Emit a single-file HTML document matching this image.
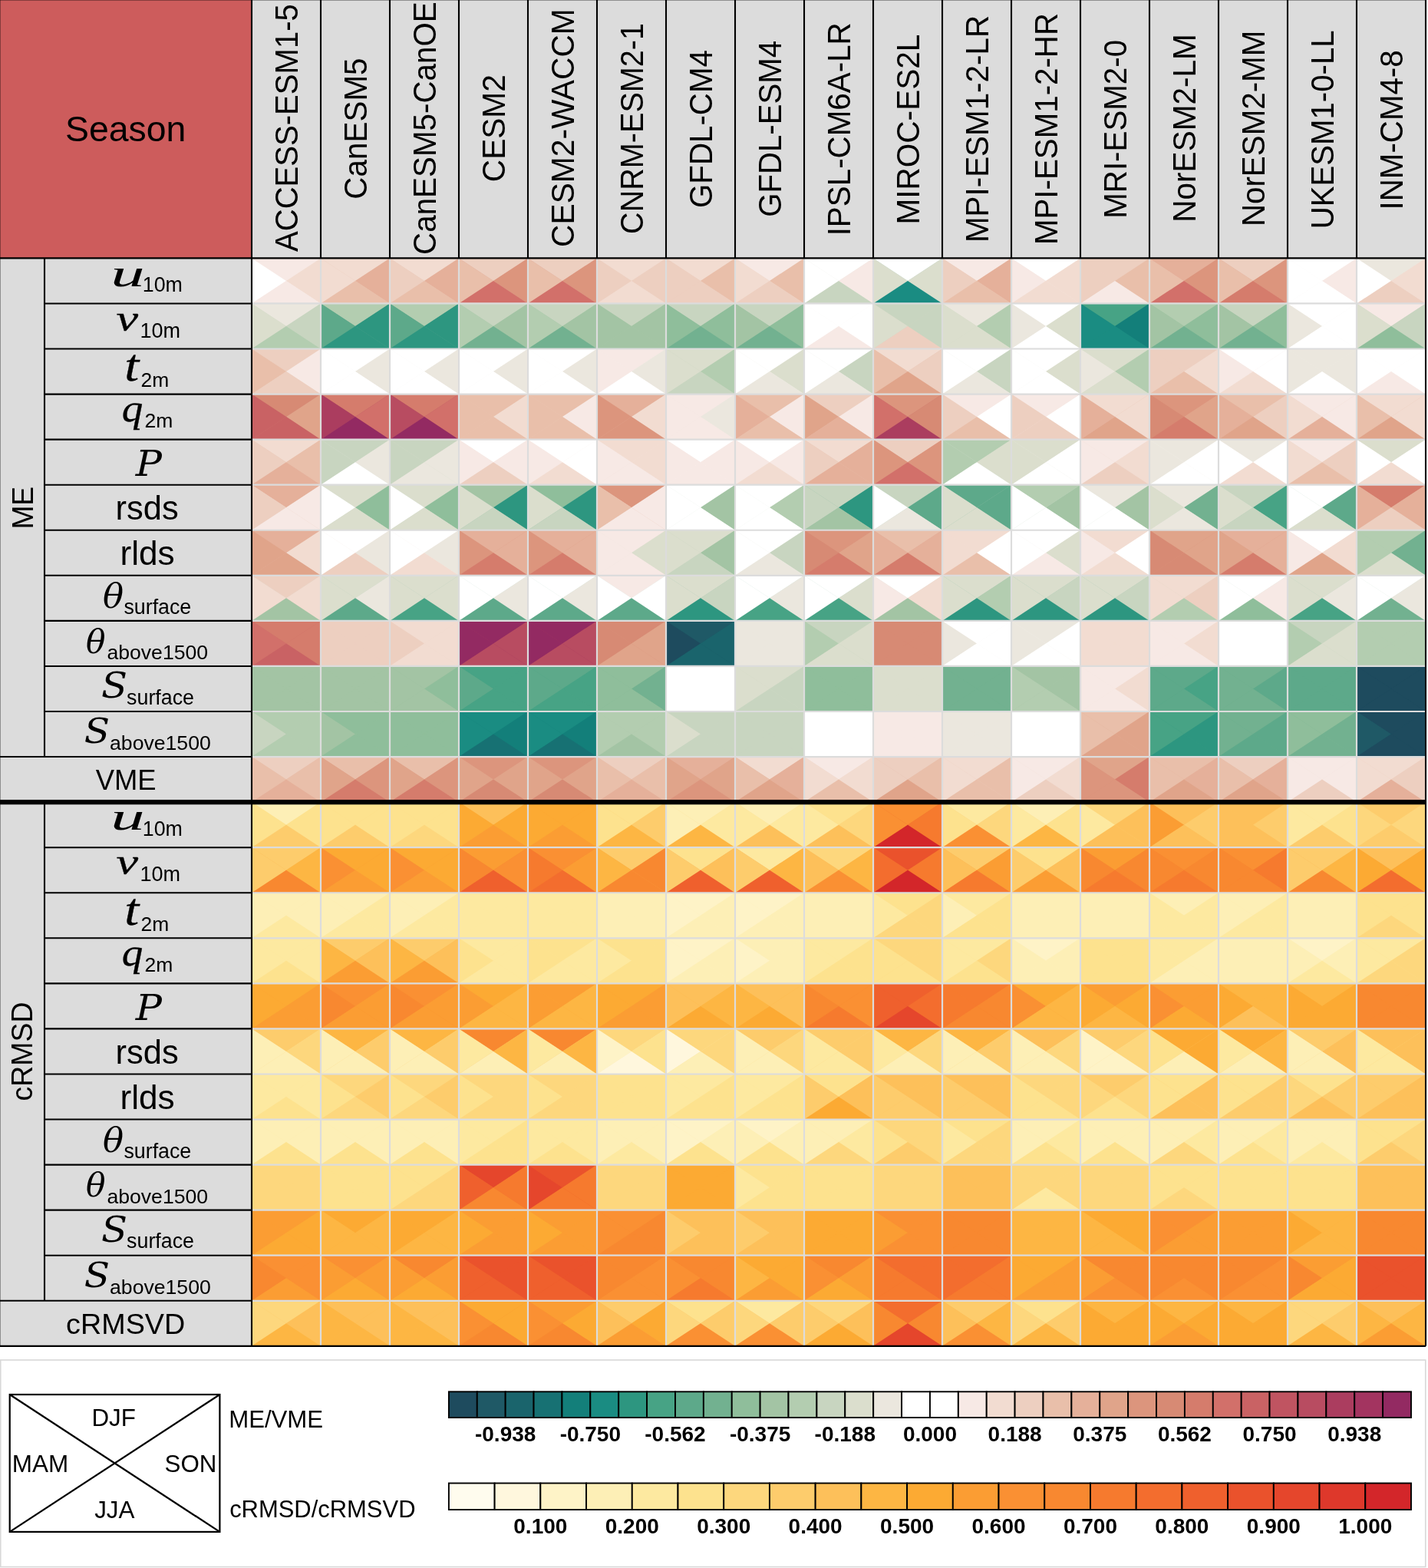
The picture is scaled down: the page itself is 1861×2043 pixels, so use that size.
<!DOCTYPE html><html><head><meta charset="utf-8"><title>Portrait diagram</title><style>html,body{margin:0;padding:0;background:#fff;overflow:hidden;}svg{display:block;}</style></head><body><svg width="1861" height="2043" viewBox="0 0 1861 2043"><rect x="0" y="0" width="1861" height="2043" fill="#fff"/><rect x="0" y="0" width="328" height="336.4" fill="#cd5c5c"/><rect x="328" y="0" width="1530" height="336.4" fill="#dcdcdc"/><rect x="0" y="336.4" width="328" height="1417.44" fill="#dcdcdc"/><g shape-rendering="auto"><rect x="328" y="336.4" width="90" height="59.06" fill="#f8ebe6"/><path fill="#f7e9e5" d="M328 336.4H418L373 365.93Z"/><path fill="#ffffff" d="M328 336.4V395.46L373 365.93Z"/><path fill="#f2dcd1" d="M418 336.4V395.46L373 365.93Z"/><path fill="#f7e9e5" d="M328 395.46H418L373 365.93Z"/><rect x="418" y="336.4" width="90" height="59.06" fill="#eccaba"/><path fill="#f2dcd1" d="M418 336.4H508L463 365.93Z"/><path fill="#f2dcd1" d="M418 336.4V395.46L463 365.93Z"/><path fill="#e5b09a" d="M508 336.4V395.46L463 365.93Z"/><path fill="#e9bfaa" d="M418 395.46H508L463 365.93Z"/><rect x="508" y="336.4" width="90" height="59.06" fill="#ebc6b5"/><path fill="#f2dcd1" d="M508 336.4H598L553 365.93Z"/><path fill="#edcfc0" d="M508 336.4V395.46L553 365.93Z"/><path fill="#e5b09a" d="M598 336.4V395.46L553 365.93Z"/><path fill="#e9bfaa" d="M508 395.46H598L553 365.93Z"/><rect x="598" y="336.4" width="90" height="59.06" fill="#e1a594"/><path fill="#edcfc0" d="M598 336.4H688L643 365.93Z"/><path fill="#e9bfaa" d="M598 336.4V395.46L643 365.93Z"/><path fill="#dc957d" d="M688 336.4V395.46L643 365.93Z"/><path fill="#d2706a" d="M598 395.46H688L643 365.93Z"/><rect x="688" y="336.4" width="90" height="59.06" fill="#e1a594"/><path fill="#edcfc0" d="M688 336.4H778L733 365.93Z"/><path fill="#e9bfaa" d="M688 336.4V395.46L733 365.93Z"/><path fill="#dc957d" d="M778 336.4V395.46L733 365.93Z"/><path fill="#d2706a" d="M688 395.46H778L733 365.93Z"/><rect x="778" y="336.4" width="90" height="59.06" fill="#f0d6c8"/><path fill="#f2dcd1" d="M778 336.4H868L823 365.93Z"/><path fill="#edcfc0" d="M778 336.4V395.46L823 365.93Z"/><path fill="#edcfc0" d="M868 336.4V395.46L823 365.93Z"/><path fill="#f2dcd1" d="M778 395.46H868L823 365.93Z"/><rect x="868" y="336.4" width="90" height="59.06" fill="#edcebf"/><path fill="#f2dcd1" d="M868 336.4H958L913 365.93Z"/><path fill="#edcfc0" d="M868 336.4V395.46L913 365.93Z"/><path fill="#e9bfaa" d="M958 336.4V395.46L913 365.93Z"/><path fill="#edcfc0" d="M868 395.46H958L913 365.93Z"/><rect x="958" y="336.4" width="90" height="59.06" fill="#f0d5c8"/><path fill="#f7e9e5" d="M958 336.4H1048L1003 365.93Z"/><path fill="#f2dcd1" d="M958 336.4V395.46L1003 365.93Z"/><path fill="#e9bfaa" d="M1048 336.4V395.46L1003 365.93Z"/><path fill="#edcfc0" d="M958 395.46H1048L1003 365.93Z"/><rect x="1048" y="336.4" width="90" height="59.06" fill="#efefe9"/><path fill="#ffffff" d="M1048 336.4H1138L1093 365.93Z"/><path fill="#ffffff" d="M1048 336.4V395.46L1093 365.93Z"/><path fill="#f7e9e5" d="M1138 336.4V395.46L1093 365.93Z"/><path fill="#c8d5c0" d="M1048 395.46H1138L1093 365.93Z"/><rect x="1138" y="336.4" width="90" height="59.06" fill="#b4d2c7"/><path fill="#ffffff" d="M1138 336.4H1228L1183 365.93Z"/><path fill="#dbdecd" d="M1138 336.4V395.46L1183 365.93Z"/><path fill="#dbdecd" d="M1228 336.4V395.46L1183 365.93Z"/><path fill="#1a8c82" d="M1138 395.46H1228L1183 365.93Z"/><rect x="1228" y="336.4" width="90" height="59.06" fill="#eccaba"/><path fill="#f7e9e5" d="M1228 336.4H1318L1273 365.93Z"/><path fill="#edcfc0" d="M1228 336.4V395.46L1273 365.93Z"/><path fill="#e5b09a" d="M1318 336.4V395.46L1273 365.93Z"/><path fill="#e9bfaa" d="M1228 395.46H1318L1273 365.93Z"/><rect x="1318" y="336.4" width="90" height="59.06" fill="#f6e8e2"/><path fill="#ffffff" d="M1318 336.4H1408L1363 365.93Z"/><path fill="#f7e9e5" d="M1318 336.4V395.46L1363 365.93Z"/><path fill="#f2dcd1" d="M1408 336.4V395.46L1363 365.93Z"/><path fill="#f2dcd1" d="M1318 395.46H1408L1363 365.93Z"/><rect x="1408" y="336.4" width="90" height="59.06" fill="#eed2c4"/><path fill="#edcfc0" d="M1408 336.4H1498L1453 365.93Z"/><path fill="#edcfc0" d="M1408 336.4V395.46L1453 365.93Z"/><path fill="#e9bfaa" d="M1498 336.4V395.46L1453 365.93Z"/><path fill="#f7e9e5" d="M1408 395.46H1498L1453 365.93Z"/><rect x="1498" y="336.4" width="90" height="59.06" fill="#df9d8b"/><path fill="#e5b09a" d="M1498 336.4H1588L1543 365.93Z"/><path fill="#e9bfaa" d="M1498 336.4V395.46L1543 365.93Z"/><path fill="#dc957d" d="M1588 336.4V395.46L1543 365.93Z"/><path fill="#d2706a" d="M1498 395.46H1588L1543 365.93Z"/><rect x="1588" y="336.4" width="90" height="59.06" fill="#e2a895"/><path fill="#edcfc0" d="M1588 336.4H1678L1633 365.93Z"/><path fill="#e9bfaa" d="M1588 336.4V395.46L1633 365.93Z"/><path fill="#dc957d" d="M1678 336.4V395.46L1633 365.93Z"/><path fill="#d57c6c" d="M1588 395.46H1678L1633 365.93Z"/><rect x="1678" y="336.4" width="90" height="59.06" fill="#fdfaf8"/><path fill="#ffffff" d="M1678 336.4H1768L1723 365.93Z"/><path fill="#ffffff" d="M1678 336.4V395.46L1723 365.93Z"/><path fill="#f7e9e5" d="M1768 336.4V395.46L1723 365.93Z"/><path fill="#ffffff" d="M1678 395.46H1768L1723 365.93Z"/><rect x="1768" y="336.4" width="90" height="59.06" fill="#f2e4dc"/><path fill="#ebe7de" d="M1768 336.4H1858L1813 365.93Z"/><path fill="#ffffff" d="M1768 336.4V395.46L1813 365.93Z"/><path fill="#f2dcd1" d="M1858 336.4V395.46L1813 365.93Z"/><path fill="#edcfc0" d="M1768 395.46H1858L1813 365.93Z"/><rect x="328" y="395.46" width="90" height="59.06" fill="#d0dac7"/><path fill="#ebe7de" d="M328 395.46H418L373 424.99Z"/><path fill="#dbdecd" d="M328 395.46V454.52L373 424.99Z"/><path fill="#c8d5c0" d="M418 395.46V454.52L373 424.99Z"/><path fill="#b3cdb0" d="M328 454.52H418L373 424.99Z"/><rect x="418" y="395.46" width="90" height="59.06" fill="#5aa88e"/><path fill="#b3cdb0" d="M418 395.46H508L463 424.99Z"/><path fill="#5da98a" d="M418 395.46V454.52L463 424.99Z"/><path fill="#2d9680" d="M508 395.46V454.52L463 424.99Z"/><path fill="#2d9680" d="M418 454.52H508L463 424.99Z"/><rect x="508" y="395.46" width="90" height="59.06" fill="#5aa88e"/><path fill="#b3cdb0" d="M508 395.46H598L553 424.99Z"/><path fill="#5da98a" d="M508 395.46V454.52L553 424.99Z"/><path fill="#2d9680" d="M598 395.46V454.52L553 424.99Z"/><path fill="#2d9680" d="M508 454.52H598L553 424.99Z"/><rect x="598" y="395.46" width="90" height="59.06" fill="#a4c6a9"/><path fill="#c8d5c0" d="M598 395.46H688L643 424.99Z"/><path fill="#b3cdb0" d="M598 395.46V454.52L643 424.99Z"/><path fill="#a3c4a4" d="M688 395.46V454.52L643 424.99Z"/><path fill="#72b190" d="M598 454.52H688L643 424.99Z"/><rect x="688" y="395.46" width="90" height="59.06" fill="#a4c6a9"/><path fill="#c8d5c0" d="M688 395.46H778L733 424.99Z"/><path fill="#b3cdb0" d="M688 395.46V454.52L733 424.99Z"/><path fill="#a3c4a4" d="M778 395.46V454.52L733 424.99Z"/><path fill="#72b190" d="M688 454.52H778L733 424.99Z"/><rect x="778" y="395.46" width="90" height="59.06" fill="#acc8ab"/><path fill="#c8d5c0" d="M778 395.46H868L823 424.99Z"/><path fill="#a3c4a4" d="M778 395.46V454.52L823 424.99Z"/><path fill="#a3c4a4" d="M868 395.46V454.52L823 424.99Z"/><path fill="#a3c4a4" d="M778 454.52H868L823 424.99Z"/><rect x="868" y="395.46" width="90" height="59.06" fill="#96c0a2"/><path fill="#c8d5c0" d="M868 395.46H958L913 424.99Z"/><path fill="#8fbe9b" d="M868 395.46V454.52L913 424.99Z"/><path fill="#8fbe9b" d="M958 395.46V454.52L913 424.99Z"/><path fill="#72b190" d="M868 454.52H958L913 424.99Z"/><rect x="958" y="395.46" width="90" height="59.06" fill="#9bc2a4"/><path fill="#c8d5c0" d="M958 395.46H1048L1003 424.99Z"/><path fill="#a3c4a4" d="M958 395.46V454.52L1003 424.99Z"/><path fill="#8fbe9b" d="M1048 395.46V454.52L1003 424.99Z"/><path fill="#72b190" d="M958 454.52H1048L1003 424.99Z"/><rect x="1048" y="395.46" width="90" height="59.06" fill="#fdfaf8"/><path fill="#ffffff" d="M1048 395.46H1138L1093 424.99Z"/><path fill="#ffffff" d="M1048 395.46V454.52L1093 424.99Z"/><path fill="#ffffff" d="M1138 395.46V454.52L1093 424.99Z"/><path fill="#f7e9e5" d="M1048 454.52H1138L1093 424.99Z"/><rect x="1138" y="395.46" width="90" height="59.06" fill="#d6d6c3"/><path fill="#c8d5c0" d="M1138 395.46H1228L1183 424.99Z"/><path fill="#dbdecd" d="M1138 395.46V454.52L1183 424.99Z"/><path fill="#c8d5c0" d="M1228 395.46V454.52L1183 424.99Z"/><path fill="#edcfc0" d="M1138 454.52H1228L1183 424.99Z"/><rect x="1228" y="395.46" width="90" height="59.06" fill="#d5dcca"/><path fill="#ebe7de" d="M1228 395.46H1318L1273 424.99Z"/><path fill="#dbdecd" d="M1228 395.46V454.52L1273 424.99Z"/><path fill="#b3cdb0" d="M1318 395.46V454.52L1273 424.99Z"/><path fill="#dbdecd" d="M1228 454.52H1318L1273 424.99Z"/><rect x="1318" y="395.46" width="90" height="59.06" fill="#f1f1ea"/><path fill="#ffffff" d="M1318 395.46H1408L1363 424.99Z"/><path fill="#ebe7de" d="M1318 395.46V454.52L1363 424.99Z"/><path fill="#dbdecd" d="M1408 395.46V454.52L1363 424.99Z"/><path fill="#ffffff" d="M1318 454.52H1408L1363 424.99Z"/><rect x="1408" y="395.46" width="90" height="59.06" fill="#248e81"/><path fill="#47a385" d="M1408 395.46H1498L1453 424.99Z"/><path fill="#1a8c82" d="M1408 395.46V454.52L1453 424.99Z"/><path fill="#137f7a" d="M1498 395.46V454.52L1453 424.99Z"/><path fill="#1a8c82" d="M1408 454.52H1498L1453 424.99Z"/><rect x="1498" y="395.46" width="90" height="59.06" fill="#96c0a0"/><path fill="#b3cdb0" d="M1498 395.46H1588L1543 424.99Z"/><path fill="#a3c4a4" d="M1498 395.46V454.52L1543 424.99Z"/><path fill="#8fbe9b" d="M1588 395.46V454.52L1543 424.99Z"/><path fill="#72b190" d="M1498 454.52H1588L1543 424.99Z"/><rect x="1588" y="395.46" width="90" height="59.06" fill="#9bc2a4"/><path fill="#c8d5c0" d="M1588 395.46H1678L1633 424.99Z"/><path fill="#a3c4a4" d="M1588 395.46V454.52L1633 424.99Z"/><path fill="#8fbe9b" d="M1678 395.46V454.52L1633 424.99Z"/><path fill="#72b190" d="M1588 454.52H1678L1633 424.99Z"/><rect x="1678" y="395.46" width="90" height="59.06" fill="#faf9f7"/><path fill="#ffffff" d="M1678 395.46H1768L1723 424.99Z"/><path fill="#ebe7de" d="M1678 395.46V454.52L1723 424.99Z"/><path fill="#ffffff" d="M1768 395.46V454.52L1723 424.99Z"/><path fill="#ffffff" d="M1678 454.52H1768L1723 424.99Z"/><rect x="1768" y="395.46" width="90" height="59.06" fill="#cad6c3"/><path fill="#f7e9e5" d="M1768 395.46H1858L1813 424.99Z"/><path fill="#dbdecd" d="M1768 395.46V454.52L1813 424.99Z"/><path fill="#c8d5c0" d="M1858 395.46V454.52L1813 424.99Z"/><path fill="#8fbe9b" d="M1768 454.52H1858L1813 424.99Z"/><rect x="328" y="454.52" width="90" height="59.06" fill="#eed2c4"/><path fill="#edcfc0" d="M328 454.52H418L373 484.05Z"/><path fill="#e9bfaa" d="M328 454.52V513.58L373 484.05Z"/><path fill="#f7e9e5" d="M418 454.52V513.58L373 484.05Z"/><path fill="#edcfc0" d="M328 513.58H418L373 484.05Z"/><rect x="418" y="454.52" width="90" height="59.06" fill="#faf9f7"/><path fill="#ffffff" d="M418 454.52H508L463 484.05Z"/><path fill="#ffffff" d="M418 454.52V513.58L463 484.05Z"/><path fill="#ebe7de" d="M508 454.52V513.58L463 484.05Z"/><path fill="#ffffff" d="M418 513.58H508L463 484.05Z"/><rect x="508" y="454.52" width="90" height="59.06" fill="#faf9f7"/><path fill="#ffffff" d="M508 454.52H598L553 484.05Z"/><path fill="#ffffff" d="M508 454.52V513.58L553 484.05Z"/><path fill="#ebe7de" d="M598 454.52V513.58L553 484.05Z"/><path fill="#ffffff" d="M508 513.58H598L553 484.05Z"/><rect x="598" y="454.52" width="90" height="59.06" fill="#faf9f7"/><path fill="#ffffff" d="M598 454.52H688L643 484.05Z"/><path fill="#ffffff" d="M598 454.52V513.58L643 484.05Z"/><path fill="#ebe7de" d="M688 454.52V513.58L643 484.05Z"/><path fill="#ffffff" d="M598 513.58H688L643 484.05Z"/><rect x="688" y="454.52" width="90" height="59.06" fill="#faf9f7"/><path fill="#ffffff" d="M688 454.52H778L733 484.05Z"/><path fill="#ffffff" d="M688 454.52V513.58L733 484.05Z"/><path fill="#ebe7de" d="M778 454.52V513.58L733 484.05Z"/><path fill="#ffffff" d="M688 513.58H778L733 484.05Z"/><rect x="778" y="454.52" width="90" height="59.06" fill="#f6eeea"/><path fill="#f7e9e5" d="M778 454.52H868L823 484.05Z"/><path fill="#f7e9e5" d="M778 454.52V513.58L823 484.05Z"/><path fill="#ebe7de" d="M868 454.52V513.58L823 484.05Z"/><path fill="#ffffff" d="M778 513.58H868L823 484.05Z"/><rect x="868" y="454.52" width="90" height="59.06" fill="#ccd8c2"/><path fill="#dbdecd" d="M868 454.52H958L913 484.05Z"/><path fill="#dbdecd" d="M868 454.52V513.58L913 484.05Z"/><path fill="#b3cdb0" d="M958 454.52V513.58L913 484.05Z"/><path fill="#c8d5c0" d="M868 513.58H958L913 484.05Z"/><rect x="958" y="454.52" width="90" height="59.06" fill="#f1f1ea"/><path fill="#ffffff" d="M958 454.52H1048L1003 484.05Z"/><path fill="#ffffff" d="M958 454.52V513.58L1003 484.05Z"/><path fill="#dbdecd" d="M1048 454.52V513.58L1003 484.05Z"/><path fill="#ebe7de" d="M958 513.58H1048L1003 484.05Z"/><rect x="1048" y="454.52" width="90" height="59.06" fill="#eceee7"/><path fill="#ffffff" d="M1048 454.52H1138L1093 484.05Z"/><path fill="#ffffff" d="M1048 454.52V513.58L1093 484.05Z"/><path fill="#c8d5c0" d="M1138 454.52V513.58L1093 484.05Z"/><path fill="#ebe7de" d="M1048 513.58H1138L1093 484.05Z"/><rect x="1138" y="454.52" width="90" height="59.06" fill="#eac4b1"/><path fill="#f2dcd1" d="M1138 454.52H1228L1183 484.05Z"/><path fill="#e9bfaa" d="M1138 454.52V513.58L1183 484.05Z"/><path fill="#edcfc0" d="M1228 454.52V513.58L1183 484.05Z"/><path fill="#e0a48a" d="M1138 513.58H1228L1183 484.05Z"/><rect x="1228" y="454.52" width="90" height="59.06" fill="#eceee7"/><path fill="#ffffff" d="M1228 454.52H1318L1273 484.05Z"/><path fill="#ffffff" d="M1228 454.52V513.58L1273 484.05Z"/><path fill="#c8d5c0" d="M1318 454.52V513.58L1273 484.05Z"/><path fill="#ebe7de" d="M1228 513.58H1318L1273 484.05Z"/><rect x="1318" y="454.52" width="90" height="59.06" fill="#f6f7f2"/><path fill="#ffffff" d="M1318 454.52H1408L1363 484.05Z"/><path fill="#ffffff" d="M1318 454.52V513.58L1363 484.05Z"/><path fill="#dbdecd" d="M1408 454.52V513.58L1363 484.05Z"/><path fill="#ffffff" d="M1318 513.58H1408L1363 484.05Z"/><rect x="1408" y="454.52" width="90" height="59.06" fill="#d5dcca"/><path fill="#dbdecd" d="M1408 454.52H1498L1453 484.05Z"/><path fill="#ebe7de" d="M1408 454.52V513.58L1453 484.05Z"/><path fill="#b3cdb0" d="M1498 454.52V513.58L1453 484.05Z"/><path fill="#dbdecd" d="M1408 513.58H1498L1453 484.05Z"/><rect x="1498" y="454.52" width="90" height="59.06" fill="#edcebf"/><path fill="#edcfc0" d="M1498 454.52H1588L1543 484.05Z"/><path fill="#edcfc0" d="M1498 454.52V513.58L1543 484.05Z"/><path fill="#f2dcd1" d="M1588 454.52V513.58L1543 484.05Z"/><path fill="#e9bfaa" d="M1498 513.58H1588L1543 484.05Z"/><rect x="1588" y="454.52" width="90" height="59.06" fill="#faf1ed"/><path fill="#ffffff" d="M1588 454.52H1678L1633 484.05Z"/><path fill="#f7e9e5" d="M1588 454.52V513.58L1633 484.05Z"/><path fill="#ffffff" d="M1678 454.52V513.58L1633 484.05Z"/><path fill="#f2dcd1" d="M1588 513.58H1678L1633 484.05Z"/><rect x="1678" y="454.52" width="90" height="59.06" fill="#f0ede6"/><path fill="#ebe7de" d="M1678 454.52H1768L1723 484.05Z"/><path fill="#ebe7de" d="M1678 454.52V513.58L1723 484.05Z"/><path fill="#ebe7de" d="M1768 454.52V513.58L1723 484.05Z"/><path fill="#ffffff" d="M1678 513.58H1768L1723 484.05Z"/><rect x="1768" y="454.52" width="90" height="59.06" fill="#fdfaf8"/><path fill="#ffffff" d="M1768 454.52H1858L1813 484.05Z"/><path fill="#ffffff" d="M1768 454.52V513.58L1813 484.05Z"/><path fill="#ffffff" d="M1858 454.52V513.58L1813 484.05Z"/><path fill="#f7e9e5" d="M1768 513.58H1858L1813 484.05Z"/><rect x="328" y="513.58" width="90" height="59.06" fill="#d27c72"/><path fill="#d78a74" d="M328 513.58H418L373 543.11Z"/><path fill="#c96264" d="M328 513.58V572.64L373 543.11Z"/><path fill="#e0a48a" d="M418 513.58V572.64L373 543.11Z"/><path fill="#c96264" d="M328 572.64H418L373 543.11Z"/><rect x="418" y="513.58" width="90" height="59.06" fill="#b95566"/><path fill="#d57c6c" d="M418 513.58H508L463 543.11Z"/><path fill="#ab3d5f" d="M418 513.58V572.64L463 543.11Z"/><path fill="#d2706a" d="M508 513.58V572.64L463 543.11Z"/><path fill="#932a62" d="M418 572.64H508L463 543.11Z"/><rect x="508" y="513.58" width="90" height="59.06" fill="#bc5866"/><path fill="#d57c6c" d="M508 513.58H598L553 543.11Z"/><path fill="#b84c61" d="M508 513.58V572.64L553 543.11Z"/><path fill="#d2706a" d="M598 513.58V572.64L553 543.11Z"/><path fill="#932a62" d="M508 572.64H598L553 543.11Z"/><rect x="598" y="513.58" width="90" height="59.06" fill="#ebc6b4"/><path fill="#e9bfaa" d="M598 513.58H688L643 543.11Z"/><path fill="#e9bfaa" d="M598 513.58V572.64L643 543.11Z"/><path fill="#f2dcd1" d="M688 513.58V572.64L643 543.11Z"/><path fill="#e9bfaa" d="M598 572.64H688L643 543.11Z"/><rect x="688" y="513.58" width="90" height="59.06" fill="#eccab9"/><path fill="#e9bfaa" d="M688 513.58H778L733 543.11Z"/><path fill="#e9bfaa" d="M688 513.58V572.64L733 543.11Z"/><path fill="#f7e9e5" d="M778 513.58V572.64L733 543.11Z"/><path fill="#e9bfaa" d="M688 572.64H778L733 543.11Z"/><rect x="778" y="513.58" width="90" height="59.06" fill="#e4ae99"/><path fill="#e5b09a" d="M778 513.58H868L823 543.11Z"/><path fill="#dc957d" d="M778 513.58V572.64L823 543.11Z"/><path fill="#f2dcd1" d="M868 513.58V572.64L823 543.11Z"/><path fill="#dc957d" d="M778 572.64H868L823 543.11Z"/><rect x="868" y="513.58" width="90" height="59.06" fill="#f4e8e3"/><path fill="#f7e9e5" d="M868 513.58H958L913 543.11Z"/><path fill="#f7e9e5" d="M868 513.58V572.64L913 543.11Z"/><path fill="#ebe7de" d="M958 513.58V572.64L913 543.11Z"/><path fill="#f7e9e5" d="M868 572.64H958L913 543.11Z"/><rect x="958" y="513.58" width="90" height="59.06" fill="#ecc6b5"/><path fill="#e9bfaa" d="M958 513.58H1048L1003 543.11Z"/><path fill="#e5b09a" d="M958 513.58V572.64L1003 543.11Z"/><path fill="#f7e9e5" d="M1048 513.58V572.64L1003 543.11Z"/><path fill="#e9bfaa" d="M958 572.64H1048L1003 543.11Z"/><rect x="1048" y="513.58" width="90" height="59.06" fill="#eac3b2"/><path fill="#edcfc0" d="M1048 513.58H1138L1093 543.11Z"/><path fill="#e0a48a" d="M1048 513.58V572.64L1093 543.11Z"/><path fill="#f7e9e5" d="M1138 513.58V572.64L1093 543.11Z"/><path fill="#e5b09a" d="M1048 572.64H1138L1093 543.11Z"/><rect x="1138" y="513.58" width="90" height="59.06" fill="#cc736e"/><path fill="#dc957d" d="M1138 513.58H1228L1183 543.11Z"/><path fill="#d2706a" d="M1138 513.58V572.64L1183 543.11Z"/><path fill="#d78a74" d="M1228 513.58V572.64L1183 543.11Z"/><path fill="#ab3d5f" d="M1138 572.64H1228L1183 543.11Z"/><rect x="1228" y="513.58" width="90" height="59.06" fill="#f3ded4"/><path fill="#f7e9e5" d="M1228 513.58H1318L1273 543.11Z"/><path fill="#edcfc0" d="M1228 513.58V572.64L1273 543.11Z"/><path fill="#ffffff" d="M1318 513.58V572.64L1273 543.11Z"/><path fill="#e9bfaa" d="M1228 572.64H1318L1273 543.11Z"/><rect x="1318" y="513.58" width="90" height="59.06" fill="#f4e2d9"/><path fill="#f7e9e5" d="M1318 513.58H1408L1363 543.11Z"/><path fill="#edcfc0" d="M1318 513.58V572.64L1363 543.11Z"/><path fill="#ffffff" d="M1408 513.58V572.64L1363 543.11Z"/><path fill="#edcfc0" d="M1318 572.64H1408L1363 543.11Z"/><rect x="1408" y="513.58" width="90" height="59.06" fill="#eac3b2"/><path fill="#f2dcd1" d="M1408 513.58H1498L1453 543.11Z"/><path fill="#e5b09a" d="M1408 513.58V572.64L1453 543.11Z"/><path fill="#f2dcd1" d="M1498 513.58V572.64L1453 543.11Z"/><path fill="#e0a48a" d="M1408 572.64H1498L1453 543.11Z"/><rect x="1498" y="513.58" width="90" height="59.06" fill="#da907a"/><path fill="#dc957d" d="M1498 513.58H1588L1543 543.11Z"/><path fill="#d78a74" d="M1498 513.58V572.64L1543 543.11Z"/><path fill="#e0a48a" d="M1588 513.58V572.64L1543 543.11Z"/><path fill="#d57c6c" d="M1498 572.64H1588L1543 543.11Z"/><rect x="1588" y="513.58" width="90" height="59.06" fill="#e7b8a4"/><path fill="#e9bfaa" d="M1588 513.58H1678L1633 543.11Z"/><path fill="#e5b09a" d="M1588 513.58V572.64L1633 543.11Z"/><path fill="#edcfc0" d="M1678 513.58V572.64L1633 543.11Z"/><path fill="#e0a48a" d="M1588 572.64H1678L1633 543.11Z"/><rect x="1678" y="513.58" width="90" height="59.06" fill="#f1d8cd"/><path fill="#f7e9e5" d="M1678 513.58H1768L1723 543.11Z"/><path fill="#f2dcd1" d="M1678 513.58V572.64L1723 543.11Z"/><path fill="#f7e9e5" d="M1768 513.58V572.64L1723 543.11Z"/><path fill="#e5b09a" d="M1678 572.64H1768L1723 543.11Z"/><rect x="1768" y="513.58" width="90" height="59.06" fill="#ebc7b6"/><path fill="#f2dcd1" d="M1768 513.58H1858L1813 543.11Z"/><path fill="#e9bfaa" d="M1768 513.58V572.64L1813 543.11Z"/><path fill="#f2dcd1" d="M1858 513.58V572.64L1813 543.11Z"/><path fill="#e0a48a" d="M1768 572.64H1858L1813 543.11Z"/><rect x="328" y="572.64" width="90" height="59.06" fill="#ebc6b5"/><path fill="#f2dcd1" d="M328 572.64H418L373 602.17Z"/><path fill="#edcfc0" d="M328 572.64V631.7L373 602.17Z"/><path fill="#e9bfaa" d="M418 572.64V631.7L373 602.17Z"/><path fill="#e5b09a" d="M328 631.7H418L373 602.17Z"/><rect x="418" y="572.64" width="90" height="59.06" fill="#dee4d7"/><path fill="#c8d5c0" d="M418 572.64H508L463 602.17Z"/><path fill="#c8d5c0" d="M418 572.64V631.7L463 602.17Z"/><path fill="#ebe7de" d="M508 572.64V631.7L463 602.17Z"/><path fill="#ffffff" d="M418 631.7H508L463 602.17Z"/><rect x="508" y="572.64" width="90" height="59.06" fill="#dadecf"/><path fill="#c8d5c0" d="M508 572.64H598L553 602.17Z"/><path fill="#c8d5c0" d="M508 572.64V631.7L553 602.17Z"/><path fill="#ebe7de" d="M598 572.64V631.7L553 602.17Z"/><path fill="#ebe7de" d="M508 631.7H598L553 602.17Z"/><rect x="598" y="572.64" width="90" height="59.06" fill="#f6e8e2"/><path fill="#ffffff" d="M598 572.64H688L643 602.17Z"/><path fill="#f7e9e5" d="M598 572.64V631.7L643 602.17Z"/><path fill="#f7e9e5" d="M688 572.64V631.7L643 602.17Z"/><path fill="#edcfc0" d="M598 631.7H688L643 602.17Z"/><rect x="688" y="572.64" width="90" height="59.06" fill="#faf1ed"/><path fill="#ffffff" d="M688 572.64H778L733 602.17Z"/><path fill="#f7e9e5" d="M688 572.64V631.7L733 602.17Z"/><path fill="#ffffff" d="M778 572.64V631.7L733 602.17Z"/><path fill="#f2dcd1" d="M688 631.7H778L733 602.17Z"/><rect x="778" y="572.64" width="90" height="59.06" fill="#f4e2db"/><path fill="#f2dcd1" d="M778 572.64H868L823 602.17Z"/><path fill="#f7e9e5" d="M778 572.64V631.7L823 602.17Z"/><path fill="#f2dcd1" d="M868 572.64V631.7L823 602.17Z"/><path fill="#f7e9e5" d="M778 631.7H868L823 602.17Z"/><rect x="868" y="572.64" width="90" height="59.06" fill="#f9eeec"/><path fill="#ffffff" d="M868 572.64H958L913 602.17Z"/><path fill="#f7e9e5" d="M868 572.64V631.7L913 602.17Z"/><path fill="#f7e9e5" d="M958 572.64V631.7L913 602.17Z"/><path fill="#f7e9e5" d="M868 631.7H958L913 602.17Z"/><rect x="958" y="572.64" width="90" height="59.06" fill="#f8ebe6"/><path fill="#ffffff" d="M958 572.64H1048L1003 602.17Z"/><path fill="#f7e9e5" d="M958 572.64V631.7L1003 602.17Z"/><path fill="#f7e9e5" d="M1048 572.64V631.7L1003 602.17Z"/><path fill="#f2dcd1" d="M958 631.7H1048L1003 602.17Z"/><rect x="1048" y="572.64" width="90" height="59.06" fill="#eac3b1"/><path fill="#f2dcd1" d="M1048 572.64H1138L1093 602.17Z"/><path fill="#edcfc0" d="M1048 572.64V631.7L1093 602.17Z"/><path fill="#e5b09a" d="M1138 572.64V631.7L1093 602.17Z"/><path fill="#e5b09a" d="M1048 631.7H1138L1093 602.17Z"/><rect x="1138" y="572.64" width="90" height="59.06" fill="#de9a89"/><path fill="#edcfc0" d="M1138 572.64H1228L1183 602.17Z"/><path fill="#dc957d" d="M1138 572.64V631.7L1183 602.17Z"/><path fill="#dc957d" d="M1228 572.64V631.7L1183 602.17Z"/><path fill="#d2706a" d="M1138 631.7H1228L1183 602.17Z"/><rect x="1228" y="572.64" width="90" height="59.06" fill="#d0decb"/><path fill="#b3cdb0" d="M1228 572.64H1318L1273 602.17Z"/><path fill="#b3cdb0" d="M1228 572.64V631.7L1273 602.17Z"/><path fill="#dbdecd" d="M1318 572.64V631.7L1273 602.17Z"/><path fill="#ffffff" d="M1228 631.7H1318L1273 602.17Z"/><rect x="1318" y="572.64" width="90" height="59.06" fill="#edeee6"/><path fill="#dbdecd" d="M1318 572.64H1408L1363 602.17Z"/><path fill="#dbdecd" d="M1318 572.64V631.7L1363 602.17Z"/><path fill="#ffffff" d="M1408 572.64V631.7L1363 602.17Z"/><path fill="#ffffff" d="M1318 631.7H1408L1363 602.17Z"/><rect x="1408" y="572.64" width="90" height="59.06" fill="#f3dfd7"/><path fill="#f7e9e5" d="M1408 572.64H1498L1453 602.17Z"/><path fill="#f7e9e5" d="M1408 572.64V631.7L1453 602.17Z"/><path fill="#f2dcd1" d="M1498 572.64V631.7L1453 602.17Z"/><path fill="#edcfc0" d="M1408 631.7H1498L1453 602.17Z"/><rect x="1498" y="572.64" width="90" height="59.06" fill="#f5f3ee"/><path fill="#ebe7de" d="M1498 572.64H1588L1543 602.17Z"/><path fill="#ebe7de" d="M1498 572.64V631.7L1543 602.17Z"/><path fill="#ffffff" d="M1588 572.64V631.7L1543 602.17Z"/><path fill="#ffffff" d="M1498 631.7H1588L1543 602.17Z"/><rect x="1588" y="572.64" width="90" height="59.06" fill="#f7f0eb"/><path fill="#ebe7de" d="M1588 572.64H1678L1633 602.17Z"/><path fill="#ffffff" d="M1588 572.64V631.7L1633 602.17Z"/><path fill="#ffffff" d="M1678 572.64V631.7L1633 602.17Z"/><path fill="#f2dcd1" d="M1588 631.7H1678L1633 602.17Z"/><rect x="1678" y="572.64" width="90" height="59.06" fill="#f0d5c8"/><path fill="#f7e9e5" d="M1678 572.64H1768L1723 602.17Z"/><path fill="#f2dcd1" d="M1678 572.64V631.7L1723 602.17Z"/><path fill="#edcfc0" d="M1768 572.64V631.7L1723 602.17Z"/><path fill="#e9bfaa" d="M1678 631.7H1768L1723 602.17Z"/><rect x="1768" y="572.64" width="90" height="59.06" fill="#f3eee7"/><path fill="#dbdecd" d="M1768 572.64H1858L1813 602.17Z"/><path fill="#ffffff" d="M1768 572.64V631.7L1813 602.17Z"/><path fill="#ffffff" d="M1858 572.64V631.7L1813 602.17Z"/><path fill="#f2dcd1" d="M1768 631.7H1858L1813 602.17Z"/><rect x="328" y="631.7" width="90" height="59.06" fill="#f0d4c9"/><path fill="#e5b09a" d="M328 631.7H418L373 661.23Z"/><path fill="#edcfc0" d="M328 631.7V690.76L373 661.23Z"/><path fill="#f7e9e5" d="M418 631.7V690.76L373 661.23Z"/><path fill="#f7e9e5" d="M328 690.76H418L373 661.23Z"/><rect x="418" y="631.7" width="90" height="59.06" fill="#d1decd"/><path fill="#dbdecd" d="M418 631.7H508L463 661.23Z"/><path fill="#ffffff" d="M418 631.7V690.76L463 661.23Z"/><path fill="#8fbe9b" d="M508 631.7V690.76L463 661.23Z"/><path fill="#dbdecd" d="M418 690.76H508L463 661.23Z"/><rect x="508" y="631.7" width="90" height="59.06" fill="#d1decd"/><path fill="#dbdecd" d="M508 631.7H598L553 661.23Z"/><path fill="#ffffff" d="M508 631.7V690.76L553 661.23Z"/><path fill="#8fbe9b" d="M598 631.7V690.76L553 661.23Z"/><path fill="#dbdecd" d="M508 690.76H598L553 661.23Z"/><rect x="598" y="631.7" width="90" height="59.06" fill="#9dc3ac"/><path fill="#a3c4a4" d="M598 631.7H688L643 661.23Z"/><path fill="#dbdecd" d="M598 631.7V690.76L643 661.23Z"/><path fill="#2d9680" d="M688 631.7V690.76L643 661.23Z"/><path fill="#c8d5c0" d="M598 690.76H688L643 661.23Z"/><rect x="688" y="631.7" width="90" height="59.06" fill="#98c2aa"/><path fill="#8fbe9b" d="M688 631.7H778L733 661.23Z"/><path fill="#dbdecd" d="M688 631.7V690.76L733 661.23Z"/><path fill="#2d9680" d="M778 631.7V690.76L733 661.23Z"/><path fill="#c8d5c0" d="M688 690.76H778L733 661.23Z"/><rect x="778" y="631.7" width="90" height="59.06" fill="#edcabc"/><path fill="#dc957d" d="M778 631.7H868L823 661.23Z"/><path fill="#e9bfaa" d="M778 631.7V690.76L823 661.23Z"/><path fill="#f7e9e5" d="M868 631.7V690.76L823 661.23Z"/><path fill="#f7e9e5" d="M778 690.76H868L823 661.23Z"/><rect x="868" y="631.7" width="90" height="59.06" fill="#e8f0e8"/><path fill="#ffffff" d="M868 631.7H958L913 661.23Z"/><path fill="#ffffff" d="M868 631.7V690.76L913 661.23Z"/><path fill="#a3c4a4" d="M958 631.7V690.76L913 661.23Z"/><path fill="#ffffff" d="M868 690.76H958L913 661.23Z"/><rect x="958" y="631.7" width="90" height="59.06" fill="#ecf2eb"/><path fill="#ffffff" d="M958 631.7H1048L1003 661.23Z"/><path fill="#ffffff" d="M958 631.7V690.76L1003 661.23Z"/><path fill="#b3cdb0" d="M1048 631.7V690.76L1003 661.23Z"/><path fill="#ffffff" d="M958 690.76H1048L1003 661.23Z"/><rect x="1048" y="631.7" width="90" height="59.06" fill="#98c1a9"/><path fill="#c8d5c0" d="M1048 631.7H1138L1093 661.23Z"/><path fill="#c8d5c0" d="M1048 631.7V690.76L1093 661.23Z"/><path fill="#2d9680" d="M1138 631.7V690.76L1093 661.23Z"/><path fill="#a3c4a4" d="M1048 690.76H1138L1093 661.23Z"/><rect x="1138" y="631.7" width="90" height="59.06" fill="#c4d9ca"/><path fill="#c8d5c0" d="M1138 631.7H1228L1183 661.23Z"/><path fill="#ffffff" d="M1138 631.7V690.76L1183 661.23Z"/><path fill="#5da98a" d="M1228 631.7V690.76L1183 661.23Z"/><path fill="#ebe7de" d="M1138 690.76H1228L1183 661.23Z"/><rect x="1228" y="631.7" width="90" height="59.06" fill="#9cc4ac"/><path fill="#5da98a" d="M1228 631.7H1318L1273 661.23Z"/><path fill="#dbdecd" d="M1228 631.7V690.76L1273 661.23Z"/><path fill="#5da98a" d="M1318 631.7V690.76L1273 661.23Z"/><path fill="#dbdecd" d="M1228 690.76H1318L1273 661.23Z"/><rect x="1318" y="631.7" width="90" height="59.06" fill="#d5e4d4"/><path fill="#b3cdb0" d="M1318 631.7H1408L1363 661.23Z"/><path fill="#ffffff" d="M1318 631.7V690.76L1363 661.23Z"/><path fill="#a3c4a4" d="M1408 631.7V690.76L1363 661.23Z"/><path fill="#ffffff" d="M1318 690.76H1408L1363 661.23Z"/><rect x="1408" y="631.7" width="90" height="59.06" fill="#e3eae0"/><path fill="#ebe7de" d="M1408 631.7H1498L1453 661.23Z"/><path fill="#ffffff" d="M1408 631.7V690.76L1453 661.23Z"/><path fill="#a3c4a4" d="M1498 631.7V690.76L1453 661.23Z"/><path fill="#ffffff" d="M1408 690.76H1498L1453 661.23Z"/><rect x="1498" y="631.7" width="90" height="59.06" fill="#c9d7c6"/><path fill="#ebe7de" d="M1498 631.7H1588L1543 661.23Z"/><path fill="#dbdecd" d="M1498 631.7V690.76L1543 661.23Z"/><path fill="#72b190" d="M1588 631.7V690.76L1543 661.23Z"/><path fill="#ebe7de" d="M1498 690.76H1588L1543 661.23Z"/><rect x="1588" y="631.7" width="90" height="59.06" fill="#accbb4"/><path fill="#c8d5c0" d="M1588 631.7H1678L1633 661.23Z"/><path fill="#dbdecd" d="M1588 631.7V690.76L1633 661.23Z"/><path fill="#47a385" d="M1678 631.7V690.76L1633 661.23Z"/><path fill="#c8d5c0" d="M1588 690.76H1678L1633 661.23Z"/><rect x="1678" y="631.7" width="90" height="59.06" fill="#cee1d5"/><path fill="#ffffff" d="M1678 631.7H1768L1723 661.23Z"/><path fill="#ffffff" d="M1678 631.7V690.76L1723 661.23Z"/><path fill="#5da98a" d="M1768 631.7V690.76L1723 661.23Z"/><path fill="#dbdecd" d="M1678 690.76H1768L1723 661.23Z"/><rect x="1768" y="631.7" width="90" height="59.06" fill="#e3ab98"/><path fill="#d57c6c" d="M1768 631.7H1858L1813 661.23Z"/><path fill="#e5b09a" d="M1768 631.7V690.76L1813 661.23Z"/><path fill="#e5b09a" d="M1858 631.7V690.76L1813 661.23Z"/><path fill="#edcfc0" d="M1768 690.76H1858L1813 661.23Z"/><rect x="328" y="690.76" width="90" height="59.06" fill="#e6b5a0"/><path fill="#e5b09a" d="M328 690.76H418L373 720.29Z"/><path fill="#e0a48a" d="M328 690.76V749.82L373 720.29Z"/><path fill="#f2dcd1" d="M418 690.76V749.82L373 720.29Z"/><path fill="#e0a48a" d="M328 749.82H418L373 720.29Z"/><rect x="418" y="690.76" width="90" height="59.06" fill="#f6ede7"/><path fill="#ffffff" d="M418 690.76H508L463 720.29Z"/><path fill="#ffffff" d="M418 690.76V749.82L463 720.29Z"/><path fill="#ebe7de" d="M508 690.76V749.82L463 720.29Z"/><path fill="#edcfc0" d="M418 749.82H508L463 720.29Z"/><rect x="508" y="690.76" width="90" height="59.06" fill="#f7f0eb"/><path fill="#ffffff" d="M508 690.76H598L553 720.29Z"/><path fill="#ffffff" d="M508 690.76V749.82L553 720.29Z"/><path fill="#ebe7de" d="M598 690.76V749.82L553 720.29Z"/><path fill="#f2dcd1" d="M508 749.82H598L553 720.29Z"/><rect x="598" y="690.76" width="90" height="59.06" fill="#df9c87"/><path fill="#e5b09a" d="M598 690.76H688L643 720.29Z"/><path fill="#dc957d" d="M598 690.76V749.82L643 720.29Z"/><path fill="#e5b09a" d="M688 690.76V749.82L643 720.29Z"/><path fill="#d57c6c" d="M598 749.82H688L643 720.29Z"/><rect x="688" y="690.76" width="90" height="59.06" fill="#df9c87"/><path fill="#e5b09a" d="M688 690.76H778L733 720.29Z"/><path fill="#dc957d" d="M688 690.76V749.82L733 720.29Z"/><path fill="#e5b09a" d="M778 690.76V749.82L733 720.29Z"/><path fill="#d57c6c" d="M688 749.82H778L733 720.29Z"/><rect x="778" y="690.76" width="90" height="59.06" fill="#f0e6df"/><path fill="#f7e9e5" d="M778 690.76H868L823 720.29Z"/><path fill="#f7e9e5" d="M778 690.76V749.82L823 720.29Z"/><path fill="#dbdecd" d="M868 690.76V749.82L823 720.29Z"/><path fill="#f7e9e5" d="M778 749.82H868L823 720.29Z"/><rect x="868" y="690.76" width="90" height="59.06" fill="#c8d5c0"/><path fill="#dbdecd" d="M868 690.76H958L913 720.29Z"/><path fill="#dbdecd" d="M868 690.76V749.82L913 720.29Z"/><path fill="#a3c4a4" d="M958 690.76V749.82L913 720.29Z"/><path fill="#c8d5c0" d="M868 749.82H958L913 720.29Z"/><rect x="958" y="690.76" width="90" height="59.06" fill="#eceee7"/><path fill="#ffffff" d="M958 690.76H1048L1003 720.29Z"/><path fill="#ffffff" d="M958 690.76V749.82L1003 720.29Z"/><path fill="#c8d5c0" d="M1048 690.76V749.82L1003 720.29Z"/><path fill="#ebe7de" d="M958 749.82H1048L1003 720.29Z"/><rect x="1048" y="690.76" width="90" height="59.06" fill="#da907a"/><path fill="#dc957d" d="M1048 690.76H1138L1093 720.29Z"/><path fill="#d78a74" d="M1048 690.76V749.82L1093 720.29Z"/><path fill="#e0a48a" d="M1138 690.76V749.82L1093 720.29Z"/><path fill="#d57c6c" d="M1048 749.82H1138L1093 720.29Z"/><rect x="1138" y="690.76" width="90" height="59.06" fill="#e2a792"/><path fill="#e9bfaa" d="M1138 690.76H1228L1183 720.29Z"/><path fill="#e5b09a" d="M1138 690.76V749.82L1183 720.29Z"/><path fill="#e5b09a" d="M1228 690.76V749.82L1183 720.29Z"/><path fill="#d57c6c" d="M1138 749.82H1228L1183 720.29Z"/><rect x="1228" y="690.76" width="90" height="59.06" fill="#f3ded3"/><path fill="#f2dcd1" d="M1228 690.76H1318L1273 720.29Z"/><path fill="#f2dcd1" d="M1228 690.76V749.82L1273 720.29Z"/><path fill="#ffffff" d="M1318 690.76V749.82L1273 720.29Z"/><path fill="#e9bfaa" d="M1228 749.82H1318L1273 720.29Z"/><rect x="1318" y="690.76" width="90" height="59.06" fill="#f4f1ec"/><path fill="#ffffff" d="M1318 690.76H1408L1363 720.29Z"/><path fill="#ffffff" d="M1318 690.76V749.82L1363 720.29Z"/><path fill="#dbdecd" d="M1408 690.76V749.82L1363 720.29Z"/><path fill="#f7e9e5" d="M1318 749.82H1408L1363 720.29Z"/><rect x="1408" y="690.76" width="90" height="59.06" fill="#f6e8e2"/><path fill="#f2dcd1" d="M1408 690.76H1498L1453 720.29Z"/><path fill="#f7e9e5" d="M1408 690.76V749.82L1453 720.29Z"/><path fill="#ffffff" d="M1498 690.76V749.82L1453 720.29Z"/><path fill="#f2dcd1" d="M1408 749.82H1498L1453 720.29Z"/><rect x="1498" y="690.76" width="90" height="59.06" fill="#dc977f"/><path fill="#e0a48a" d="M1498 690.76H1588L1543 720.29Z"/><path fill="#d78a74" d="M1498 690.76V749.82L1543 720.29Z"/><path fill="#e0a48a" d="M1588 690.76V749.82L1543 720.29Z"/><path fill="#d78a74" d="M1498 749.82H1588L1543 720.29Z"/><rect x="1588" y="690.76" width="90" height="59.06" fill="#e0a08a"/><path fill="#e5b09a" d="M1588 690.76H1678L1633 720.29Z"/><path fill="#e0a48a" d="M1588 690.76V749.82L1633 720.29Z"/><path fill="#e5b09a" d="M1678 690.76V749.82L1633 720.29Z"/><path fill="#d57c6c" d="M1588 749.82H1678L1633 720.29Z"/><rect x="1678" y="690.76" width="90" height="59.06" fill="#f2dad0"/><path fill="#ffffff" d="M1678 690.76H1768L1723 720.29Z"/><path fill="#f7e9e5" d="M1678 690.76V749.82L1723 720.29Z"/><path fill="#f2dcd1" d="M1768 690.76V749.82L1723 720.29Z"/><path fill="#e0a48a" d="M1678 749.82H1768L1723 720.29Z"/><rect x="1768" y="690.76" width="90" height="59.06" fill="#adcaaf"/><path fill="#b3cdb0" d="M1768 690.76H1858L1813 720.29Z"/><path fill="#b3cdb0" d="M1768 690.76V749.82L1813 720.29Z"/><path fill="#72b190" d="M1858 690.76V749.82L1813 720.29Z"/><path fill="#dbdecd" d="M1768 749.82H1858L1813 720.29Z"/><rect x="328" y="749.82" width="90" height="59.06" fill="#ddd3c2"/><path fill="#edcfc0" d="M328 749.82H418L373 779.35Z"/><path fill="#f2dcd1" d="M328 749.82V808.88L373 779.35Z"/><path fill="#f2dcd1" d="M418 749.82V808.88L373 779.35Z"/><path fill="#a3c4a4" d="M328 808.88H418L373 779.35Z"/><rect x="418" y="749.82" width="90" height="59.06" fill="#c0d3c0"/><path fill="#dbdecd" d="M418 749.82H508L463 779.35Z"/><path fill="#dbdecd" d="M418 749.82V808.88L463 779.35Z"/><path fill="#ebe7de" d="M508 749.82V808.88L463 779.35Z"/><path fill="#5da98a" d="M418 808.88H508L463 779.35Z"/><rect x="508" y="749.82" width="90" height="59.06" fill="#b6cfbb"/><path fill="#dbdecd" d="M508 749.82H598L553 779.35Z"/><path fill="#dbdecd" d="M508 749.82V808.88L553 779.35Z"/><path fill="#dbdecd" d="M598 749.82V808.88L553 779.35Z"/><path fill="#47a385" d="M508 808.88H598L553 779.35Z"/><rect x="598" y="749.82" width="90" height="59.06" fill="#d2e4da"/><path fill="#ffffff" d="M598 749.82H688L643 779.35Z"/><path fill="#ffffff" d="M598 749.82V808.88L643 779.35Z"/><path fill="#ebe7de" d="M688 749.82V808.88L643 779.35Z"/><path fill="#5da98a" d="M598 808.88H688L643 779.35Z"/><rect x="688" y="749.82" width="90" height="59.06" fill="#d2e4da"/><path fill="#ffffff" d="M688 749.82H778L733 779.35Z"/><path fill="#ffffff" d="M688 749.82V808.88L733 779.35Z"/><path fill="#ebe7de" d="M778 749.82V808.88L733 779.35Z"/><path fill="#5da98a" d="M688 808.88H778L733 779.35Z"/><rect x="778" y="749.82" width="90" height="59.06" fill="#d4e4db"/><path fill="#f7e9e5" d="M778 749.82H868L823 779.35Z"/><path fill="#ffffff" d="M778 749.82V808.88L823 779.35Z"/><path fill="#ffffff" d="M868 749.82V808.88L823 779.35Z"/><path fill="#5da98a" d="M778 808.88H868L823 779.35Z"/><rect x="868" y="749.82" width="90" height="59.06" fill="#abcab6"/><path fill="#dbdecd" d="M868 749.82H958L913 779.35Z"/><path fill="#dbdecd" d="M868 749.82V808.88L913 779.35Z"/><path fill="#c8d5c0" d="M958 749.82V808.88L913 779.35Z"/><path fill="#2d9680" d="M868 808.88H958L913 779.35Z"/><rect x="958" y="749.82" width="90" height="59.06" fill="#cce2d8"/><path fill="#ffffff" d="M958 749.82H1048L1003 779.35Z"/><path fill="#ffffff" d="M958 749.82V808.88L1003 779.35Z"/><path fill="#ebe7de" d="M1048 749.82V808.88L1003 779.35Z"/><path fill="#47a385" d="M958 808.88H1048L1003 779.35Z"/><rect x="1048" y="749.82" width="90" height="59.06" fill="#c8e0d4"/><path fill="#ffffff" d="M1048 749.82H1138L1093 779.35Z"/><path fill="#ffffff" d="M1048 749.82V808.88L1093 779.35Z"/><path fill="#dbdecd" d="M1138 749.82V808.88L1093 779.35Z"/><path fill="#47a385" d="M1048 808.88H1138L1093 779.35Z"/><rect x="1138" y="749.82" width="90" height="59.06" fill="#e3e2d6"/><path fill="#ffffff" d="M1138 749.82H1228L1183 779.35Z"/><path fill="#f7e9e5" d="M1138 749.82V808.88L1183 779.35Z"/><path fill="#f2dcd1" d="M1228 749.82V808.88L1183 779.35Z"/><path fill="#a3c4a4" d="M1138 808.88H1228L1183 779.35Z"/><rect x="1228" y="749.82" width="90" height="59.06" fill="#a6c8b2"/><path fill="#dbdecd" d="M1228 749.82H1318L1273 779.35Z"/><path fill="#dbdecd" d="M1228 749.82V808.88L1273 779.35Z"/><path fill="#b3cdb0" d="M1318 749.82V808.88L1273 779.35Z"/><path fill="#2d9680" d="M1228 808.88H1318L1273 779.35Z"/><rect x="1318" y="749.82" width="90" height="59.06" fill="#abcab6"/><path fill="#dbdecd" d="M1318 749.82H1408L1363 779.35Z"/><path fill="#dbdecd" d="M1318 749.82V808.88L1363 779.35Z"/><path fill="#c8d5c0" d="M1408 749.82V808.88L1363 779.35Z"/><path fill="#2d9680" d="M1318 808.88H1408L1363 779.35Z"/><rect x="1408" y="749.82" width="90" height="59.06" fill="#abcab6"/><path fill="#dbdecd" d="M1408 749.82H1498L1453 779.35Z"/><path fill="#dbdecd" d="M1408 749.82V808.88L1453 779.35Z"/><path fill="#c8d5c0" d="M1498 749.82V808.88L1453 779.35Z"/><path fill="#2d9680" d="M1408 808.88H1498L1453 779.35Z"/><rect x="1498" y="749.82" width="90" height="59.06" fill="#e1d5c4"/><path fill="#f2dcd1" d="M1498 749.82H1588L1543 779.35Z"/><path fill="#f2dcd1" d="M1498 749.82V808.88L1543 779.35Z"/><path fill="#edcfc0" d="M1588 749.82V808.88L1543 779.35Z"/><path fill="#b3cdb0" d="M1498 808.88H1588L1543 779.35Z"/><rect x="1588" y="749.82" width="90" height="59.06" fill="#e1e9e0"/><path fill="#ffffff" d="M1588 749.82H1678L1633 779.35Z"/><path fill="#ffffff" d="M1588 749.82V808.88L1633 779.35Z"/><path fill="#f7e9e5" d="M1678 749.82V808.88L1633 779.35Z"/><path fill="#8fbe9b" d="M1588 808.88H1678L1633 779.35Z"/><rect x="1678" y="749.82" width="90" height="59.06" fill="#bad2bf"/><path fill="#dbdecd" d="M1678 749.82H1768L1723 779.35Z"/><path fill="#dbdecd" d="M1678 749.82V808.88L1723 779.35Z"/><path fill="#ebe7de" d="M1768 749.82V808.88L1723 779.35Z"/><path fill="#47a385" d="M1678 808.88H1768L1723 779.35Z"/><rect x="1768" y="749.82" width="90" height="59.06" fill="#d7e6db"/><path fill="#ffffff" d="M1768 749.82H1858L1813 779.35Z"/><path fill="#ffffff" d="M1768 749.82V808.88L1813 779.35Z"/><path fill="#ebe7de" d="M1858 749.82V808.88L1813 779.35Z"/><path fill="#72b190" d="M1768 808.88H1858L1813 779.35Z"/><rect x="328" y="808.88" width="90" height="59.06" fill="#d1726a"/><path fill="#d57c6c" d="M328 808.88H418L373 838.41Z"/><path fill="#d2706a" d="M328 808.88V867.94L373 838.41Z"/><path fill="#d57c6c" d="M418 808.88V867.94L373 838.41Z"/><path fill="#c96264" d="M328 867.94H418L373 838.41Z"/><rect x="418" y="808.88" width="90" height="59.06" fill="#edcfc0"/><path fill="#edcfc0" d="M418 808.88H508L463 838.41Z"/><path fill="#edcfc0" d="M418 808.88V867.94L463 838.41Z"/><path fill="#edcfc0" d="M508 808.88V867.94L463 838.41Z"/><path fill="#edcfc0" d="M418 867.94H508L463 838.41Z"/><rect x="508" y="808.88" width="90" height="59.06" fill="#f1d9cd"/><path fill="#f2dcd1" d="M508 808.88H598L553 838.41Z"/><path fill="#edcfc0" d="M508 808.88V867.94L553 838.41Z"/><path fill="#f2dcd1" d="M598 808.88V867.94L553 838.41Z"/><path fill="#f2dcd1" d="M508 867.94H598L553 838.41Z"/><rect x="598" y="808.88" width="90" height="59.06" fill="#a63b62"/><path fill="#932a62" d="M598 808.88H688L643 838.41Z"/><path fill="#932a62" d="M598 808.88V867.94L643 838.41Z"/><path fill="#b84c61" d="M688 808.88V867.94L643 838.41Z"/><path fill="#b84c61" d="M598 867.94H688L643 838.41Z"/><rect x="688" y="808.88" width="90" height="59.06" fill="#a63b62"/><path fill="#932a62" d="M688 808.88H778L733 838.41Z"/><path fill="#932a62" d="M688 808.88V867.94L733 838.41Z"/><path fill="#b84c61" d="M778 808.88V867.94L733 838.41Z"/><path fill="#b84c61" d="M688 867.94H778L733 838.41Z"/><rect x="778" y="808.88" width="90" height="59.06" fill="#dc977f"/><path fill="#d78a74" d="M778 808.88H868L823 838.41Z"/><path fill="#d78a74" d="M778 808.88V867.94L823 838.41Z"/><path fill="#e0a48a" d="M868 808.88V867.94L823 838.41Z"/><path fill="#e0a48a" d="M778 867.94H868L823 838.41Z"/><rect x="868" y="808.88" width="90" height="59.06" fill="#1c5b67"/><path fill="#1f5966" d="M868 808.88H958L913 838.41Z"/><path fill="#1e4b5e" d="M868 808.88V867.94L913 838.41Z"/><path fill="#1a646c" d="M958 808.88V867.94L913 838.41Z"/><path fill="#1a646c" d="M868 867.94H958L913 838.41Z"/><rect x="958" y="808.88" width="90" height="59.06" fill="#ebe7de"/><path fill="#ebe7de" d="M958 808.88H1048L1003 838.41Z"/><path fill="#ebe7de" d="M958 808.88V867.94L1003 838.41Z"/><path fill="#ebe7de" d="M1048 808.88V867.94L1003 838.41Z"/><path fill="#ebe7de" d="M958 867.94H1048L1003 838.41Z"/><rect x="1048" y="808.88" width="90" height="59.06" fill="#ccd8c2"/><path fill="#c8d5c0" d="M1048 808.88H1138L1093 838.41Z"/><path fill="#b3cdb0" d="M1048 808.88V867.94L1093 838.41Z"/><path fill="#dbdecd" d="M1138 808.88V867.94L1093 838.41Z"/><path fill="#dbdecd" d="M1048 867.94H1138L1093 838.41Z"/><rect x="1138" y="808.88" width="90" height="59.06" fill="#d78a74"/><path fill="#d78a74" d="M1138 808.88H1228L1183 838.41Z"/><path fill="#d78a74" d="M1138 808.88V867.94L1183 838.41Z"/><path fill="#d78a74" d="M1228 808.88V867.94L1183 838.41Z"/><path fill="#d78a74" d="M1138 867.94H1228L1183 838.41Z"/><rect x="1228" y="808.88" width="90" height="59.06" fill="#faf9f7"/><path fill="#ffffff" d="M1228 808.88H1318L1273 838.41Z"/><path fill="#ebe7de" d="M1228 808.88V867.94L1273 838.41Z"/><path fill="#ffffff" d="M1318 808.88V867.94L1273 838.41Z"/><path fill="#ffffff" d="M1228 867.94H1318L1273 838.41Z"/><rect x="1318" y="808.88" width="90" height="59.06" fill="#f5f3ee"/><path fill="#ebe7de" d="M1318 808.88H1408L1363 838.41Z"/><path fill="#ebe7de" d="M1318 808.88V867.94L1363 838.41Z"/><path fill="#ffffff" d="M1408 808.88V867.94L1363 838.41Z"/><path fill="#ffffff" d="M1318 867.94H1408L1363 838.41Z"/><rect x="1408" y="808.88" width="90" height="59.06" fill="#f2dcd1"/><path fill="#f2dcd1" d="M1408 808.88H1498L1453 838.41Z"/><path fill="#f2dcd1" d="M1408 808.88V867.94L1453 838.41Z"/><path fill="#f2dcd1" d="M1498 808.88V867.94L1453 838.41Z"/><path fill="#f2dcd1" d="M1408 867.94H1498L1453 838.41Z"/><rect x="1498" y="808.88" width="90" height="59.06" fill="#f6e6e0"/><path fill="#f7e9e5" d="M1498 808.88H1588L1543 838.41Z"/><path fill="#f7e9e5" d="M1498 808.88V867.94L1543 838.41Z"/><path fill="#f2dcd1" d="M1588 808.88V867.94L1543 838.41Z"/><path fill="#f7e9e5" d="M1498 867.94H1588L1543 838.41Z"/><rect x="1588" y="808.88" width="90" height="59.06" fill="#ffffff"/><path fill="#ffffff" d="M1588 808.88H1678L1633 838.41Z"/><path fill="#ffffff" d="M1588 808.88V867.94L1633 838.41Z"/><path fill="#ffffff" d="M1678 808.88V867.94L1633 838.41Z"/><path fill="#ffffff" d="M1588 867.94H1678L1633 838.41Z"/><rect x="1678" y="808.88" width="90" height="59.06" fill="#ccd8c2"/><path fill="#c8d5c0" d="M1678 808.88H1768L1723 838.41Z"/><path fill="#b3cdb0" d="M1678 808.88V867.94L1723 838.41Z"/><path fill="#dbdecd" d="M1768 808.88V867.94L1723 838.41Z"/><path fill="#dbdecd" d="M1678 867.94H1768L1723 838.41Z"/><rect x="1768" y="808.88" width="90" height="59.06" fill="#b3cdb0"/><path fill="#b3cdb0" d="M1768 808.88H1858L1813 838.41Z"/><path fill="#b3cdb0" d="M1768 808.88V867.94L1813 838.41Z"/><path fill="#b3cdb0" d="M1858 808.88V867.94L1813 838.41Z"/><path fill="#b3cdb0" d="M1768 867.94H1858L1813 838.41Z"/><rect x="328" y="867.94" width="90" height="59.06" fill="#a3c4a4"/><path fill="#a3c4a4" d="M328 867.94H418L373 897.47Z"/><path fill="#a3c4a4" d="M328 867.94V927L373 897.47Z"/><path fill="#a3c4a4" d="M418 867.94V927L373 897.47Z"/><path fill="#a3c4a4" d="M328 927H418L373 897.47Z"/><rect x="418" y="867.94" width="90" height="59.06" fill="#a3c4a4"/><path fill="#a3c4a4" d="M418 867.94H508L463 897.47Z"/><path fill="#a3c4a4" d="M418 867.94V927L463 897.47Z"/><path fill="#a3c4a4" d="M508 867.94V927L463 897.47Z"/><path fill="#a3c4a4" d="M418 927H508L463 897.47Z"/><rect x="508" y="867.94" width="90" height="59.06" fill="#9ec2a2"/><path fill="#a3c4a4" d="M508 867.94H598L553 897.47Z"/><path fill="#a3c4a4" d="M508 867.94V927L553 897.47Z"/><path fill="#8fbe9b" d="M598 867.94V927L553 897.47Z"/><path fill="#a3c4a4" d="M508 927H598L553 897.47Z"/><rect x="598" y="867.94" width="90" height="59.06" fill="#4ca486"/><path fill="#47a385" d="M598 867.94H688L643 897.47Z"/><path fill="#5da98a" d="M598 867.94V927L643 897.47Z"/><path fill="#47a385" d="M688 867.94V927L643 897.47Z"/><path fill="#47a385" d="M598 927H688L643 897.47Z"/><rect x="688" y="867.94" width="90" height="59.06" fill="#52a688"/><path fill="#5da98a" d="M688 867.94H778L733 897.47Z"/><path fill="#5da98a" d="M688 867.94V927L733 897.47Z"/><path fill="#47a385" d="M778 867.94V927L733 897.47Z"/><path fill="#47a385" d="M688 927H778L733 897.47Z"/><rect x="778" y="867.94" width="90" height="59.06" fill="#88bb98"/><path fill="#8fbe9b" d="M778 867.94H868L823 897.47Z"/><path fill="#8fbe9b" d="M778 867.94V927L823 897.47Z"/><path fill="#72b190" d="M868 867.94V927L823 897.47Z"/><path fill="#8fbe9b" d="M778 927H868L823 897.47Z"/><rect x="868" y="867.94" width="90" height="59.06" fill="#ffffff"/><path fill="#ffffff" d="M868 867.94H958L913 897.47Z"/><path fill="#ffffff" d="M868 867.94V927L913 897.47Z"/><path fill="#ffffff" d="M958 867.94V927L913 897.47Z"/><path fill="#ffffff" d="M868 927H958L913 897.47Z"/><rect x="958" y="867.94" width="90" height="59.06" fill="#d2dac6"/><path fill="#dbdecd" d="M958 867.94H1048L1003 897.47Z"/><path fill="#dbdecd" d="M958 867.94V927L1003 897.47Z"/><path fill="#c8d5c0" d="M1048 867.94V927L1003 897.47Z"/><path fill="#c8d5c0" d="M958 927H1048L1003 897.47Z"/><rect x="1048" y="867.94" width="90" height="59.06" fill="#8fbe9b"/><path fill="#8fbe9b" d="M1048 867.94H1138L1093 897.47Z"/><path fill="#8fbe9b" d="M1048 867.94V927L1093 897.47Z"/><path fill="#8fbe9b" d="M1138 867.94V927L1093 897.47Z"/><path fill="#8fbe9b" d="M1048 927H1138L1093 897.47Z"/><rect x="1138" y="867.94" width="90" height="59.06" fill="#dbdecd"/><path fill="#dbdecd" d="M1138 867.94H1228L1183 897.47Z"/><path fill="#dbdecd" d="M1138 867.94V927L1183 897.47Z"/><path fill="#dbdecd" d="M1228 867.94V927L1183 897.47Z"/><path fill="#dbdecd" d="M1138 927H1228L1183 897.47Z"/><rect x="1228" y="867.94" width="90" height="59.06" fill="#72b190"/><path fill="#72b190" d="M1228 867.94H1318L1273 897.47Z"/><path fill="#72b190" d="M1228 867.94V927L1273 897.47Z"/><path fill="#72b190" d="M1318 867.94V927L1273 897.47Z"/><path fill="#72b190" d="M1228 927H1318L1273 897.47Z"/><rect x="1318" y="867.94" width="90" height="59.06" fill="#abc8aa"/><path fill="#a3c4a4" d="M1318 867.94H1408L1363 897.47Z"/><path fill="#b3cdb0" d="M1318 867.94V927L1363 897.47Z"/><path fill="#a3c4a4" d="M1408 867.94V927L1363 897.47Z"/><path fill="#b3cdb0" d="M1318 927H1408L1363 897.47Z"/><rect x="1408" y="867.94" width="90" height="59.06" fill="#f6e6e0"/><path fill="#f7e9e5" d="M1408 867.94H1498L1453 897.47Z"/><path fill="#f7e9e5" d="M1408 867.94V927L1453 897.47Z"/><path fill="#f2dcd1" d="M1498 867.94V927L1453 897.47Z"/><path fill="#f7e9e5" d="M1408 927H1498L1453 897.47Z"/><rect x="1498" y="867.94" width="90" height="59.06" fill="#58a889"/><path fill="#5da98a" d="M1498 867.94H1588L1543 897.47Z"/><path fill="#5da98a" d="M1498 867.94V927L1543 897.47Z"/><path fill="#47a385" d="M1588 867.94V927L1543 897.47Z"/><path fill="#5da98a" d="M1498 927H1588L1543 897.47Z"/><rect x="1588" y="867.94" width="90" height="59.06" fill="#6daf8e"/><path fill="#72b190" d="M1588 867.94H1678L1633 897.47Z"/><path fill="#72b190" d="M1588 867.94V927L1633 897.47Z"/><path fill="#5da98a" d="M1678 867.94V927L1633 897.47Z"/><path fill="#72b190" d="M1588 927H1678L1633 897.47Z"/><rect x="1678" y="867.94" width="90" height="59.06" fill="#5da98a"/><path fill="#5da98a" d="M1678 867.94H1768L1723 897.47Z"/><path fill="#5da98a" d="M1678 867.94V927L1723 897.47Z"/><path fill="#5da98a" d="M1768 867.94V927L1723 897.47Z"/><path fill="#5da98a" d="M1678 927H1768L1723 897.47Z"/><rect x="1768" y="867.94" width="90" height="59.06" fill="#1e4b5e"/><path fill="#1e4b5e" d="M1768 867.94H1858L1813 897.47Z"/><path fill="#1e4b5e" d="M1768 867.94V927L1813 897.47Z"/><path fill="#1e4b5e" d="M1858 867.94V927L1813 897.47Z"/><path fill="#1e4b5e" d="M1768 927H1858L1813 897.47Z"/><rect x="328" y="927" width="90" height="59.06" fill="#b8cfb4"/><path fill="#b3cdb0" d="M328 927H418L373 956.53Z"/><path fill="#c8d5c0" d="M328 927V986.06L373 956.53Z"/><path fill="#b3cdb0" d="M418 927V986.06L373 956.53Z"/><path fill="#b3cdb0" d="M328 986.06H418L373 956.53Z"/><rect x="418" y="927" width="90" height="59.06" fill="#94c09d"/><path fill="#8fbe9b" d="M418 927H508L463 956.53Z"/><path fill="#a3c4a4" d="M418 927V986.06L463 956.53Z"/><path fill="#8fbe9b" d="M508 927V986.06L463 956.53Z"/><path fill="#8fbe9b" d="M418 986.06H508L463 956.53Z"/><rect x="508" y="927" width="90" height="59.06" fill="#8fbe9b"/><path fill="#8fbe9b" d="M508 927H598L553 956.53Z"/><path fill="#8fbe9b" d="M508 927V986.06L553 956.53Z"/><path fill="#8fbe9b" d="M598 927V986.06L553 956.53Z"/><path fill="#8fbe9b" d="M508 986.06H598L553 956.53Z"/><rect x="598" y="927" width="90" height="59.06" fill="#18827c"/><path fill="#1a8c82" d="M598 927H688L643 956.53Z"/><path fill="#1a8c82" d="M598 927V986.06L643 956.53Z"/><path fill="#137f7a" d="M688 927V986.06L643 956.53Z"/><path fill="#177173" d="M598 986.06H688L643 956.53Z"/><rect x="688" y="927" width="90" height="59.06" fill="#18827c"/><path fill="#1a8c82" d="M688 927H778L733 956.53Z"/><path fill="#1a8c82" d="M688 927V986.06L733 956.53Z"/><path fill="#137f7a" d="M778 927V986.06L733 956.53Z"/><path fill="#177173" d="M688 986.06H778L733 956.53Z"/><rect x="778" y="927" width="90" height="59.06" fill="#afcbad"/><path fill="#b3cdb0" d="M778 927H868L823 956.53Z"/><path fill="#b3cdb0" d="M778 927V986.06L823 956.53Z"/><path fill="#b3cdb0" d="M868 927V986.06L823 956.53Z"/><path fill="#a3c4a4" d="M778 986.06H868L823 956.53Z"/><rect x="868" y="927" width="90" height="59.06" fill="#cdd7c3"/><path fill="#c8d5c0" d="M868 927H958L913 956.53Z"/><path fill="#dbdecd" d="M868 927V986.06L913 956.53Z"/><path fill="#c8d5c0" d="M958 927V986.06L913 956.53Z"/><path fill="#c8d5c0" d="M868 986.06H958L913 956.53Z"/><rect x="958" y="927" width="90" height="59.06" fill="#c8d5c0"/><path fill="#c8d5c0" d="M958 927H1048L1003 956.53Z"/><path fill="#c8d5c0" d="M958 927V986.06L1003 956.53Z"/><path fill="#c8d5c0" d="M1048 927V986.06L1003 956.53Z"/><path fill="#c8d5c0" d="M958 986.06H1048L1003 956.53Z"/><rect x="1048" y="927" width="90" height="59.06" fill="#ffffff"/><path fill="#ffffff" d="M1048 927H1138L1093 956.53Z"/><path fill="#ffffff" d="M1048 927V986.06L1093 956.53Z"/><path fill="#ffffff" d="M1138 927V986.06L1093 956.53Z"/><path fill="#ffffff" d="M1048 986.06H1138L1093 956.53Z"/><rect x="1138" y="927" width="90" height="59.06" fill="#f7e9e5"/><path fill="#f7e9e5" d="M1138 927H1228L1183 956.53Z"/><path fill="#f7e9e5" d="M1138 927V986.06L1183 956.53Z"/><path fill="#f7e9e5" d="M1228 927V986.06L1183 956.53Z"/><path fill="#f7e9e5" d="M1138 986.06H1228L1183 956.53Z"/><rect x="1228" y="927" width="90" height="59.06" fill="#ebe7de"/><path fill="#ebe7de" d="M1228 927H1318L1273 956.53Z"/><path fill="#ebe7de" d="M1228 927V986.06L1273 956.53Z"/><path fill="#ebe7de" d="M1318 927V986.06L1273 956.53Z"/><path fill="#ebe7de" d="M1228 986.06H1318L1273 956.53Z"/><rect x="1318" y="927" width="90" height="59.06" fill="#ffffff"/><path fill="#ffffff" d="M1318 927H1408L1363 956.53Z"/><path fill="#ffffff" d="M1318 927V986.06L1363 956.53Z"/><path fill="#ffffff" d="M1408 927V986.06L1363 956.53Z"/><path fill="#ffffff" d="M1318 986.06H1408L1363 956.53Z"/><rect x="1408" y="927" width="90" height="59.06" fill="#e4b29a"/><path fill="#e9bfaa" d="M1408 927H1498L1453 956.53Z"/><path fill="#e9bfaa" d="M1408 927V986.06L1453 956.53Z"/><path fill="#e0a48a" d="M1498 927V986.06L1453 956.53Z"/><path fill="#e0a48a" d="M1408 986.06H1498L1453 956.53Z"/><rect x="1498" y="927" width="90" height="59.06" fill="#3a9c82"/><path fill="#47a385" d="M1498 927H1588L1543 956.53Z"/><path fill="#47a385" d="M1498 927V986.06L1543 956.53Z"/><path fill="#2d9680" d="M1588 927V986.06L1543 956.53Z"/><path fill="#2d9680" d="M1498 986.06H1588L1543 956.53Z"/><rect x="1588" y="927" width="90" height="59.06" fill="#68ad8d"/><path fill="#72b190" d="M1588 927H1678L1633 956.53Z"/><path fill="#72b190" d="M1588 927V986.06L1633 956.53Z"/><path fill="#5da98a" d="M1678 927V986.06L1633 956.53Z"/><path fill="#5da98a" d="M1588 986.06H1678L1633 956.53Z"/><rect x="1678" y="927" width="90" height="59.06" fill="#80b896"/><path fill="#8fbe9b" d="M1678 927H1768L1723 956.53Z"/><path fill="#8fbe9b" d="M1678 927V986.06L1723 956.53Z"/><path fill="#72b190" d="M1768 927V986.06L1723 956.53Z"/><path fill="#72b190" d="M1678 986.06H1768L1723 956.53Z"/><rect x="1768" y="927" width="90" height="59.06" fill="#1e4e60"/><path fill="#1e4b5e" d="M1768 927H1858L1813 956.53Z"/><path fill="#1f5966" d="M1768 927V986.06L1813 956.53Z"/><path fill="#1e4b5e" d="M1858 927V986.06L1813 956.53Z"/><path fill="#1e4b5e" d="M1768 986.06H1858L1813 956.53Z"/><rect x="328" y="986.06" width="90" height="59.06" fill="#e9bfac"/><path fill="#edcfc0" d="M328 986.06H418L373 1015.59Z"/><path fill="#e9bfaa" d="M328 986.06V1045.12L373 1015.59Z"/><path fill="#e9bfaa" d="M418 986.06V1045.12L373 1015.59Z"/><path fill="#e5b09a" d="M328 1045.12H418L373 1015.59Z"/><rect x="418" y="986.06" width="90" height="59.06" fill="#de9d87"/><path fill="#e9bfaa" d="M418 986.06H508L463 1015.59Z"/><path fill="#e0a48a" d="M418 986.06V1045.12L463 1015.59Z"/><path fill="#dc957d" d="M508 986.06V1045.12L463 1015.59Z"/><path fill="#d57c6c" d="M418 1045.12H508L463 1015.59Z"/><rect x="508" y="986.06" width="90" height="59.06" fill="#de9d87"/><path fill="#e9bfaa" d="M508 986.06H598L553 1015.59Z"/><path fill="#e0a48a" d="M508 986.06V1045.12L553 1015.59Z"/><path fill="#dc957d" d="M598 986.06V1045.12L553 1015.59Z"/><path fill="#d57c6c" d="M508 1045.12H598L553 1015.59Z"/><rect x="598" y="986.06" width="90" height="59.06" fill="#dd9a81"/><path fill="#dc957d" d="M598 986.06H688L643 1015.59Z"/><path fill="#e0a48a" d="M598 986.06V1045.12L643 1015.59Z"/><path fill="#e0a48a" d="M688 986.06V1045.12L643 1015.59Z"/><path fill="#d78a74" d="M598 1045.12H688L643 1015.59Z"/><rect x="688" y="986.06" width="90" height="59.06" fill="#dd9a81"/><path fill="#dc957d" d="M688 986.06H778L733 1015.59Z"/><path fill="#e0a48a" d="M688 986.06V1045.12L733 1015.59Z"/><path fill="#e0a48a" d="M778 986.06V1045.12L733 1015.59Z"/><path fill="#d78a74" d="M688 1045.12H778L733 1015.59Z"/><rect x="778" y="986.06" width="90" height="59.06" fill="#e9bfac"/><path fill="#edcfc0" d="M778 986.06H868L823 1015.59Z"/><path fill="#e9bfaa" d="M778 986.06V1045.12L823 1015.59Z"/><path fill="#e9bfaa" d="M868 986.06V1045.12L823 1015.59Z"/><path fill="#e5b09a" d="M778 1045.12H868L823 1015.59Z"/><rect x="868" y="986.06" width="90" height="59.06" fill="#e0a38b"/><path fill="#e5b09a" d="M868 986.06H958L913 1015.59Z"/><path fill="#e0a48a" d="M868 986.06V1045.12L913 1015.59Z"/><path fill="#e0a48a" d="M958 986.06V1045.12L913 1015.59Z"/><path fill="#dc957d" d="M868 1045.12H958L913 1015.59Z"/><rect x="958" y="986.06" width="90" height="59.06" fill="#e8bca8"/><path fill="#f2dcd1" d="M958 986.06H1048L1003 1015.59Z"/><path fill="#e9bfaa" d="M958 986.06V1045.12L1003 1015.59Z"/><path fill="#e5b09a" d="M1048 986.06V1045.12L1003 1015.59Z"/><path fill="#e0a48a" d="M958 1045.12H1048L1003 1015.59Z"/><rect x="1048" y="986.06" width="90" height="59.06" fill="#f1d8cc"/><path fill="#f7e9e5" d="M1048 986.06H1138L1093 1015.59Z"/><path fill="#f2dcd1" d="M1048 986.06V1045.12L1093 1015.59Z"/><path fill="#f2dcd1" d="M1138 986.06V1045.12L1093 1015.59Z"/><path fill="#e9bfaa" d="M1048 1045.12H1138L1093 1015.59Z"/><rect x="1138" y="986.06" width="90" height="59.06" fill="#e9c0ad"/><path fill="#edcfc0" d="M1138 986.06H1228L1183 1015.59Z"/><path fill="#edcfc0" d="M1138 986.06V1045.12L1183 1015.59Z"/><path fill="#e9bfaa" d="M1228 986.06V1045.12L1183 1015.59Z"/><path fill="#e0a48a" d="M1138 1045.12H1228L1183 1015.59Z"/><rect x="1228" y="986.06" width="90" height="59.06" fill="#eecebe"/><path fill="#f2dcd1" d="M1228 986.06H1318L1273 1015.59Z"/><path fill="#f2dcd1" d="M1228 986.06V1045.12L1273 1015.59Z"/><path fill="#e9bfaa" d="M1318 986.06V1045.12L1273 1015.59Z"/><path fill="#e9bfaa" d="M1228 1045.12H1318L1273 1015.59Z"/><rect x="1318" y="986.06" width="90" height="59.06" fill="#f3dfd7"/><path fill="#f7e9e5" d="M1318 986.06H1408L1363 1015.59Z"/><path fill="#f7e9e5" d="M1318 986.06V1045.12L1363 1015.59Z"/><path fill="#f2dcd1" d="M1408 986.06V1045.12L1363 1015.59Z"/><path fill="#edcfc0" d="M1318 1045.12H1408L1363 1015.59Z"/><rect x="1408" y="986.06" width="90" height="59.06" fill="#db927c"/><path fill="#e0a48a" d="M1408 986.06H1498L1453 1015.59Z"/><path fill="#dc957d" d="M1408 986.06V1045.12L1453 1015.59Z"/><path fill="#d57c6c" d="M1498 986.06V1045.12L1453 1015.59Z"/><path fill="#dc957d" d="M1408 1045.12H1498L1453 1015.59Z"/><rect x="1498" y="986.06" width="90" height="59.06" fill="#e6b49e"/><path fill="#e9bfaa" d="M1498 986.06H1588L1543 1015.59Z"/><path fill="#e9bfaa" d="M1498 986.06V1045.12L1543 1015.59Z"/><path fill="#e5b09a" d="M1588 986.06V1045.12L1543 1015.59Z"/><path fill="#e0a48a" d="M1498 1045.12H1588L1543 1015.59Z"/><rect x="1588" y="986.06" width="90" height="59.06" fill="#e7b8a4"/><path fill="#edcfc0" d="M1588 986.06H1678L1633 1015.59Z"/><path fill="#e9bfaa" d="M1588 986.06V1045.12L1633 1015.59Z"/><path fill="#e5b09a" d="M1678 986.06V1045.12L1633 1015.59Z"/><path fill="#e0a48a" d="M1588 1045.12H1678L1633 1015.59Z"/><rect x="1678" y="986.06" width="90" height="59.06" fill="#f4e2dc"/><path fill="#f7e9e5" d="M1678 986.06H1768L1723 1015.59Z"/><path fill="#f7e9e5" d="M1678 986.06V1045.12L1723 1015.59Z"/><path fill="#f7e9e5" d="M1768 986.06V1045.12L1723 1015.59Z"/><path fill="#edcfc0" d="M1678 1045.12H1768L1723 1015.59Z"/><rect x="1768" y="986.06" width="90" height="59.06" fill="#eecebf"/><path fill="#f2dcd1" d="M1768 986.06H1858L1813 1015.59Z"/><path fill="#f2dcd1" d="M1768 986.06V1045.12L1813 1015.59Z"/><path fill="#edcfc0" d="M1858 986.06V1045.12L1813 1015.59Z"/><path fill="#e5b09a" d="M1768 1045.12H1858L1813 1015.59Z"/><rect x="328" y="1045.12" width="90" height="59.06" fill="#fde090"/><path fill="#fdefb6" d="M328 1045.12H418L373 1074.65Z"/><path fill="#fde28e" d="M328 1045.12V1104.18L373 1074.65Z"/><path fill="#fde28e" d="M418 1045.12V1104.18L373 1074.65Z"/><path fill="#fdcc6c" d="M328 1104.18H418L373 1074.65Z"/><rect x="418" y="1045.12" width="90" height="59.06" fill="#fddc86"/><path fill="#fde28e" d="M418 1045.12H508L463 1074.65Z"/><path fill="#fde28e" d="M418 1045.12V1104.18L463 1074.65Z"/><path fill="#fde28e" d="M508 1045.12V1104.18L463 1074.65Z"/><path fill="#fdcc6c" d="M418 1104.18H508L463 1074.65Z"/><rect x="508" y="1045.12" width="90" height="59.06" fill="#fddf8a"/><path fill="#fde28e" d="M508 1045.12H598L553 1074.65Z"/><path fill="#fde28e" d="M508 1045.12V1104.18L553 1074.65Z"/><path fill="#fde28e" d="M598 1045.12V1104.18L553 1074.65Z"/><path fill="#fdd77d" d="M508 1104.18H598L553 1074.65Z"/><rect x="598" y="1045.12" width="90" height="59.06" fill="#fcac3d"/><path fill="#fdc05a" d="M598 1045.12H688L643 1074.65Z"/><path fill="#fcaa33" d="M598 1045.12V1104.18L643 1074.65Z"/><path fill="#fcaa33" d="M688 1045.12V1104.18L643 1074.65Z"/><path fill="#fb9d33" d="M598 1104.18H688L643 1074.65Z"/><rect x="688" y="1045.12" width="90" height="59.06" fill="#fca733"/><path fill="#fcaa33" d="M688 1045.12H778L733 1074.65Z"/><path fill="#fcaa33" d="M688 1045.12V1104.18L733 1074.65Z"/><path fill="#fcaa33" d="M778 1045.12V1104.18L733 1074.65Z"/><path fill="#fb9d33" d="M688 1104.18H778L733 1074.65Z"/><rect x="778" y="1045.12" width="90" height="59.06" fill="#fdd273"/><path fill="#fde28e" d="M778 1045.12H868L823 1074.65Z"/><path fill="#fde28e" d="M778 1045.12V1104.18L823 1074.65Z"/><path fill="#fdcc6c" d="M868 1045.12V1104.18L823 1074.65Z"/><path fill="#fdb643" d="M778 1104.18H868L823 1074.65Z"/><rect x="868" y="1045.12" width="90" height="59.06" fill="#fddf94"/><path fill="#fdefb6" d="M868 1045.12H958L913 1074.65Z"/><path fill="#fdefb6" d="M868 1045.12V1104.18L913 1074.65Z"/><path fill="#fde9a0" d="M958 1045.12V1104.18L913 1074.65Z"/><path fill="#fdb643" d="M868 1104.18H958L913 1074.65Z"/><rect x="958" y="1045.12" width="90" height="59.06" fill="#fde094"/><path fill="#fdefb6" d="M958 1045.12H1048L1003 1074.65Z"/><path fill="#fde9a0" d="M958 1045.12V1104.18L1003 1074.65Z"/><path fill="#fde9a0" d="M1048 1045.12V1104.18L1003 1074.65Z"/><path fill="#fdc05a" d="M958 1104.18H1048L1003 1074.65Z"/><rect x="1048" y="1045.12" width="90" height="59.06" fill="#fdd881"/><path fill="#fde28e" d="M1048 1045.12H1138L1093 1074.65Z"/><path fill="#fde9a0" d="M1048 1045.12V1104.18L1093 1074.65Z"/><path fill="#fdd77d" d="M1138 1045.12V1104.18L1093 1074.65Z"/><path fill="#fdc05a" d="M1048 1104.18H1138L1093 1074.65Z"/><rect x="1138" y="1045.12" width="90" height="59.06" fill="#ef7030"/><path fill="#fa9033" d="M1138 1045.12H1228L1183 1074.65Z"/><path fill="#fa9033" d="M1138 1045.12V1104.18L1183 1074.65Z"/><path fill="#f67a2e" d="M1228 1045.12V1104.18L1183 1074.65Z"/><path fill="#d3262a" d="M1138 1104.18H1228L1183 1074.65Z"/><rect x="1228" y="1045.12" width="90" height="59.06" fill="#fccc78"/><path fill="#fde9a0" d="M1228 1045.12H1318L1273 1074.65Z"/><path fill="#fde28e" d="M1228 1045.12V1104.18L1273 1074.65Z"/><path fill="#fdd77d" d="M1318 1045.12V1104.18L1273 1074.65Z"/><path fill="#fa9033" d="M1228 1104.18H1318L1273 1074.65Z"/><rect x="1318" y="1045.12" width="90" height="59.06" fill="#fddc8a"/><path fill="#fdefb6" d="M1318 1045.12H1408L1363 1074.65Z"/><path fill="#fde9a0" d="M1318 1045.12V1104.18L1363 1074.65Z"/><path fill="#fde28e" d="M1408 1045.12V1104.18L1363 1074.65Z"/><path fill="#fdb643" d="M1318 1104.18H1408L1363 1074.65Z"/><rect x="1408" y="1045.12" width="90" height="59.06" fill="#fdd074"/><path fill="#fdd77d" d="M1408 1045.12H1498L1453 1074.65Z"/><path fill="#fde9a0" d="M1408 1045.12V1104.18L1453 1074.65Z"/><path fill="#fdc05a" d="M1498 1045.12V1104.18L1453 1074.65Z"/><path fill="#fdc05a" d="M1408 1104.18H1498L1453 1074.65Z"/><rect x="1498" y="1045.12" width="90" height="59.06" fill="#fcba55"/><path fill="#fdc05a" d="M1498 1045.12H1588L1543 1074.65Z"/><path fill="#fb9d33" d="M1498 1045.12V1104.18L1543 1074.65Z"/><path fill="#fdcc6c" d="M1588 1045.12V1104.18L1543 1074.65Z"/><path fill="#fdc05a" d="M1498 1104.18H1588L1543 1074.65Z"/><rect x="1588" y="1045.12" width="90" height="59.06" fill="#fdc35e"/><path fill="#fdc05a" d="M1588 1045.12H1678L1633 1074.65Z"/><path fill="#fdc05a" d="M1588 1045.12V1104.18L1633 1074.65Z"/><path fill="#fdcc6c" d="M1678 1045.12V1104.18L1633 1074.65Z"/><path fill="#fdc05a" d="M1588 1104.18H1678L1633 1074.65Z"/><rect x="1678" y="1045.12" width="90" height="59.06" fill="#fde08e"/><path fill="#fde9a0" d="M1678 1045.12H1768L1723 1074.65Z"/><path fill="#fde9a0" d="M1678 1045.12V1104.18L1723 1074.65Z"/><path fill="#fde28e" d="M1768 1045.12V1104.18L1723 1074.65Z"/><path fill="#fdcc6c" d="M1678 1104.18H1768L1723 1074.65Z"/><rect x="1768" y="1045.12" width="90" height="59.06" fill="#fdd274"/><path fill="#fdcc6c" d="M1768 1045.12H1858L1813 1074.65Z"/><path fill="#fdd77d" d="M1768 1045.12V1104.18L1813 1074.65Z"/><path fill="#fdd77d" d="M1858 1045.12V1104.18L1813 1074.65Z"/><path fill="#fdcc6c" d="M1768 1104.18H1858L1813 1074.65Z"/><rect x="328" y="1104.18" width="90" height="59.06" fill="#fcb653"/><path fill="#fdcc6c" d="M328 1104.18H418L373 1133.71Z"/><path fill="#fdcc6c" d="M328 1104.18V1163.24L373 1133.71Z"/><path fill="#fdb643" d="M418 1104.18V1163.24L373 1133.71Z"/><path fill="#f88830" d="M328 1163.24H418L373 1133.71Z"/><rect x="418" y="1104.18" width="90" height="59.06" fill="#fba033"/><path fill="#fcaa33" d="M418 1104.18H508L463 1133.71Z"/><path fill="#fa9033" d="M418 1104.18V1163.24L463 1133.71Z"/><path fill="#fcaa33" d="M508 1104.18V1163.24L463 1133.71Z"/><path fill="#fb9d33" d="M418 1163.24H508L463 1133.71Z"/><rect x="508" y="1104.18" width="90" height="59.06" fill="#fba033"/><path fill="#fcaa33" d="M508 1104.18H598L553 1133.71Z"/><path fill="#fa9033" d="M508 1104.18V1163.24L553 1133.71Z"/><path fill="#fcaa33" d="M598 1104.18V1163.24L553 1133.71Z"/><path fill="#fb9d33" d="M508 1163.24H598L553 1133.71Z"/><rect x="598" y="1104.18" width="90" height="59.06" fill="#f78531"/><path fill="#fb9d33" d="M598 1104.18H688L643 1133.71Z"/><path fill="#f88830" d="M598 1104.18V1163.24L643 1133.71Z"/><path fill="#fa9033" d="M688 1104.18V1163.24L643 1133.71Z"/><path fill="#ef602d" d="M598 1163.24H688L643 1133.71Z"/><rect x="688" y="1104.18" width="90" height="59.06" fill="#f88530"/><path fill="#fa9033" d="M688 1104.18H778L733 1133.71Z"/><path fill="#f67a2e" d="M688 1104.18V1163.24L733 1133.71Z"/><path fill="#fb9d33" d="M778 1104.18V1163.24L733 1133.71Z"/><path fill="#f36d2e" d="M688 1163.24H778L733 1133.71Z"/><rect x="778" y="1104.18" width="90" height="59.06" fill="#faa444"/><path fill="#fdcc6c" d="M778 1104.18H868L823 1133.71Z"/><path fill="#fdb643" d="M778 1104.18V1163.24L823 1133.71Z"/><path fill="#f88830" d="M868 1104.18V1163.24L823 1133.71Z"/><path fill="#f88830" d="M778 1163.24H868L823 1133.71Z"/><rect x="868" y="1104.18" width="90" height="59.06" fill="#fab460"/><path fill="#fde28e" d="M868 1104.18H958L913 1133.71Z"/><path fill="#fdcc6c" d="M868 1104.18V1163.24L913 1133.71Z"/><path fill="#fdc05a" d="M958 1104.18V1163.24L913 1133.71Z"/><path fill="#ef602d" d="M868 1163.24H958L913 1133.71Z"/><rect x="958" y="1104.18" width="90" height="59.06" fill="#fab35f"/><path fill="#fde9a0" d="M958 1104.18H1048L1003 1133.71Z"/><path fill="#fdcc6c" d="M958 1104.18V1163.24L1003 1133.71Z"/><path fill="#fdb643" d="M1048 1104.18V1163.24L1003 1133.71Z"/><path fill="#ef602d" d="M958 1163.24H1048L1003 1133.71Z"/><rect x="1048" y="1104.18" width="90" height="59.06" fill="#fcb753"/><path fill="#fdd77d" d="M1048 1104.18H1138L1093 1133.71Z"/><path fill="#fdc05a" d="M1048 1104.18V1163.24L1093 1133.71Z"/><path fill="#fdb643" d="M1138 1104.18V1163.24L1093 1133.71Z"/><path fill="#fa9033" d="M1048 1163.24H1138L1093 1133.71Z"/><rect x="1138" y="1104.18" width="90" height="59.06" fill="#ea582c"/><path fill="#ea522c" d="M1138 1104.18H1228L1183 1133.71Z"/><path fill="#f36d2e" d="M1138 1104.18V1163.24L1183 1133.71Z"/><path fill="#f67a2e" d="M1228 1104.18V1163.24L1183 1133.71Z"/><path fill="#d3262a" d="M1138 1163.24H1228L1183 1133.71Z"/><rect x="1228" y="1104.18" width="90" height="59.06" fill="#fba94a"/><path fill="#fdcc6c" d="M1228 1104.18H1318L1273 1133.71Z"/><path fill="#fdc05a" d="M1228 1104.18V1163.24L1273 1133.71Z"/><path fill="#fb9d33" d="M1318 1104.18V1163.24L1273 1133.71Z"/><path fill="#f67a2e" d="M1228 1163.24H1318L1273 1133.71Z"/><rect x="1318" y="1104.18" width="90" height="59.06" fill="#fcc362"/><path fill="#fde28e" d="M1318 1104.18H1408L1363 1133.71Z"/><path fill="#fdcc6c" d="M1318 1104.18V1163.24L1363 1133.71Z"/><path fill="#fdc05a" d="M1408 1104.18V1163.24L1363 1133.71Z"/><path fill="#fb9d33" d="M1318 1163.24H1408L1363 1133.71Z"/><rect x="1408" y="1104.18" width="90" height="59.06" fill="#f88a30"/><path fill="#fb9d33" d="M1408 1104.18H1498L1453 1133.71Z"/><path fill="#f88830" d="M1408 1104.18V1163.24L1453 1133.71Z"/><path fill="#f88830" d="M1498 1104.18V1163.24L1453 1133.71Z"/><path fill="#f67a2e" d="M1408 1163.24H1498L1453 1133.71Z"/><rect x="1498" y="1104.18" width="90" height="59.06" fill="#f88630"/><path fill="#fa9033" d="M1498 1104.18H1588L1543 1133.71Z"/><path fill="#f88830" d="M1498 1104.18V1163.24L1543 1133.71Z"/><path fill="#f88830" d="M1588 1104.18V1163.24L1543 1133.71Z"/><path fill="#f67a2e" d="M1498 1163.24H1588L1543 1133.71Z"/><rect x="1588" y="1104.18" width="90" height="59.06" fill="#f88630"/><path fill="#fa9033" d="M1588 1104.18H1678L1633 1133.71Z"/><path fill="#f88830" d="M1588 1104.18V1163.24L1633 1133.71Z"/><path fill="#f67a2e" d="M1678 1104.18V1163.24L1633 1133.71Z"/><path fill="#f88830" d="M1588 1163.24H1678L1633 1133.71Z"/><rect x="1678" y="1104.18" width="90" height="59.06" fill="#fcb653"/><path fill="#fdcc6c" d="M1678 1104.18H1768L1723 1133.71Z"/><path fill="#fdcc6c" d="M1678 1104.18V1163.24L1723 1133.71Z"/><path fill="#fdb643" d="M1768 1104.18V1163.24L1723 1133.71Z"/><path fill="#f88830" d="M1678 1163.24H1768L1723 1133.71Z"/><rect x="1768" y="1104.18" width="90" height="59.06" fill="#faa03c"/><path fill="#fdc05a" d="M1768 1104.18H1858L1813 1133.71Z"/><path fill="#fcaa33" d="M1768 1104.18V1163.24L1813 1133.71Z"/><path fill="#fcaa33" d="M1858 1104.18V1163.24L1813 1133.71Z"/><path fill="#f36d2e" d="M1768 1163.24H1858L1813 1133.71Z"/><rect x="328" y="1163.24" width="90" height="59.06" fill="#fdeeb0"/><path fill="#fdefb6" d="M328 1163.24H418L373 1192.77Z"/><path fill="#fdefb6" d="M328 1163.24V1222.3L373 1192.77Z"/><path fill="#fdefb6" d="M418 1163.24V1222.3L373 1192.77Z"/><path fill="#fde9a0" d="M328 1222.3H418L373 1192.77Z"/><rect x="418" y="1163.24" width="90" height="59.06" fill="#fdecab"/><path fill="#fdefb6" d="M418 1163.24H508L463 1192.77Z"/><path fill="#fdefb6" d="M418 1163.24V1222.3L463 1192.77Z"/><path fill="#fde9a0" d="M508 1163.24V1222.3L463 1192.77Z"/><path fill="#fde9a0" d="M418 1222.3H508L463 1192.77Z"/><rect x="508" y="1163.24" width="90" height="59.06" fill="#fdecab"/><path fill="#fdefb6" d="M508 1163.24H598L553 1192.77Z"/><path fill="#fdefb6" d="M508 1163.24V1222.3L553 1192.77Z"/><path fill="#fde9a0" d="M598 1163.24V1222.3L553 1192.77Z"/><path fill="#fde9a0" d="M508 1222.3H598L553 1192.77Z"/><rect x="598" y="1163.24" width="90" height="59.06" fill="#fde9a0"/><path fill="#fde9a0" d="M598 1163.24H688L643 1192.77Z"/><path fill="#fde9a0" d="M598 1163.24V1222.3L643 1192.77Z"/><path fill="#fde9a0" d="M688 1163.24V1222.3L643 1192.77Z"/><path fill="#fde9a0" d="M598 1222.3H688L643 1192.77Z"/><rect x="688" y="1163.24" width="90" height="59.06" fill="#fde9a0"/><path fill="#fde9a0" d="M688 1163.24H778L733 1192.77Z"/><path fill="#fde9a0" d="M688 1163.24V1222.3L733 1192.77Z"/><path fill="#fde9a0" d="M778 1163.24V1222.3L733 1192.77Z"/><path fill="#fde9a0" d="M688 1222.3H778L733 1192.77Z"/><rect x="778" y="1163.24" width="90" height="59.06" fill="#fdefb6"/><path fill="#fdefb6" d="M778 1163.24H868L823 1192.77Z"/><path fill="#fdefb6" d="M778 1163.24V1222.3L823 1192.77Z"/><path fill="#fdefb6" d="M868 1163.24V1222.3L823 1192.77Z"/><path fill="#fdefb6" d="M778 1222.3H868L823 1192.77Z"/><rect x="868" y="1163.24" width="90" height="59.06" fill="#fef1be"/><path fill="#fef3c7" d="M868 1163.24H958L913 1192.77Z"/><path fill="#fef3c7" d="M868 1163.24V1222.3L913 1192.77Z"/><path fill="#fdefb6" d="M958 1163.24V1222.3L913 1192.77Z"/><path fill="#fdefb6" d="M868 1222.3H958L913 1192.77Z"/><rect x="958" y="1163.24" width="90" height="59.06" fill="#fef1be"/><path fill="#fef3c7" d="M958 1163.24H1048L1003 1192.77Z"/><path fill="#fef3c7" d="M958 1163.24V1222.3L1003 1192.77Z"/><path fill="#fdefb6" d="M1048 1163.24V1222.3L1003 1192.77Z"/><path fill="#fdefb6" d="M958 1222.3H1048L1003 1192.77Z"/><rect x="1048" y="1163.24" width="90" height="59.06" fill="#fdefb6"/><path fill="#fdefb6" d="M1048 1163.24H1138L1093 1192.77Z"/><path fill="#fdefb6" d="M1048 1163.24V1222.3L1093 1192.77Z"/><path fill="#fdefb6" d="M1138 1163.24V1222.3L1093 1192.77Z"/><path fill="#fdefb6" d="M1048 1222.3H1138L1093 1192.77Z"/><rect x="1138" y="1163.24" width="90" height="59.06" fill="#fdde8a"/><path fill="#fde28e" d="M1138 1163.24H1228L1183 1192.77Z"/><path fill="#fde9a0" d="M1138 1163.24V1222.3L1183 1192.77Z"/><path fill="#fdd77d" d="M1228 1163.24V1222.3L1183 1192.77Z"/><path fill="#fdd77d" d="M1138 1222.3H1228L1183 1192.77Z"/><rect x="1228" y="1163.24" width="90" height="59.06" fill="#fde79c"/><path fill="#fde9a0" d="M1228 1163.24H1318L1273 1192.77Z"/><path fill="#fdefb6" d="M1228 1163.24V1222.3L1273 1192.77Z"/><path fill="#fde28e" d="M1318 1163.24V1222.3L1273 1192.77Z"/><path fill="#fde28e" d="M1228 1222.3H1318L1273 1192.77Z"/><rect x="1318" y="1163.24" width="90" height="59.06" fill="#fdefb6"/><path fill="#fdefb6" d="M1318 1163.24H1408L1363 1192.77Z"/><path fill="#fdefb6" d="M1318 1163.24V1222.3L1363 1192.77Z"/><path fill="#fdefb6" d="M1408 1163.24V1222.3L1363 1192.77Z"/><path fill="#fdefb6" d="M1318 1222.3H1408L1363 1192.77Z"/><rect x="1408" y="1163.24" width="90" height="59.06" fill="#fdefb6"/><path fill="#fdefb6" d="M1408 1163.24H1498L1453 1192.77Z"/><path fill="#fdefb6" d="M1408 1163.24V1222.3L1453 1192.77Z"/><path fill="#fdefb6" d="M1498 1163.24V1222.3L1453 1192.77Z"/><path fill="#fdefb6" d="M1408 1222.3H1498L1453 1192.77Z"/><rect x="1498" y="1163.24" width="90" height="59.06" fill="#fdeaa6"/><path fill="#fdefb6" d="M1498 1163.24H1588L1543 1192.77Z"/><path fill="#fde9a0" d="M1498 1163.24V1222.3L1543 1192.77Z"/><path fill="#fde9a0" d="M1588 1163.24V1222.3L1543 1192.77Z"/><path fill="#fde9a0" d="M1498 1222.3H1588L1543 1192.77Z"/><rect x="1588" y="1163.24" width="90" height="59.06" fill="#fdecab"/><path fill="#fdefb6" d="M1588 1163.24H1678L1633 1192.77Z"/><path fill="#fdefb6" d="M1588 1163.24V1222.3L1633 1192.77Z"/><path fill="#fde9a0" d="M1678 1163.24V1222.3L1633 1192.77Z"/><path fill="#fde9a0" d="M1588 1222.3H1678L1633 1192.77Z"/><rect x="1678" y="1163.24" width="90" height="59.06" fill="#fdefb6"/><path fill="#fdefb6" d="M1678 1163.24H1768L1723 1192.77Z"/><path fill="#fdefb6" d="M1678 1163.24V1222.3L1723 1192.77Z"/><path fill="#fdefb6" d="M1768 1163.24V1222.3L1723 1192.77Z"/><path fill="#fdefb6" d="M1678 1222.3H1768L1723 1192.77Z"/><rect x="1768" y="1163.24" width="90" height="59.06" fill="#fddf8a"/><path fill="#fde28e" d="M1768 1163.24H1858L1813 1192.77Z"/><path fill="#fde28e" d="M1768 1163.24V1222.3L1813 1192.77Z"/><path fill="#fde28e" d="M1858 1163.24V1222.3L1813 1192.77Z"/><path fill="#fdd77d" d="M1768 1222.3H1858L1813 1192.77Z"/><rect x="328" y="1222.3" width="90" height="59.06" fill="#fde79c"/><path fill="#fde9a0" d="M328 1222.3H418L373 1251.83Z"/><path fill="#fde9a0" d="M328 1222.3V1281.36L373 1251.83Z"/><path fill="#fde9a0" d="M418 1222.3V1281.36L373 1251.83Z"/><path fill="#fde28e" d="M328 1281.36H418L373 1251.83Z"/><rect x="418" y="1222.3" width="90" height="59.06" fill="#fcb84f"/><path fill="#fdcc6c" d="M418 1222.3H508L463 1251.83Z"/><path fill="#fdb643" d="M418 1222.3V1281.36L463 1251.83Z"/><path fill="#fdc05a" d="M508 1222.3V1281.36L463 1251.83Z"/><path fill="#fb9d33" d="M418 1281.36H508L463 1251.83Z"/><rect x="508" y="1222.3" width="90" height="59.06" fill="#fcb84f"/><path fill="#fdcc6c" d="M508 1222.3H598L553 1251.83Z"/><path fill="#fdb643" d="M508 1222.3V1281.36L553 1251.83Z"/><path fill="#fdc05a" d="M598 1222.3V1281.36L553 1251.83Z"/><path fill="#fb9d33" d="M508 1281.36H598L553 1251.83Z"/><rect x="598" y="1222.3" width="90" height="59.06" fill="#fde79c"/><path fill="#fde9a0" d="M598 1222.3H688L643 1251.83Z"/><path fill="#fde28e" d="M598 1222.3V1281.36L643 1251.83Z"/><path fill="#fde9a0" d="M688 1222.3V1281.36L643 1251.83Z"/><path fill="#fde9a0" d="M598 1281.36H688L643 1251.83Z"/><rect x="688" y="1222.3" width="90" height="59.06" fill="#fde697"/><path fill="#fde28e" d="M688 1222.3H778L733 1251.83Z"/><path fill="#fde28e" d="M688 1222.3V1281.36L733 1251.83Z"/><path fill="#fde9a0" d="M778 1222.3V1281.36L733 1251.83Z"/><path fill="#fde9a0" d="M688 1281.36H778L733 1251.83Z"/><rect x="778" y="1222.3" width="90" height="59.06" fill="#fde492"/><path fill="#fde28e" d="M778 1222.3H868L823 1251.83Z"/><path fill="#fde9a0" d="M778 1222.3V1281.36L823 1251.83Z"/><path fill="#fde28e" d="M868 1222.3V1281.36L823 1251.83Z"/><path fill="#fde28e" d="M778 1281.36H868L823 1251.83Z"/><rect x="868" y="1222.3" width="90" height="59.06" fill="#fef1be"/><path fill="#fef3c7" d="M868 1222.3H958L913 1251.83Z"/><path fill="#fef3c7" d="M868 1222.3V1281.36L913 1251.83Z"/><path fill="#fdefb6" d="M958 1222.3V1281.36L913 1251.83Z"/><path fill="#fdefb6" d="M868 1281.36H958L913 1251.83Z"/><rect x="958" y="1222.3" width="90" height="59.06" fill="#fdf0ba"/><path fill="#fdefb6" d="M958 1222.3H1048L1003 1251.83Z"/><path fill="#fef3c7" d="M958 1222.3V1281.36L1003 1251.83Z"/><path fill="#fdefb6" d="M1048 1222.3V1281.36L1003 1251.83Z"/><path fill="#fdefb6" d="M958 1281.36H1048L1003 1251.83Z"/><rect x="1048" y="1222.3" width="90" height="59.06" fill="#fde697"/><path fill="#fde9a0" d="M1048 1222.3H1138L1093 1251.83Z"/><path fill="#fde9a0" d="M1048 1222.3V1281.36L1093 1251.83Z"/><path fill="#fde28e" d="M1138 1222.3V1281.36L1093 1251.83Z"/><path fill="#fde28e" d="M1048 1281.36H1138L1093 1251.83Z"/><rect x="1138" y="1222.3" width="90" height="59.06" fill="#fddc86"/><path fill="#fdd77d" d="M1138 1222.3H1228L1183 1251.83Z"/><path fill="#fde28e" d="M1138 1222.3V1281.36L1183 1251.83Z"/><path fill="#fdd77d" d="M1228 1222.3V1281.36L1183 1251.83Z"/><path fill="#fde28e" d="M1138 1281.36H1228L1183 1251.83Z"/><rect x="1228" y="1222.3" width="90" height="59.06" fill="#fde393"/><path fill="#fde9a0" d="M1228 1222.3H1318L1273 1251.83Z"/><path fill="#fde9a0" d="M1228 1222.3V1281.36L1273 1251.83Z"/><path fill="#fdd77d" d="M1318 1222.3V1281.36L1273 1251.83Z"/><path fill="#fde28e" d="M1228 1281.36H1318L1273 1251.83Z"/><rect x="1318" y="1222.3" width="90" height="59.06" fill="#fdf0ba"/><path fill="#fef3c7" d="M1318 1222.3H1408L1363 1251.83Z"/><path fill="#fdefb6" d="M1318 1222.3V1281.36L1363 1251.83Z"/><path fill="#fdefb6" d="M1408 1222.3V1281.36L1363 1251.83Z"/><path fill="#fdefb6" d="M1318 1281.36H1408L1363 1251.83Z"/><rect x="1408" y="1222.3" width="90" height="59.06" fill="#fde28e"/><path fill="#fde28e" d="M1408 1222.3H1498L1453 1251.83Z"/><path fill="#fde28e" d="M1408 1222.3V1281.36L1453 1251.83Z"/><path fill="#fde28e" d="M1498 1222.3V1281.36L1453 1251.83Z"/><path fill="#fde28e" d="M1408 1281.36H1498L1453 1251.83Z"/><rect x="1498" y="1222.3" width="90" height="59.06" fill="#fdecab"/><path fill="#fde9a0" d="M1498 1222.3H1588L1543 1251.83Z"/><path fill="#fde9a0" d="M1498 1222.3V1281.36L1543 1251.83Z"/><path fill="#fdefb6" d="M1588 1222.3V1281.36L1543 1251.83Z"/><path fill="#fdefb6" d="M1498 1281.36H1588L1543 1251.83Z"/><rect x="1588" y="1222.3" width="90" height="59.06" fill="#fdefb6"/><path fill="#fdefb6" d="M1588 1222.3H1678L1633 1251.83Z"/><path fill="#fdefb6" d="M1588 1222.3V1281.36L1633 1251.83Z"/><path fill="#fdefb6" d="M1678 1222.3V1281.36L1633 1251.83Z"/><path fill="#fdefb6" d="M1588 1281.36H1678L1633 1251.83Z"/><rect x="1678" y="1222.3" width="90" height="59.06" fill="#fdeeb5"/><path fill="#fef3c7" d="M1678 1222.3H1768L1723 1251.83Z"/><path fill="#fdefb6" d="M1678 1222.3V1281.36L1723 1251.83Z"/><path fill="#fdefb6" d="M1768 1222.3V1281.36L1723 1251.83Z"/><path fill="#fde9a0" d="M1678 1281.36H1768L1723 1251.83Z"/><rect x="1768" y="1222.3" width="90" height="59.06" fill="#fde08e"/><path fill="#fde9a0" d="M1768 1222.3H1858L1813 1251.83Z"/><path fill="#fde9a0" d="M1768 1222.3V1281.36L1813 1251.83Z"/><path fill="#fdd77d" d="M1858 1222.3V1281.36L1813 1251.83Z"/><path fill="#fdd77d" d="M1768 1281.36H1858L1813 1251.83Z"/><rect x="328" y="1281.36" width="90" height="59.06" fill="#fca433"/><path fill="#fcaa33" d="M328 1281.36H418L373 1310.89Z"/><path fill="#fcaa33" d="M328 1281.36V1340.42L373 1310.89Z"/><path fill="#fb9d33" d="M418 1281.36V1340.42L373 1310.89Z"/><path fill="#fb9d33" d="M328 1340.42H418L373 1310.89Z"/><rect x="418" y="1281.36" width="90" height="59.06" fill="#fa9432"/><path fill="#fa9033" d="M418 1281.36H508L463 1310.89Z"/><path fill="#f88830" d="M418 1281.36V1340.42L463 1310.89Z"/><path fill="#fb9d33" d="M508 1281.36V1340.42L463 1310.89Z"/><path fill="#fb9d33" d="M418 1340.42H508L463 1310.89Z"/><rect x="508" y="1281.36" width="90" height="59.06" fill="#fa9432"/><path fill="#fa9033" d="M508 1281.36H598L553 1310.89Z"/><path fill="#f88830" d="M508 1281.36V1340.42L553 1310.89Z"/><path fill="#fb9d33" d="M598 1281.36V1340.42L553 1310.89Z"/><path fill="#fb9d33" d="M508 1340.42H598L553 1310.89Z"/><rect x="598" y="1281.36" width="90" height="59.06" fill="#fcad3b"/><path fill="#fcaa33" d="M598 1281.36H688L643 1310.89Z"/><path fill="#fb9d33" d="M598 1281.36V1340.42L643 1310.89Z"/><path fill="#fdb643" d="M688 1281.36V1340.42L643 1310.89Z"/><path fill="#fdb643" d="M598 1340.42H688L643 1310.89Z"/><rect x="688" y="1281.36" width="90" height="59.06" fill="#fcaa3b"/><path fill="#fb9d33" d="M688 1281.36H778L733 1310.89Z"/><path fill="#fb9d33" d="M688 1281.36V1340.42L733 1310.89Z"/><path fill="#fdb643" d="M778 1281.36V1340.42L733 1310.89Z"/><path fill="#fdb643" d="M688 1340.42H778L733 1310.89Z"/><rect x="778" y="1281.36" width="90" height="59.06" fill="#fca433"/><path fill="#fcaa33" d="M778 1281.36H868L823 1310.89Z"/><path fill="#fcaa33" d="M778 1281.36V1340.42L823 1310.89Z"/><path fill="#fb9d33" d="M868 1281.36V1340.42L823 1310.89Z"/><path fill="#fb9d33" d="M778 1340.42H868L823 1310.89Z"/><rect x="868" y="1281.36" width="90" height="59.06" fill="#fdb84a"/><path fill="#fdc05a" d="M868 1281.36H958L913 1310.89Z"/><path fill="#fdc05a" d="M868 1281.36V1340.42L913 1310.89Z"/><path fill="#fdb643" d="M958 1281.36V1340.42L913 1310.89Z"/><path fill="#fcaa33" d="M868 1340.42H958L913 1310.89Z"/><rect x="958" y="1281.36" width="90" height="59.06" fill="#fdb84a"/><path fill="#fdc05a" d="M958 1281.36H1048L1003 1310.89Z"/><path fill="#fdb643" d="M958 1281.36V1340.42L1003 1310.89Z"/><path fill="#fdc05a" d="M1048 1281.36V1340.42L1003 1310.89Z"/><path fill="#fcaa33" d="M958 1340.42H1048L1003 1310.89Z"/><rect x="1048" y="1281.36" width="90" height="59.06" fill="#f88831"/><path fill="#fa9033" d="M1048 1281.36H1138L1093 1310.89Z"/><path fill="#f88830" d="M1048 1281.36V1340.42L1093 1310.89Z"/><path fill="#fa9033" d="M1138 1281.36V1340.42L1093 1310.89Z"/><path fill="#f67a2e" d="M1048 1340.42H1138L1093 1310.89Z"/><rect x="1138" y="1281.36" width="90" height="59.06" fill="#ee5d2d"/><path fill="#ef602d" d="M1138 1281.36H1228L1183 1310.89Z"/><path fill="#ef602d" d="M1138 1281.36V1340.42L1183 1310.89Z"/><path fill="#f36d2e" d="M1228 1281.36V1340.42L1183 1310.89Z"/><path fill="#e5462c" d="M1138 1340.42H1228L1183 1310.89Z"/><rect x="1228" y="1281.36" width="90" height="59.06" fill="#f7812f"/><path fill="#f67a2e" d="M1228 1281.36H1318L1273 1310.89Z"/><path fill="#f67a2e" d="M1228 1281.36V1340.42L1273 1310.89Z"/><path fill="#f88830" d="M1318 1281.36V1340.42L1273 1310.89Z"/><path fill="#f88830" d="M1228 1340.42H1318L1273 1310.89Z"/><rect x="1318" y="1281.36" width="90" height="59.06" fill="#fcaa3b"/><path fill="#fcaa33" d="M1318 1281.36H1408L1363 1310.89Z"/><path fill="#fa9033" d="M1318 1281.36V1340.42L1363 1310.89Z"/><path fill="#fdb643" d="M1408 1281.36V1340.42L1363 1310.89Z"/><path fill="#fdb643" d="M1318 1340.42H1408L1363 1310.89Z"/><rect x="1408" y="1281.36" width="90" height="59.06" fill="#fcaa37"/><path fill="#fb9d33" d="M1408 1281.36H1498L1453 1310.89Z"/><path fill="#fcaa33" d="M1408 1281.36V1340.42L1453 1310.89Z"/><path fill="#fcaa33" d="M1498 1281.36V1340.42L1453 1310.89Z"/><path fill="#fdb643" d="M1408 1340.42H1498L1453 1310.89Z"/><rect x="1498" y="1281.36" width="90" height="59.06" fill="#fb9d33"/><path fill="#fb9d33" d="M1498 1281.36H1588L1543 1310.89Z"/><path fill="#fa9033" d="M1498 1281.36V1340.42L1543 1310.89Z"/><path fill="#fb9d33" d="M1588 1281.36V1340.42L1543 1310.89Z"/><path fill="#fcaa33" d="M1498 1340.42H1588L1543 1310.89Z"/><rect x="1588" y="1281.36" width="90" height="59.06" fill="#fdb645"/><path fill="#fdb643" d="M1588 1281.36H1678L1633 1310.89Z"/><path fill="#fcaa33" d="M1588 1281.36V1340.42L1633 1310.89Z"/><path fill="#fdb643" d="M1678 1281.36V1340.42L1633 1310.89Z"/><path fill="#fdc05a" d="M1588 1340.42H1678L1633 1310.89Z"/><rect x="1678" y="1281.36" width="90" height="59.06" fill="#fcad37"/><path fill="#fdb643" d="M1678 1281.36H1768L1723 1310.89Z"/><path fill="#fcaa33" d="M1678 1281.36V1340.42L1723 1310.89Z"/><path fill="#fcaa33" d="M1768 1281.36V1340.42L1723 1310.89Z"/><path fill="#fcaa33" d="M1678 1340.42H1768L1723 1310.89Z"/><rect x="1768" y="1281.36" width="90" height="59.06" fill="#f88830"/><path fill="#f88830" d="M1768 1281.36H1858L1813 1310.89Z"/><path fill="#f88830" d="M1768 1281.36V1340.42L1813 1310.89Z"/><path fill="#f88830" d="M1858 1281.36V1340.42L1813 1310.89Z"/><path fill="#f88830" d="M1768 1340.42H1858L1813 1310.89Z"/><rect x="328" y="1340.42" width="90" height="59.06" fill="#fde095"/><path fill="#fdcc6c" d="M328 1340.42H418L373 1369.95Z"/><path fill="#fdefb6" d="M328 1340.42V1399.48L373 1369.95Z"/><path fill="#fdd77d" d="M418 1340.42V1399.48L373 1369.95Z"/><path fill="#fdefb6" d="M328 1399.48H418L373 1369.95Z"/><rect x="418" y="1340.42" width="90" height="59.06" fill="#fdd887"/><path fill="#fdb643" d="M418 1340.42H508L463 1369.95Z"/><path fill="#fdefb6" d="M418 1340.42V1399.48L463 1369.95Z"/><path fill="#fdcc6c" d="M508 1340.42V1399.48L463 1369.95Z"/><path fill="#fdefb6" d="M418 1399.48H508L463 1369.95Z"/><rect x="508" y="1340.42" width="90" height="59.06" fill="#fdd887"/><path fill="#fdb643" d="M508 1340.42H598L553 1369.95Z"/><path fill="#fdefb6" d="M508 1340.42V1399.48L553 1369.95Z"/><path fill="#fdcc6c" d="M598 1340.42V1399.48L553 1369.95Z"/><path fill="#fdefb6" d="M508 1399.48H598L553 1369.95Z"/><rect x="598" y="1340.42" width="90" height="59.06" fill="#fcc672"/><path fill="#f88830" d="M598 1340.42H688L643 1369.95Z"/><path fill="#fde9a0" d="M598 1340.42V1399.48L643 1369.95Z"/><path fill="#fdb643" d="M688 1340.42V1399.48L643 1369.95Z"/><path fill="#fdefb6" d="M598 1399.48H688L643 1369.95Z"/><rect x="688" y="1340.42" width="90" height="59.06" fill="#fcc672"/><path fill="#f88830" d="M688 1340.42H778L733 1369.95Z"/><path fill="#fde9a0" d="M688 1340.42V1399.48L733 1369.95Z"/><path fill="#fdb643" d="M778 1340.42V1399.48L733 1369.95Z"/><path fill="#fdefb6" d="M688 1399.48H778L733 1369.95Z"/><rect x="778" y="1340.42" width="90" height="59.06" fill="#fee9ac"/><path fill="#fdd77d" d="M778 1340.42H868L823 1369.95Z"/><path fill="#fef3c7" d="M778 1340.42V1399.48L823 1369.95Z"/><path fill="#fde28e" d="M868 1340.42V1399.48L823 1369.95Z"/><path fill="#fff7dd" d="M778 1399.48H868L823 1369.95Z"/><rect x="868" y="1340.42" width="90" height="59.06" fill="#fee5a3"/><path fill="#fdd77d" d="M868 1340.42H958L913 1369.95Z"/><path fill="#fff7dd" d="M868 1340.42V1399.48L913 1369.95Z"/><path fill="#fdd77d" d="M958 1340.42V1399.48L913 1369.95Z"/><path fill="#fdefb6" d="M868 1399.48H958L913 1369.95Z"/><rect x="958" y="1340.42" width="90" height="59.06" fill="#fde095"/><path fill="#fdcc6c" d="M958 1340.42H1048L1003 1369.95Z"/><path fill="#fdefb6" d="M958 1340.42V1399.48L1003 1369.95Z"/><path fill="#fdd77d" d="M1048 1340.42V1399.48L1003 1369.95Z"/><path fill="#fdefb6" d="M958 1399.48H1048L1003 1369.95Z"/><rect x="1048" y="1340.42" width="90" height="59.06" fill="#fdda86"/><path fill="#fdcc6c" d="M1048 1340.42H1138L1093 1369.95Z"/><path fill="#fde9a0" d="M1048 1340.42V1399.48L1093 1369.95Z"/><path fill="#fdcc6c" d="M1138 1340.42V1399.48L1093 1369.95Z"/><path fill="#fde9a0" d="M1048 1399.48H1138L1093 1369.95Z"/><rect x="1138" y="1340.42" width="90" height="59.06" fill="#fdd986"/><path fill="#fdb643" d="M1138 1340.42H1228L1183 1369.95Z"/><path fill="#fde9a0" d="M1138 1340.42V1399.48L1183 1369.95Z"/><path fill="#fdd77d" d="M1228 1340.42V1399.48L1183 1369.95Z"/><path fill="#fdefb6" d="M1138 1399.48H1228L1183 1369.95Z"/><rect x="1228" y="1340.42" width="90" height="59.06" fill="#fdd887"/><path fill="#fdb643" d="M1228 1340.42H1318L1273 1369.95Z"/><path fill="#fdefb6" d="M1228 1340.42V1399.48L1273 1369.95Z"/><path fill="#fdcc6c" d="M1318 1340.42V1399.48L1273 1369.95Z"/><path fill="#fdefb6" d="M1228 1399.48H1318L1273 1369.95Z"/><rect x="1318" y="1340.42" width="90" height="59.06" fill="#fddd91"/><path fill="#fdc05a" d="M1318 1340.42H1408L1363 1369.95Z"/><path fill="#fdefb6" d="M1318 1340.42V1399.48L1363 1369.95Z"/><path fill="#fdd77d" d="M1408 1340.42V1399.48L1363 1369.95Z"/><path fill="#fdefb6" d="M1318 1399.48H1408L1363 1369.95Z"/><rect x="1408" y="1340.42" width="90" height="59.06" fill="#fee29e"/><path fill="#fdcc6c" d="M1408 1340.42H1498L1453 1369.95Z"/><path fill="#fef3c7" d="M1408 1340.42V1399.48L1453 1369.95Z"/><path fill="#fdd77d" d="M1498 1340.42V1399.48L1453 1369.95Z"/><path fill="#fef3c7" d="M1408 1399.48H1498L1453 1369.95Z"/><rect x="1498" y="1340.42" width="90" height="59.06" fill="#fcc96a"/><path fill="#fcaa33" d="M1498 1340.42H1588L1543 1369.95Z"/><path fill="#fde28e" d="M1498 1340.42V1399.48L1543 1369.95Z"/><path fill="#fcaa33" d="M1588 1340.42V1399.48L1543 1369.95Z"/><path fill="#fdefb6" d="M1498 1399.48H1588L1543 1369.95Z"/><rect x="1588" y="1340.42" width="90" height="59.06" fill="#fdce73"/><path fill="#fcaa33" d="M1588 1340.42H1678L1633 1369.95Z"/><path fill="#fde9a0" d="M1588 1340.42V1399.48L1633 1369.95Z"/><path fill="#fdb643" d="M1678 1340.42V1399.48L1633 1369.95Z"/><path fill="#fdefb6" d="M1588 1399.48H1678L1633 1369.95Z"/><rect x="1678" y="1340.42" width="90" height="59.06" fill="#fdda8c"/><path fill="#fdcc6c" d="M1678 1340.42H1768L1723 1369.95Z"/><path fill="#fdefb6" d="M1678 1340.42V1399.48L1723 1369.95Z"/><path fill="#fdc05a" d="M1768 1340.42V1399.48L1723 1369.95Z"/><path fill="#fdefb6" d="M1678 1399.48H1768L1723 1369.95Z"/><rect x="1768" y="1340.42" width="90" height="59.06" fill="#fdd47d"/><path fill="#fdc05a" d="M1768 1340.42H1858L1813 1369.95Z"/><path fill="#fde9a0" d="M1768 1340.42V1399.48L1813 1369.95Z"/><path fill="#fdc05a" d="M1858 1340.42V1399.48L1813 1369.95Z"/><path fill="#fde9a0" d="M1768 1399.48H1858L1813 1369.95Z"/><rect x="328" y="1399.48" width="90" height="59.06" fill="#fde79c"/><path fill="#fde9a0" d="M328 1399.48H418L373 1429.01Z"/><path fill="#fde9a0" d="M328 1399.48V1458.54L373 1429.01Z"/><path fill="#fde9a0" d="M418 1399.48V1458.54L373 1429.01Z"/><path fill="#fde28e" d="M328 1458.54H418L373 1429.01Z"/><rect x="418" y="1399.48" width="90" height="59.06" fill="#fdd77d"/><path fill="#fdd77d" d="M418 1399.48H508L463 1429.01Z"/><path fill="#fde28e" d="M418 1399.48V1458.54L463 1429.01Z"/><path fill="#fdcc6c" d="M508 1399.48V1458.54L463 1429.01Z"/><path fill="#fdd77d" d="M418 1458.54H508L463 1429.01Z"/><rect x="508" y="1399.48" width="90" height="59.06" fill="#fdd77d"/><path fill="#fdd77d" d="M508 1399.48H598L553 1429.01Z"/><path fill="#fde28e" d="M508 1399.48V1458.54L553 1429.01Z"/><path fill="#fdcc6c" d="M598 1399.48V1458.54L553 1429.01Z"/><path fill="#fdd77d" d="M508 1458.54H598L553 1429.01Z"/><rect x="598" y="1399.48" width="90" height="59.06" fill="#fdda81"/><path fill="#fdd77d" d="M598 1399.48H688L643 1429.01Z"/><path fill="#fde28e" d="M598 1399.48V1458.54L643 1429.01Z"/><path fill="#fdd77d" d="M688 1399.48V1458.54L643 1429.01Z"/><path fill="#fdd77d" d="M598 1458.54H688L643 1429.01Z"/><rect x="688" y="1399.48" width="90" height="59.06" fill="#fdda81"/><path fill="#fdd77d" d="M688 1399.48H778L733 1429.01Z"/><path fill="#fde28e" d="M688 1399.48V1458.54L733 1429.01Z"/><path fill="#fdd77d" d="M778 1399.48V1458.54L733 1429.01Z"/><path fill="#fdd77d" d="M688 1458.54H778L733 1429.01Z"/><rect x="778" y="1399.48" width="90" height="59.06" fill="#fde28e"/><path fill="#fde28e" d="M778 1399.48H868L823 1429.01Z"/><path fill="#fde28e" d="M778 1399.48V1458.54L823 1429.01Z"/><path fill="#fde28e" d="M868 1399.48V1458.54L823 1429.01Z"/><path fill="#fde28e" d="M778 1458.54H868L823 1429.01Z"/><rect x="868" y="1399.48" width="90" height="59.06" fill="#fde697"/><path fill="#fde9a0" d="M868 1399.48H958L913 1429.01Z"/><path fill="#fde9a0" d="M868 1399.48V1458.54L913 1429.01Z"/><path fill="#fde28e" d="M958 1399.48V1458.54L913 1429.01Z"/><path fill="#fde28e" d="M868 1458.54H958L913 1429.01Z"/><rect x="958" y="1399.48" width="90" height="59.06" fill="#fde697"/><path fill="#fde9a0" d="M958 1399.48H1048L1003 1429.01Z"/><path fill="#fde9a0" d="M958 1399.48V1458.54L1003 1429.01Z"/><path fill="#fde28e" d="M1048 1399.48V1458.54L1003 1429.01Z"/><path fill="#fde28e" d="M958 1458.54H1048L1003 1429.01Z"/><rect x="1048" y="1399.48" width="90" height="59.06" fill="#fdc662"/><path fill="#fde28e" d="M1048 1399.48H1138L1093 1429.01Z"/><path fill="#fdcc6c" d="M1048 1399.48V1458.54L1093 1429.01Z"/><path fill="#fdc05a" d="M1138 1399.48V1458.54L1093 1429.01Z"/><path fill="#fcaa33" d="M1048 1458.54H1138L1093 1429.01Z"/><rect x="1138" y="1399.48" width="90" height="59.06" fill="#fdc663"/><path fill="#fdc05a" d="M1138 1399.48H1228L1183 1429.01Z"/><path fill="#fdcc6c" d="M1138 1399.48V1458.54L1183 1429.01Z"/><path fill="#fdc05a" d="M1228 1399.48V1458.54L1183 1429.01Z"/><path fill="#fdcc6c" d="M1138 1458.54H1228L1183 1429.01Z"/><rect x="1228" y="1399.48" width="90" height="59.06" fill="#fdc663"/><path fill="#fdc05a" d="M1228 1399.48H1318L1273 1429.01Z"/><path fill="#fdcc6c" d="M1228 1399.48V1458.54L1273 1429.01Z"/><path fill="#fdc05a" d="M1318 1399.48V1458.54L1273 1429.01Z"/><path fill="#fdcc6c" d="M1228 1458.54H1318L1273 1429.01Z"/><rect x="1318" y="1399.48" width="90" height="59.06" fill="#fddc86"/><path fill="#fdd77d" d="M1318 1399.48H1408L1363 1429.01Z"/><path fill="#fde28e" d="M1318 1399.48V1458.54L1363 1429.01Z"/><path fill="#fdd77d" d="M1408 1399.48V1458.54L1363 1429.01Z"/><path fill="#fde28e" d="M1318 1458.54H1408L1363 1429.01Z"/><rect x="1408" y="1399.48" width="90" height="59.06" fill="#fdd77d"/><path fill="#fdcc6c" d="M1408 1399.48H1498L1453 1429.01Z"/><path fill="#fdd77d" d="M1408 1399.48V1458.54L1453 1429.01Z"/><path fill="#fdd77d" d="M1498 1399.48V1458.54L1453 1429.01Z"/><path fill="#fde28e" d="M1408 1458.54H1498L1453 1429.01Z"/><rect x="1498" y="1399.48" width="90" height="59.06" fill="#fdd174"/><path fill="#fde28e" d="M1498 1399.48H1588L1543 1429.01Z"/><path fill="#fde28e" d="M1498 1399.48V1458.54L1543 1429.01Z"/><path fill="#fdc05a" d="M1588 1399.48V1458.54L1543 1429.01Z"/><path fill="#fdc05a" d="M1498 1458.54H1588L1543 1429.01Z"/><rect x="1588" y="1399.48" width="90" height="59.06" fill="#fdd77d"/><path fill="#fde28e" d="M1588 1399.48H1678L1633 1429.01Z"/><path fill="#fde28e" d="M1588 1399.48V1458.54L1633 1429.01Z"/><path fill="#fdcc6c" d="M1678 1399.48V1458.54L1633 1429.01Z"/><path fill="#fdcc6c" d="M1588 1458.54H1678L1633 1429.01Z"/><rect x="1678" y="1399.48" width="90" height="59.06" fill="#fdd174"/><path fill="#fde28e" d="M1678 1399.48H1768L1723 1429.01Z"/><path fill="#fdd77d" d="M1678 1399.48V1458.54L1723 1429.01Z"/><path fill="#fdcc6c" d="M1768 1399.48V1458.54L1723 1429.01Z"/><path fill="#fdc05a" d="M1678 1458.54H1768L1723 1429.01Z"/><rect x="1768" y="1399.48" width="90" height="59.06" fill="#fdc663"/><path fill="#fdcc6c" d="M1768 1399.48H1858L1813 1429.01Z"/><path fill="#fdcc6c" d="M1768 1399.48V1458.54L1813 1429.01Z"/><path fill="#fdc05a" d="M1858 1399.48V1458.54L1813 1429.01Z"/><path fill="#fdc05a" d="M1768 1458.54H1858L1813 1429.01Z"/><rect x="328" y="1458.54" width="90" height="59.06" fill="#fdecac"/><path fill="#fdefb6" d="M328 1458.54H418L373 1488.07Z"/><path fill="#fdefb6" d="M328 1458.54V1517.6L373 1488.07Z"/><path fill="#fdefb6" d="M418 1458.54V1517.6L373 1488.07Z"/><path fill="#fde28e" d="M328 1517.6H418L373 1488.07Z"/><rect x="418" y="1458.54" width="90" height="59.06" fill="#fdecac"/><path fill="#fdefb6" d="M418 1458.54H508L463 1488.07Z"/><path fill="#fdefb6" d="M418 1458.54V1517.6L463 1488.07Z"/><path fill="#fdefb6" d="M508 1458.54V1517.6L463 1488.07Z"/><path fill="#fde28e" d="M418 1517.6H508L463 1488.07Z"/><rect x="508" y="1458.54" width="90" height="59.06" fill="#fdecac"/><path fill="#fdefb6" d="M508 1458.54H598L553 1488.07Z"/><path fill="#fdefb6" d="M508 1458.54V1517.6L553 1488.07Z"/><path fill="#fdefb6" d="M598 1458.54V1517.6L553 1488.07Z"/><path fill="#fde28e" d="M508 1517.6H598L553 1488.07Z"/><rect x="598" y="1458.54" width="90" height="59.06" fill="#fde697"/><path fill="#fde9a0" d="M598 1458.54H688L643 1488.07Z"/><path fill="#fde9a0" d="M598 1458.54V1517.6L643 1488.07Z"/><path fill="#fde28e" d="M688 1458.54V1517.6L643 1488.07Z"/><path fill="#fde28e" d="M598 1517.6H688L643 1488.07Z"/><rect x="688" y="1458.54" width="90" height="59.06" fill="#fde79c"/><path fill="#fde9a0" d="M688 1458.54H778L733 1488.07Z"/><path fill="#fde9a0" d="M688 1458.54V1517.6L733 1488.07Z"/><path fill="#fde9a0" d="M778 1458.54V1517.6L733 1488.07Z"/><path fill="#fde28e" d="M688 1517.6H778L733 1488.07Z"/><rect x="778" y="1458.54" width="90" height="59.06" fill="#fdeeb0"/><path fill="#fdefb6" d="M778 1458.54H868L823 1488.07Z"/><path fill="#fdefb6" d="M778 1458.54V1517.6L823 1488.07Z"/><path fill="#fdefb6" d="M868 1458.54V1517.6L823 1488.07Z"/><path fill="#fde9a0" d="M778 1517.6H868L823 1488.07Z"/><rect x="868" y="1458.54" width="90" height="59.06" fill="#feeeb4"/><path fill="#fef3c7" d="M868 1458.54H958L913 1488.07Z"/><path fill="#fef3c7" d="M868 1458.54V1517.6L913 1488.07Z"/><path fill="#fdefb6" d="M958 1458.54V1517.6L913 1488.07Z"/><path fill="#fde28e" d="M868 1517.6H958L913 1488.07Z"/><rect x="958" y="1458.54" width="90" height="59.06" fill="#fdedb0"/><path fill="#fef3c7" d="M958 1458.54H1048L1003 1488.07Z"/><path fill="#fdefb6" d="M958 1458.54V1517.6L1003 1488.07Z"/><path fill="#fdefb6" d="M1048 1458.54V1517.6L1003 1488.07Z"/><path fill="#fde28e" d="M958 1517.6H1048L1003 1488.07Z"/><rect x="1048" y="1458.54" width="90" height="59.06" fill="#fde8a2"/><path fill="#fdefb6" d="M1048 1458.54H1138L1093 1488.07Z"/><path fill="#fdefb6" d="M1048 1458.54V1517.6L1093 1488.07Z"/><path fill="#fde9a0" d="M1138 1458.54V1517.6L1093 1488.07Z"/><path fill="#fdd77d" d="M1048 1517.6H1138L1093 1488.07Z"/><rect x="1138" y="1458.54" width="90" height="59.06" fill="#fdd77d"/><path fill="#fdd77d" d="M1138 1458.54H1228L1183 1488.07Z"/><path fill="#fde28e" d="M1138 1458.54V1517.6L1183 1488.07Z"/><path fill="#fdd77d" d="M1228 1458.54V1517.6L1183 1488.07Z"/><path fill="#fdcc6c" d="M1138 1517.6H1228L1183 1488.07Z"/><rect x="1228" y="1458.54" width="90" height="59.06" fill="#fdde8a"/><path fill="#fde28e" d="M1228 1458.54H1318L1273 1488.07Z"/><path fill="#fde9a0" d="M1228 1458.54V1517.6L1273 1488.07Z"/><path fill="#fdd77d" d="M1318 1458.54V1517.6L1273 1488.07Z"/><path fill="#fdd77d" d="M1228 1517.6H1318L1273 1488.07Z"/><rect x="1318" y="1458.54" width="90" height="59.06" fill="#fdeaa6"/><path fill="#fdefb6" d="M1318 1458.54H1408L1363 1488.07Z"/><path fill="#fdefb6" d="M1318 1458.54V1517.6L1363 1488.07Z"/><path fill="#fde9a0" d="M1408 1458.54V1517.6L1363 1488.07Z"/><path fill="#fde28e" d="M1318 1517.6H1408L1363 1488.07Z"/><rect x="1408" y="1458.54" width="90" height="59.06" fill="#fdecac"/><path fill="#fdefb6" d="M1408 1458.54H1498L1453 1488.07Z"/><path fill="#fdefb6" d="M1408 1458.54V1517.6L1453 1488.07Z"/><path fill="#fdefb6" d="M1498 1458.54V1517.6L1453 1488.07Z"/><path fill="#fde28e" d="M1408 1517.6H1498L1453 1488.07Z"/><rect x="1498" y="1458.54" width="90" height="59.06" fill="#fde8a2"/><path fill="#fdefb6" d="M1498 1458.54H1588L1543 1488.07Z"/><path fill="#fdefb6" d="M1498 1458.54V1517.6L1543 1488.07Z"/><path fill="#fde9a0" d="M1588 1458.54V1517.6L1543 1488.07Z"/><path fill="#fdd77d" d="M1498 1517.6H1588L1543 1488.07Z"/><rect x="1588" y="1458.54" width="90" height="59.06" fill="#fdeaa6"/><path fill="#fdefb6" d="M1588 1458.54H1678L1633 1488.07Z"/><path fill="#fdefb6" d="M1588 1458.54V1517.6L1633 1488.07Z"/><path fill="#fde9a0" d="M1678 1458.54V1517.6L1633 1488.07Z"/><path fill="#fde28e" d="M1588 1517.6H1678L1633 1488.07Z"/><rect x="1678" y="1458.54" width="90" height="59.06" fill="#fdeeb0"/><path fill="#fdefb6" d="M1678 1458.54H1768L1723 1488.07Z"/><path fill="#fdefb6" d="M1678 1458.54V1517.6L1723 1488.07Z"/><path fill="#fdefb6" d="M1768 1458.54V1517.6L1723 1488.07Z"/><path fill="#fde9a0" d="M1678 1517.6H1768L1723 1488.07Z"/><rect x="1768" y="1458.54" width="90" height="59.06" fill="#fdda81"/><path fill="#fde28e" d="M1768 1458.54H1858L1813 1488.07Z"/><path fill="#fde28e" d="M1768 1458.54V1517.6L1813 1488.07Z"/><path fill="#fdd77d" d="M1858 1458.54V1517.6L1813 1488.07Z"/><path fill="#fdcc6c" d="M1768 1517.6H1858L1813 1488.07Z"/><rect x="328" y="1517.6" width="90" height="59.06" fill="#fdd77d"/><path fill="#fdd77d" d="M328 1517.6H418L373 1547.13Z"/><path fill="#fdd77d" d="M328 1517.6V1576.66L373 1547.13Z"/><path fill="#fdd77d" d="M418 1517.6V1576.66L373 1547.13Z"/><path fill="#fdd77d" d="M328 1576.66H418L373 1547.13Z"/><rect x="418" y="1517.6" width="90" height="59.06" fill="#fde28e"/><path fill="#fde28e" d="M418 1517.6H508L463 1547.13Z"/><path fill="#fde28e" d="M418 1517.6V1576.66L463 1547.13Z"/><path fill="#fde28e" d="M508 1517.6V1576.66L463 1547.13Z"/><path fill="#fde28e" d="M418 1576.66H508L463 1547.13Z"/><rect x="508" y="1517.6" width="90" height="59.06" fill="#fddc86"/><path fill="#fde28e" d="M508 1517.6H598L553 1547.13Z"/><path fill="#fde28e" d="M508 1517.6V1576.66L553 1547.13Z"/><path fill="#fdd77d" d="M598 1517.6V1576.66L553 1547.13Z"/><path fill="#fdd77d" d="M508 1576.66H598L553 1547.13Z"/><rect x="598" y="1517.6" width="90" height="59.06" fill="#f06a2e"/><path fill="#e5462c" d="M598 1517.6H688L643 1547.13Z"/><path fill="#ef602d" d="M598 1517.6V1576.66L643 1547.13Z"/><path fill="#f67a2e" d="M688 1517.6V1576.66L643 1547.13Z"/><path fill="#f88830" d="M598 1576.66H688L643 1547.13Z"/><rect x="688" y="1517.6" width="90" height="59.06" fill="#ef632d"/><path fill="#ea522c" d="M688 1517.6H778L733 1547.13Z"/><path fill="#e5462c" d="M688 1517.6V1576.66L733 1547.13Z"/><path fill="#f67a2e" d="M778 1517.6V1576.66L733 1547.13Z"/><path fill="#f67a2e" d="M688 1576.66H778L733 1547.13Z"/><rect x="778" y="1517.6" width="90" height="59.06" fill="#fdd77d"/><path fill="#fdd77d" d="M778 1517.6H868L823 1547.13Z"/><path fill="#fdd77d" d="M778 1517.6V1576.66L823 1547.13Z"/><path fill="#fdd77d" d="M868 1517.6V1576.66L823 1547.13Z"/><path fill="#fdd77d" d="M778 1576.66H868L823 1547.13Z"/><rect x="868" y="1517.6" width="90" height="59.06" fill="#fcaa33"/><path fill="#fcaa33" d="M868 1517.6H958L913 1547.13Z"/><path fill="#fcaa33" d="M868 1517.6V1576.66L913 1547.13Z"/><path fill="#fcaa33" d="M958 1517.6V1576.66L913 1547.13Z"/><path fill="#fcaa33" d="M868 1576.66H958L913 1547.13Z"/><rect x="958" y="1517.6" width="90" height="59.06" fill="#fde492"/><path fill="#fde28e" d="M958 1517.6H1048L1003 1547.13Z"/><path fill="#fde9a0" d="M958 1517.6V1576.66L1003 1547.13Z"/><path fill="#fde28e" d="M1048 1517.6V1576.66L1003 1547.13Z"/><path fill="#fde28e" d="M958 1576.66H1048L1003 1547.13Z"/><rect x="1048" y="1517.6" width="90" height="59.06" fill="#fde28e"/><path fill="#fde28e" d="M1048 1517.6H1138L1093 1547.13Z"/><path fill="#fde28e" d="M1048 1517.6V1576.66L1093 1547.13Z"/><path fill="#fde28e" d="M1138 1517.6V1576.66L1093 1547.13Z"/><path fill="#fde28e" d="M1048 1576.66H1138L1093 1547.13Z"/><rect x="1138" y="1517.6" width="90" height="59.06" fill="#fdd77d"/><path fill="#fdd77d" d="M1138 1517.6H1228L1183 1547.13Z"/><path fill="#fdd77d" d="M1138 1517.6V1576.66L1183 1547.13Z"/><path fill="#fdd77d" d="M1228 1517.6V1576.66L1183 1547.13Z"/><path fill="#fdd77d" d="M1138 1576.66H1228L1183 1547.13Z"/><rect x="1228" y="1517.6" width="90" height="59.06" fill="#fdc05a"/><path fill="#fdc05a" d="M1228 1517.6H1318L1273 1547.13Z"/><path fill="#fdc05a" d="M1228 1517.6V1576.66L1273 1547.13Z"/><path fill="#fdc05a" d="M1318 1517.6V1576.66L1273 1547.13Z"/><path fill="#fdc05a" d="M1228 1576.66H1318L1273 1547.13Z"/><rect x="1318" y="1517.6" width="90" height="59.06" fill="#fddc86"/><path fill="#fdd77d" d="M1318 1517.6H1408L1363 1547.13Z"/><path fill="#fdd77d" d="M1318 1517.6V1576.66L1363 1547.13Z"/><path fill="#fdd77d" d="M1408 1517.6V1576.66L1363 1547.13Z"/><path fill="#fde9a0" d="M1318 1576.66H1408L1363 1547.13Z"/><rect x="1408" y="1517.6" width="90" height="59.06" fill="#fdd77d"/><path fill="#fdd77d" d="M1408 1517.6H1498L1453 1547.13Z"/><path fill="#fdd77d" d="M1408 1517.6V1576.66L1453 1547.13Z"/><path fill="#fdd77d" d="M1498 1517.6V1576.66L1453 1547.13Z"/><path fill="#fdd77d" d="M1408 1576.66H1498L1453 1547.13Z"/><rect x="1498" y="1517.6" width="90" height="59.06" fill="#fddf8a"/><path fill="#fde28e" d="M1498 1517.6H1588L1543 1547.13Z"/><path fill="#fde28e" d="M1498 1517.6V1576.66L1543 1547.13Z"/><path fill="#fde28e" d="M1588 1517.6V1576.66L1543 1547.13Z"/><path fill="#fdd77d" d="M1498 1576.66H1588L1543 1547.13Z"/><rect x="1588" y="1517.6" width="90" height="59.06" fill="#fde28e"/><path fill="#fde28e" d="M1588 1517.6H1678L1633 1547.13Z"/><path fill="#fde28e" d="M1588 1517.6V1576.66L1633 1547.13Z"/><path fill="#fde28e" d="M1678 1517.6V1576.66L1633 1547.13Z"/><path fill="#fde28e" d="M1588 1576.66H1678L1633 1547.13Z"/><rect x="1678" y="1517.6" width="90" height="59.06" fill="#fde28e"/><path fill="#fde28e" d="M1678 1517.6H1768L1723 1547.13Z"/><path fill="#fde28e" d="M1678 1517.6V1576.66L1723 1547.13Z"/><path fill="#fde28e" d="M1768 1517.6V1576.66L1723 1547.13Z"/><path fill="#fde28e" d="M1678 1576.66H1768L1723 1547.13Z"/><rect x="1768" y="1517.6" width="90" height="59.06" fill="#fdc05a"/><path fill="#fdc05a" d="M1768 1517.6H1858L1813 1547.13Z"/><path fill="#fdc05a" d="M1768 1517.6V1576.66L1813 1547.13Z"/><path fill="#fdc05a" d="M1858 1517.6V1576.66L1813 1547.13Z"/><path fill="#fdc05a" d="M1768 1576.66H1858L1813 1547.13Z"/><rect x="328" y="1576.66" width="90" height="59.06" fill="#fca433"/><path fill="#fb9d33" d="M328 1576.66H418L373 1606.19Z"/><path fill="#fb9d33" d="M328 1576.66V1635.72L373 1606.19Z"/><path fill="#fcaa33" d="M418 1576.66V1635.72L373 1606.19Z"/><path fill="#fcaa33" d="M328 1635.72H418L373 1606.19Z"/><rect x="418" y="1576.66" width="90" height="59.06" fill="#fdb33f"/><path fill="#fcaa33" d="M418 1576.66H508L463 1606.19Z"/><path fill="#fdb643" d="M418 1576.66V1635.72L463 1606.19Z"/><path fill="#fdb643" d="M508 1576.66V1635.72L463 1606.19Z"/><path fill="#fdb643" d="M418 1635.72H508L463 1606.19Z"/><rect x="508" y="1576.66" width="90" height="59.06" fill="#fcb03b"/><path fill="#fcaa33" d="M508 1576.66H598L553 1606.19Z"/><path fill="#fcaa33" d="M508 1576.66V1635.72L553 1606.19Z"/><path fill="#fdb643" d="M598 1576.66V1635.72L553 1606.19Z"/><path fill="#fdb643" d="M508 1635.72H598L553 1606.19Z"/><rect x="598" y="1576.66" width="90" height="59.06" fill="#fba033"/><path fill="#fb9d33" d="M598 1576.66H688L643 1606.19Z"/><path fill="#fcaa33" d="M598 1576.66V1635.72L643 1606.19Z"/><path fill="#fb9d33" d="M688 1576.66V1635.72L643 1606.19Z"/><path fill="#fb9d33" d="M598 1635.72H688L643 1606.19Z"/><rect x="688" y="1576.66" width="90" height="59.06" fill="#fba033"/><path fill="#fb9d33" d="M688 1576.66H778L733 1606.19Z"/><path fill="#fcaa33" d="M688 1576.66V1635.72L733 1606.19Z"/><path fill="#fb9d33" d="M778 1576.66V1635.72L733 1606.19Z"/><path fill="#fb9d33" d="M688 1635.72H778L733 1606.19Z"/><rect x="778" y="1576.66" width="90" height="59.06" fill="#f98c32"/><path fill="#fa9033" d="M778 1576.66H868L823 1606.19Z"/><path fill="#fa9033" d="M778 1576.66V1635.72L823 1606.19Z"/><path fill="#f88830" d="M868 1576.66V1635.72L823 1606.19Z"/><path fill="#f88830" d="M778 1635.72H868L823 1606.19Z"/><rect x="868" y="1576.66" width="90" height="59.06" fill="#fdc35e"/><path fill="#fdc05a" d="M868 1576.66H958L913 1606.19Z"/><path fill="#fdcc6c" d="M868 1576.66V1635.72L913 1606.19Z"/><path fill="#fdc05a" d="M958 1576.66V1635.72L913 1606.19Z"/><path fill="#fdc05a" d="M868 1635.72H958L913 1606.19Z"/><rect x="958" y="1576.66" width="90" height="59.06" fill="#fdc35e"/><path fill="#fdc05a" d="M958 1576.66H1048L1003 1606.19Z"/><path fill="#fdcc6c" d="M958 1576.66V1635.72L1003 1606.19Z"/><path fill="#fdc05a" d="M1048 1576.66V1635.72L1003 1606.19Z"/><path fill="#fdc05a" d="M958 1635.72H1048L1003 1606.19Z"/><rect x="1048" y="1576.66" width="90" height="59.06" fill="#fcaa33"/><path fill="#fcaa33" d="M1048 1576.66H1138L1093 1606.19Z"/><path fill="#fcaa33" d="M1048 1576.66V1635.72L1093 1606.19Z"/><path fill="#fcaa33" d="M1138 1576.66V1635.72L1093 1606.19Z"/><path fill="#fcaa33" d="M1048 1635.72H1138L1093 1606.19Z"/><rect x="1138" y="1576.66" width="90" height="59.06" fill="#fa9333"/><path fill="#fa9033" d="M1138 1576.66H1228L1183 1606.19Z"/><path fill="#fb9d33" d="M1138 1576.66V1635.72L1183 1606.19Z"/><path fill="#fa9033" d="M1228 1576.66V1635.72L1183 1606.19Z"/><path fill="#fa9033" d="M1138 1635.72H1228L1183 1606.19Z"/><rect x="1228" y="1576.66" width="90" height="59.06" fill="#f88830"/><path fill="#f88830" d="M1228 1576.66H1318L1273 1606.19Z"/><path fill="#f88830" d="M1228 1576.66V1635.72L1273 1606.19Z"/><path fill="#f88830" d="M1318 1576.66V1635.72L1273 1606.19Z"/><path fill="#f88830" d="M1228 1635.72H1318L1273 1606.19Z"/><rect x="1318" y="1576.66" width="90" height="59.06" fill="#fdb643"/><path fill="#fdb643" d="M1318 1576.66H1408L1363 1606.19Z"/><path fill="#fdb643" d="M1318 1576.66V1635.72L1363 1606.19Z"/><path fill="#fdb643" d="M1408 1576.66V1635.72L1363 1606.19Z"/><path fill="#fdb643" d="M1318 1635.72H1408L1363 1606.19Z"/><rect x="1408" y="1576.66" width="90" height="59.06" fill="#fcb03b"/><path fill="#fcaa33" d="M1408 1576.66H1498L1453 1606.19Z"/><path fill="#fdb643" d="M1408 1576.66V1635.72L1453 1606.19Z"/><path fill="#fcaa33" d="M1498 1576.66V1635.72L1453 1606.19Z"/><path fill="#fdb643" d="M1408 1635.72H1498L1453 1606.19Z"/><rect x="1498" y="1576.66" width="90" height="59.06" fill="#fa9633"/><path fill="#fa9033" d="M1498 1576.66H1588L1543 1606.19Z"/><path fill="#fa9033" d="M1498 1576.66V1635.72L1543 1606.19Z"/><path fill="#fb9d33" d="M1588 1576.66V1635.72L1543 1606.19Z"/><path fill="#fb9d33" d="M1498 1635.72H1588L1543 1606.19Z"/><rect x="1588" y="1576.66" width="90" height="59.06" fill="#fb9d33"/><path fill="#fb9d33" d="M1588 1576.66H1678L1633 1606.19Z"/><path fill="#fb9d33" d="M1588 1576.66V1635.72L1633 1606.19Z"/><path fill="#fb9d33" d="M1678 1576.66V1635.72L1633 1606.19Z"/><path fill="#fb9d33" d="M1588 1635.72H1678L1633 1606.19Z"/><rect x="1678" y="1576.66" width="90" height="59.06" fill="#fdb33f"/><path fill="#fdb643" d="M1678 1576.66H1768L1723 1606.19Z"/><path fill="#fcaa33" d="M1678 1576.66V1635.72L1723 1606.19Z"/><path fill="#fdb643" d="M1768 1576.66V1635.72L1723 1606.19Z"/><path fill="#fdb643" d="M1678 1635.72H1768L1723 1606.19Z"/><rect x="1768" y="1576.66" width="90" height="59.06" fill="#f88830"/><path fill="#f88830" d="M1768 1576.66H1858L1813 1606.19Z"/><path fill="#f88830" d="M1768 1576.66V1635.72L1813 1606.19Z"/><path fill="#f88830" d="M1858 1576.66V1635.72L1813 1606.19Z"/><path fill="#f88830" d="M1768 1635.72H1858L1813 1606.19Z"/><rect x="328" y="1635.72" width="90" height="59.06" fill="#fa9132"/><path fill="#fa9033" d="M328 1635.72H418L373 1665.25Z"/><path fill="#f88830" d="M328 1635.72V1694.78L373 1665.25Z"/><path fill="#fa9033" d="M418 1635.72V1694.78L373 1665.25Z"/><path fill="#fb9d33" d="M328 1694.78H418L373 1665.25Z"/><rect x="418" y="1635.72" width="90" height="59.06" fill="#fb9d33"/><path fill="#fa9033" d="M418 1635.72H508L463 1665.25Z"/><path fill="#fb9d33" d="M418 1635.72V1694.78L463 1665.25Z"/><path fill="#fb9d33" d="M508 1635.72V1694.78L463 1665.25Z"/><path fill="#fcaa33" d="M418 1694.78H508L463 1665.25Z"/><rect x="508" y="1635.72" width="90" height="59.06" fill="#fa9b32"/><path fill="#f88830" d="M508 1635.72H598L553 1665.25Z"/><path fill="#fb9d33" d="M508 1635.72V1694.78L553 1665.25Z"/><path fill="#fb9d33" d="M598 1635.72V1694.78L553 1665.25Z"/><path fill="#fcaa33" d="M508 1694.78H598L553 1665.25Z"/><rect x="598" y="1635.72" width="90" height="59.06" fill="#ec592c"/><path fill="#ea522c" d="M598 1635.72H688L643 1665.25Z"/><path fill="#ef602d" d="M598 1635.72V1694.78L643 1665.25Z"/><path fill="#ea522c" d="M688 1635.72V1694.78L643 1665.25Z"/><path fill="#ef602d" d="M598 1694.78H688L643 1665.25Z"/><rect x="688" y="1635.72" width="90" height="59.06" fill="#ec592c"/><path fill="#ea522c" d="M688 1635.72H778L733 1665.25Z"/><path fill="#ef602d" d="M688 1635.72V1694.78L733 1665.25Z"/><path fill="#ea522c" d="M778 1635.72V1694.78L733 1665.25Z"/><path fill="#ef602d" d="M688 1694.78H778L733 1665.25Z"/><rect x="778" y="1635.72" width="90" height="59.06" fill="#f98c32"/><path fill="#f88830" d="M778 1635.72H868L823 1665.25Z"/><path fill="#f88830" d="M778 1635.72V1694.78L823 1665.25Z"/><path fill="#fa9033" d="M868 1635.72V1694.78L823 1665.25Z"/><path fill="#fa9033" d="M778 1694.78H868L823 1665.25Z"/><rect x="868" y="1635.72" width="90" height="59.06" fill="#f88630"/><path fill="#f88830" d="M868 1635.72H958L913 1665.25Z"/><path fill="#fa9033" d="M868 1635.72V1694.78L913 1665.25Z"/><path fill="#f88830" d="M958 1635.72V1694.78L913 1665.25Z"/><path fill="#f67a2e" d="M868 1694.78H958L913 1665.25Z"/><rect x="958" y="1635.72" width="90" height="59.06" fill="#fcaa37"/><path fill="#fcaa33" d="M958 1635.72H1048L1003 1665.25Z"/><path fill="#fdb643" d="M958 1635.72V1694.78L1003 1665.25Z"/><path fill="#fcaa33" d="M1048 1635.72V1694.78L1003 1665.25Z"/><path fill="#fb9d33" d="M958 1694.78H1048L1003 1665.25Z"/><rect x="1048" y="1635.72" width="90" height="59.06" fill="#fa9832"/><path fill="#f88830" d="M1048 1635.72H1138L1093 1665.25Z"/><path fill="#fa9033" d="M1048 1635.72V1694.78L1093 1665.25Z"/><path fill="#fb9d33" d="M1138 1635.72V1694.78L1093 1665.25Z"/><path fill="#fcaa33" d="M1048 1694.78H1138L1093 1665.25Z"/><rect x="1138" y="1635.72" width="90" height="59.06" fill="#f4742e"/><path fill="#f36d2e" d="M1138 1635.72H1228L1183 1665.25Z"/><path fill="#f67a2e" d="M1138 1635.72V1694.78L1183 1665.25Z"/><path fill="#f36d2e" d="M1228 1635.72V1694.78L1183 1665.25Z"/><path fill="#f67a2e" d="M1138 1694.78H1228L1183 1665.25Z"/><rect x="1228" y="1635.72" width="90" height="59.06" fill="#f4742e"/><path fill="#f36d2e" d="M1228 1635.72H1318L1273 1665.25Z"/><path fill="#f36d2e" d="M1228 1635.72V1694.78L1273 1665.25Z"/><path fill="#f67a2e" d="M1318 1635.72V1694.78L1273 1665.25Z"/><path fill="#f67a2e" d="M1228 1694.78H1318L1273 1665.25Z"/><rect x="1318" y="1635.72" width="90" height="59.06" fill="#fca433"/><path fill="#fcaa33" d="M1318 1635.72H1408L1363 1665.25Z"/><path fill="#fcaa33" d="M1318 1635.72V1694.78L1363 1665.25Z"/><path fill="#fb9d33" d="M1408 1635.72V1694.78L1363 1665.25Z"/><path fill="#fb9d33" d="M1318 1694.78H1408L1363 1665.25Z"/><rect x="1408" y="1635.72" width="90" height="59.06" fill="#f98f32"/><path fill="#f88830" d="M1408 1635.72H1498L1453 1665.25Z"/><path fill="#fb9d33" d="M1408 1635.72V1694.78L1453 1665.25Z"/><path fill="#f88830" d="M1498 1635.72V1694.78L1453 1665.25Z"/><path fill="#fa9033" d="M1408 1694.78H1498L1453 1665.25Z"/><rect x="1498" y="1635.72" width="90" height="59.06" fill="#f88a31"/><path fill="#f88830" d="M1498 1635.72H1588L1543 1665.25Z"/><path fill="#f88830" d="M1498 1635.72V1694.78L1543 1665.25Z"/><path fill="#f88830" d="M1588 1635.72V1694.78L1543 1665.25Z"/><path fill="#fa9033" d="M1498 1694.78H1588L1543 1665.25Z"/><rect x="1588" y="1635.72" width="90" height="59.06" fill="#f98c32"/><path fill="#f88830" d="M1588 1635.72H1678L1633 1665.25Z"/><path fill="#f88830" d="M1588 1635.72V1694.78L1633 1665.25Z"/><path fill="#fa9033" d="M1678 1635.72V1694.78L1633 1665.25Z"/><path fill="#fa9033" d="M1588 1694.78H1678L1633 1665.25Z"/><rect x="1678" y="1635.72" width="90" height="59.06" fill="#fb9e32"/><path fill="#fb9d33" d="M1678 1635.72H1768L1723 1665.25Z"/><path fill="#f88830" d="M1678 1635.72V1694.78L1723 1665.25Z"/><path fill="#fcaa33" d="M1768 1635.72V1694.78L1723 1665.25Z"/><path fill="#fcaa33" d="M1678 1694.78H1768L1723 1665.25Z"/><rect x="1768" y="1635.72" width="90" height="59.06" fill="#ea522c"/><path fill="#ea522c" d="M1768 1635.72H1858L1813 1665.25Z"/><path fill="#ea522c" d="M1768 1635.72V1694.78L1813 1665.25Z"/><path fill="#ea522c" d="M1858 1635.72V1694.78L1813 1665.25Z"/><path fill="#ea522c" d="M1768 1694.78H1858L1813 1665.25Z"/><rect x="328" y="1694.78" width="90" height="59.06" fill="#fdc966"/><path fill="#fdd77d" d="M328 1694.78H418L373 1724.31Z"/><path fill="#fdd77d" d="M328 1694.78V1753.84L373 1724.31Z"/><path fill="#fdc05a" d="M418 1694.78V1753.84L373 1724.31Z"/><path fill="#fdb643" d="M328 1753.84H418L373 1724.31Z"/><rect x="418" y="1694.78" width="90" height="59.06" fill="#fdbb4e"/><path fill="#fdc05a" d="M418 1694.78H508L463 1724.31Z"/><path fill="#fdb643" d="M418 1694.78V1753.84L463 1724.31Z"/><path fill="#fdc05a" d="M508 1694.78V1753.84L463 1724.31Z"/><path fill="#fdb643" d="M418 1753.84H508L463 1724.31Z"/><rect x="508" y="1694.78" width="90" height="59.06" fill="#fdbb4e"/><path fill="#fdc05a" d="M508 1694.78H598L553 1724.31Z"/><path fill="#fdb643" d="M508 1694.78V1753.84L553 1724.31Z"/><path fill="#fdc05a" d="M598 1694.78V1753.84L553 1724.31Z"/><path fill="#fdb643" d="M508 1753.84H598L553 1724.31Z"/><rect x="598" y="1694.78" width="90" height="59.06" fill="#fa9b32"/><path fill="#fcaa33" d="M598 1694.78H688L643 1724.31Z"/><path fill="#fa9033" d="M598 1694.78V1753.84L643 1724.31Z"/><path fill="#fcaa33" d="M688 1694.78V1753.84L643 1724.31Z"/><path fill="#f88830" d="M598 1753.84H688L643 1724.31Z"/><rect x="688" y="1694.78" width="90" height="59.06" fill="#fa9832"/><path fill="#fb9d33" d="M688 1694.78H778L733 1724.31Z"/><path fill="#fa9033" d="M688 1694.78V1753.84L733 1724.31Z"/><path fill="#fcaa33" d="M778 1694.78V1753.84L733 1724.31Z"/><path fill="#f88830" d="M688 1753.84H778L733 1724.31Z"/><rect x="778" y="1694.78" width="90" height="59.06" fill="#fcb54b"/><path fill="#fdcc6c" d="M778 1694.78H868L823 1724.31Z"/><path fill="#fdc05a" d="M778 1694.78V1753.84L823 1724.31Z"/><path fill="#fcaa33" d="M868 1694.78V1753.84L823 1724.31Z"/><path fill="#fb9d33" d="M778 1753.84H868L823 1724.31Z"/><rect x="868" y="1694.78" width="90" height="59.06" fill="#fcc56a"/><path fill="#fde28e" d="M868 1694.78H958L913 1724.31Z"/><path fill="#fdd77d" d="M868 1694.78V1753.84L913 1724.31Z"/><path fill="#fdcc6c" d="M958 1694.78V1753.84L913 1724.31Z"/><path fill="#fa9033" d="M868 1753.84H958L913 1724.31Z"/><rect x="958" y="1694.78" width="90" height="59.06" fill="#fcc76f"/><path fill="#fde9a0" d="M958 1694.78H1048L1003 1724.31Z"/><path fill="#fdd77d" d="M958 1694.78V1753.84L1003 1724.31Z"/><path fill="#fdcc6c" d="M1048 1694.78V1753.84L1003 1724.31Z"/><path fill="#fa9033" d="M958 1753.84H1048L1003 1724.31Z"/><rect x="1048" y="1694.78" width="90" height="59.06" fill="#fdc35e"/><path fill="#fdd77d" d="M1048 1694.78H1138L1093 1724.31Z"/><path fill="#fdcc6c" d="M1048 1694.78V1753.84L1093 1724.31Z"/><path fill="#fdc05a" d="M1138 1694.78V1753.84L1093 1724.31Z"/><path fill="#fcaa33" d="M1048 1753.84H1138L1093 1724.31Z"/><rect x="1138" y="1694.78" width="90" height="59.06" fill="#f2712e"/><path fill="#f36d2e" d="M1138 1694.78H1228L1183 1724.31Z"/><path fill="#f88830" d="M1138 1694.78V1753.84L1183 1724.31Z"/><path fill="#f88830" d="M1228 1694.78V1753.84L1183 1724.31Z"/><path fill="#e5462c" d="M1138 1753.84H1228L1183 1724.31Z"/><rect x="1228" y="1694.78" width="90" height="59.06" fill="#fcb44f"/><path fill="#fdcc6c" d="M1228 1694.78H1318L1273 1724.31Z"/><path fill="#fdc05a" d="M1228 1694.78V1753.84L1273 1724.31Z"/><path fill="#fdb643" d="M1318 1694.78V1753.84L1273 1724.31Z"/><path fill="#fa9033" d="M1228 1753.84H1318L1273 1724.31Z"/><rect x="1318" y="1694.78" width="90" height="59.06" fill="#fdcf6e"/><path fill="#fde28e" d="M1318 1694.78H1408L1363 1724.31Z"/><path fill="#fdd77d" d="M1318 1694.78V1753.84L1363 1724.31Z"/><path fill="#fdcc6c" d="M1408 1694.78V1753.84L1363 1724.31Z"/><path fill="#fdb643" d="M1318 1753.84H1408L1363 1724.31Z"/><rect x="1408" y="1694.78" width="90" height="59.06" fill="#fcad37"/><path fill="#fdb643" d="M1408 1694.78H1498L1453 1724.31Z"/><path fill="#fcaa33" d="M1408 1694.78V1753.84L1453 1724.31Z"/><path fill="#fcaa33" d="M1498 1694.78V1753.84L1453 1724.31Z"/><path fill="#fcaa33" d="M1408 1753.84H1498L1453 1724.31Z"/><rect x="1498" y="1694.78" width="90" height="59.06" fill="#fcaa37"/><path fill="#fdb643" d="M1498 1694.78H1588L1543 1724.31Z"/><path fill="#fcaa33" d="M1498 1694.78V1753.84L1543 1724.31Z"/><path fill="#fcaa33" d="M1588 1694.78V1753.84L1543 1724.31Z"/><path fill="#fb9d33" d="M1498 1753.84H1588L1543 1724.31Z"/><rect x="1588" y="1694.78" width="90" height="59.06" fill="#fcad37"/><path fill="#fdb643" d="M1588 1694.78H1678L1633 1724.31Z"/><path fill="#fcaa33" d="M1588 1694.78V1753.84L1633 1724.31Z"/><path fill="#fcaa33" d="M1678 1694.78V1753.84L1633 1724.31Z"/><path fill="#fcaa33" d="M1588 1753.84H1678L1633 1724.31Z"/><rect x="1678" y="1694.78" width="90" height="59.06" fill="#fdcc6a"/><path fill="#fdd77d" d="M1678 1694.78H1768L1723 1724.31Z"/><path fill="#fdd77d" d="M1678 1694.78V1753.84L1723 1724.31Z"/><path fill="#fdcc6c" d="M1768 1694.78V1753.84L1723 1724.31Z"/><path fill="#fdb643" d="M1678 1753.84H1768L1723 1724.31Z"/><rect x="1768" y="1694.78" width="90" height="59.06" fill="#fcb245"/><path fill="#fdc05a" d="M1768 1694.78H1858L1813 1724.31Z"/><path fill="#fdb643" d="M1768 1694.78V1753.84L1813 1724.31Z"/><path fill="#fdb643" d="M1858 1694.78V1753.84L1813 1724.31Z"/><path fill="#fb9d33" d="M1768 1753.84H1858L1813 1724.31Z"/></g><path d="M418 336.4V1753.84M508 336.4V1753.84M598 336.4V1753.84M688 336.4V1753.84M778 336.4V1753.84M868 336.4V1753.84M958 336.4V1753.84M1048 336.4V1753.84M1138 336.4V1753.84M1228 336.4V1753.84M1318 336.4V1753.84M1408 336.4V1753.84M1498 336.4V1753.84M1588 336.4V1753.84M1678 336.4V1753.84M1768 336.4V1753.84M328 395.46H1858M328 454.52H1858M328 513.58H1858M328 572.64H1858M328 631.7H1858M328 690.76H1858M328 749.82H1858M328 808.88H1858M328 867.94H1858M328 927H1858M328 986.06H1858M328 1104.18H1858M328 1163.24H1858M328 1222.3H1858M328 1281.36H1858M328 1340.42H1858M328 1399.48H1858M328 1458.54H1858M328 1517.6H1858M328 1576.66H1858M328 1635.72H1858M328 1694.78H1858" stroke="#dcdcdc" stroke-width="2.2" fill="none"/><path d="M328 0V336.4M418 0V336.4M508 0V336.4M598 0V336.4M688 0V336.4M778 0V336.4M868 0V336.4M958 0V336.4M1048 0V336.4M1138 0V336.4M1228 0V336.4M1318 0V336.4M1408 0V336.4M1498 0V336.4M1588 0V336.4M1678 0V336.4M1768 0V336.4M1858 0V336.4M58 336.4V986.06M58 1045.12V1694.78M328 336.4V1753.84M1858 0V1753.84M58 395.46H328M58 454.52H328M58 513.58H328M58 572.64H328M58 631.7H328M58 690.76H328M58 749.82H328M58 808.88H328M58 867.94H328M58 927H328M0 986.06H328M58 1104.18H328M58 1163.24H328M58 1222.3H328M58 1281.36H328M58 1340.42H328M58 1399.48H328M58 1458.54H328M58 1517.6H328M58 1576.66H328M58 1635.72H328M0 1694.78H328M0 336.4H1858M0 1753.84H1858" stroke="#000" stroke-width="2.1" fill="none"/><path d="M0 1045.12H1858" stroke="#000" stroke-width="6.2" fill="none"/><path d="M0 0.5H1858M0.5 0V1753.84" stroke="#000" stroke-opacity="0.35" stroke-width="1" fill="none"/><text transform="translate(85.04 184.30) scale(1.031 1.031)" font-family="'Liberation Sans', sans-serif" font-size="45">Season</text><text transform="translate(388.00 328.00) rotate(-90) scale(0.9565 1)" font-family="'Liberation Sans', sans-serif" font-size="41.9">ACCESS-ESM1-5</text><text transform="translate(478.00 259.63) rotate(-90) scale(0.9647 1)" font-family="'Liberation Sans', sans-serif" font-size="41.9">CanESM5</text><text transform="translate(568.00 331.93) rotate(-90) scale(0.9633 1)" font-family="'Liberation Sans', sans-serif" font-size="41.9">CanESM5-CanOE</text><text transform="translate(658.00 237.24) rotate(-90) scale(0.9707 1)" font-family="'Liberation Sans', sans-serif" font-size="41.9">CESM2</text><text transform="translate(748.00 321.94) rotate(-90) scale(0.9723 1)" font-family="'Liberation Sans', sans-serif" font-size="41.9">CESM2-WACCM</text><text transform="translate(838.00 304.89) rotate(-90) scale(0.9449 1)" font-family="'Liberation Sans', sans-serif" font-size="41.9">CNRM-ESM2-1</text><text transform="translate(928.00 271.02) rotate(-90) scale(0.9616 1)" font-family="'Liberation Sans', sans-serif" font-size="41.9">GFDL-CM4</text><text transform="translate(1018.00 282.82) rotate(-90) scale(0.9595 1)" font-family="'Liberation Sans', sans-serif" font-size="41.9">GFDL-ESM4</text><text transform="translate(1108.00 307.35) rotate(-90) scale(0.9635 1)" font-family="'Liberation Sans', sans-serif" font-size="41.9">IPSL-CM6A-LR</text><text transform="translate(1198.00 292.61) rotate(-90) scale(0.9687 1)" font-family="'Liberation Sans', sans-serif" font-size="41.9">MIROC-ES2L</text><text transform="translate(1288.00 316.09) rotate(-90) scale(0.9639 1)" font-family="'Liberation Sans', sans-serif" font-size="41.9">MPI-ESM1-2-LR</text><text transform="translate(1378.00 319.08) rotate(-90) scale(0.9615 1)" font-family="'Liberation Sans', sans-serif" font-size="41.9">MPI-ESM1-2-HR</text><text transform="translate(1468.00 284.79) rotate(-90) scale(0.9620 1)" font-family="'Liberation Sans', sans-serif" font-size="41.9">MRI-ESM2-0</text><text transform="translate(1558.00 289.70) rotate(-90) scale(0.9676 1)" font-family="'Liberation Sans', sans-serif" font-size="41.9">NorESM2-LM</text><text transform="translate(1648.00 295.09) rotate(-90) scale(0.9625 1)" font-family="'Liberation Sans', sans-serif" font-size="41.9">NorESM2-MM</text><text transform="translate(1738.00 298.17) rotate(-90) scale(0.9583 1)" font-family="'Liberation Sans', sans-serif" font-size="41.9">UKESM1-0-LL</text><text transform="translate(1828.00 273.45) rotate(-90) scale(0.9616 1)" font-family="'Liberation Sans', sans-serif" font-size="41.9">INM-CM4-8</text><text transform="translate(43.00 689.60) rotate(-90) scale(0.9660 1)" font-family="'Liberation Sans', sans-serif" font-size="38.5">ME</text><text transform="translate(42.30 1434.44) rotate(-90) scale(0.9721 1)" font-family="'Liberation Sans', sans-serif" font-size="38.5">cRMSD</text><text transform="translate(144.18 372.50) scale(1.775 1.013)" font-family="'Liberation Serif', serif" font-size="50" font-style="italic">u</text><text transform="translate(185.80 380.40) scale(1.000 1.000)" font-family="'Liberation Sans', sans-serif" font-size="26.8">10m</text><text transform="translate(151.61 430.58) scale(1.290 0.983)" font-family="'Liberation Serif', serif" font-size="50" font-style="italic" stroke="#000" stroke-width="0.3">v</text><text transform="translate(182.48 439.66) scale(1.010 1.010)" font-family="'Liberation Sans', sans-serif" font-size="26.8">10m</text><text transform="translate(162.36 496.32) scale(1.214 1.056)" font-family="'Liberation Serif', serif" font-size="56" font-style="italic" stroke="#000" stroke-width="0.3">t</text><text transform="translate(183.51 504.42) scale(0.986 0.986)" font-family="'Liberation Sans', sans-serif" font-size="26.8">2m</text><text transform="translate(158.80 549.09) scale(1.100 1.018)" font-family="'Liberation Serif', serif" font-size="50" font-style="italic" stroke="#000" stroke-width="0.3">q</text><text transform="translate(188.61 557.28) scale(0.989 0.989)" font-family="'Liberation Sans', sans-serif" font-size="26.8">2m</text><text transform="translate(176.71 619.84) scale(1.106 1.018)" font-family="'DejaVu Serif', serif" font-size="46" font-style="italic">P</text><text transform="translate(150.60 677.10) scale(0.999 0.999)" font-family="'Liberation Sans', sans-serif" font-size="43.5">rsds</text><text transform="translate(156.45 736.06) scale(1.017 1.017)" font-family="'Liberation Sans', sans-serif" font-size="43.5">rlds</text><text transform="translate(133.96 791.92) scale(1.022 0.997)" font-family="'DejaVu Serif', serif" font-size="44" font-style="italic">θ</text><text transform="translate(161.40 800.02) scale(1.000 1.000)" font-family="'Liberation Sans', sans-serif" font-size="26.8">surface</text><text transform="translate(111.98 850.58) scale(0.961 0.994)" font-family="'DejaVu Serif', serif" font-size="44" font-style="italic">θ</text><text transform="translate(139.41 859.18) scale(0.993 0.993)" font-family="'Liberation Sans', sans-serif" font-size="26.8">above1500</text><text transform="translate(131.90 909.44) scale(1.104 1.027)" font-family="'DejaVu Serif', serif" font-size="45" font-style="italic">S</text><text transform="translate(165.10 917.54) scale(1.000 1.000)" font-family="'Liberation Sans', sans-serif" font-size="26.8">surface</text><text transform="translate(109.82 968.30) scale(1.079 1.003)" font-family="'DejaVu Serif', serif" font-size="45" font-style="italic">S</text><text transform="translate(143.01 977.10) scale(0.994 0.994)" font-family="'Liberation Sans', sans-serif" font-size="26.8">above1500</text><text transform="translate(124.70 1029.26) scale(0.958 0.958)" font-family="'Liberation Sans', sans-serif" font-size="38">VME</text><text transform="translate(144.18 1081.22) scale(1.775 1.013)" font-family="'Liberation Serif', serif" font-size="50" font-style="italic">u</text><text transform="translate(185.80 1089.12) scale(1.000 1.000)" font-family="'Liberation Sans', sans-serif" font-size="26.8">10m</text><text transform="translate(151.61 1139.30) scale(1.290 0.983)" font-family="'Liberation Serif', serif" font-size="50" font-style="italic" stroke="#000" stroke-width="0.3">v</text><text transform="translate(182.48 1148.38) scale(1.010 1.010)" font-family="'Liberation Sans', sans-serif" font-size="26.8">10m</text><text transform="translate(162.36 1205.04) scale(1.214 1.056)" font-family="'Liberation Serif', serif" font-size="56" font-style="italic" stroke="#000" stroke-width="0.3">t</text><text transform="translate(183.51 1213.14) scale(0.986 0.986)" font-family="'Liberation Sans', sans-serif" font-size="26.8">2m</text><text transform="translate(158.80 1257.81) scale(1.100 1.018)" font-family="'Liberation Serif', serif" font-size="50" font-style="italic" stroke="#000" stroke-width="0.3">q</text><text transform="translate(188.61 1266.00) scale(0.989 0.989)" font-family="'Liberation Sans', sans-serif" font-size="26.8">2m</text><text transform="translate(176.71 1328.56) scale(1.106 1.018)" font-family="'DejaVu Serif', serif" font-size="46" font-style="italic">P</text><text transform="translate(150.60 1385.82) scale(0.999 0.999)" font-family="'Liberation Sans', sans-serif" font-size="43.5">rsds</text><text transform="translate(156.45 1444.78) scale(1.017 1.017)" font-family="'Liberation Sans', sans-serif" font-size="43.5">rlds</text><text transform="translate(133.96 1500.64) scale(1.022 0.997)" font-family="'DejaVu Serif', serif" font-size="44" font-style="italic">θ</text><text transform="translate(161.40 1508.74) scale(1.000 1.000)" font-family="'Liberation Sans', sans-serif" font-size="26.8">surface</text><text transform="translate(111.98 1559.30) scale(0.961 0.994)" font-family="'DejaVu Serif', serif" font-size="44" font-style="italic">θ</text><text transform="translate(139.41 1567.90) scale(0.993 0.993)" font-family="'Liberation Sans', sans-serif" font-size="26.8">above1500</text><text transform="translate(131.90 1618.16) scale(1.104 1.027)" font-family="'DejaVu Serif', serif" font-size="45" font-style="italic">S</text><text transform="translate(165.10 1626.26) scale(1.000 1.000)" font-family="'Liberation Sans', sans-serif" font-size="26.8">surface</text><text transform="translate(109.82 1677.02) scale(1.079 1.003)" font-family="'DejaVu Serif', serif" font-size="45" font-style="italic">S</text><text transform="translate(143.01 1685.82) scale(0.994 0.994)" font-family="'Liberation Sans', sans-serif" font-size="26.8">above1500</text><text transform="translate(86.11 1738.28) scale(0.993 0.993)" font-family="'Liberation Sans', sans-serif" font-size="38">cRMSVD</text><rect x="0.75" y="1772" width="1857" height="269.5" fill="none" stroke="#d8d8d8" stroke-width="1.6"/><rect x="12.7" y="1817" width="273.7" height="178.9" fill="none" stroke="#000" stroke-width="2.2"/><path d="M12.7 1817L286.4 1995.9M12.7 1995.9L286.4 1817" stroke="#000" stroke-width="2.3" fill="none"/><text transform="translate(119.47 1857.70) scale(1.011 1.011)" font-family="'Liberation Sans', sans-serif" font-size="31">DJF</text><text transform="translate(15.75 1918.20) scale(1.016 1.016)" font-family="'Liberation Sans', sans-serif" font-size="31">MAM</text><text transform="translate(214.48 1918.20) scale(1.011 1.011)" font-family="'Liberation Sans', sans-serif" font-size="31">SON</text><text transform="translate(123.19 1978.30) scale(1.012 1.012)" font-family="'Liberation Sans', sans-serif" font-size="31">JJA</text><text transform="translate(298.18 1859.50) scale(0.974 0.974)" font-family="'Liberation Sans', sans-serif" font-size="32">ME/VME</text><text transform="translate(299.13 1977.20) scale(0.967 0.967)" font-family="'Liberation Sans', sans-serif" font-size="32">cRMSD/cRMSVD</text><rect x="584.9" y="1813.3" width="36.89" height="33.7" fill="#1e4b5e" stroke="#000" stroke-width="1.9"/><rect x="621.79" y="1813.3" width="36.89" height="33.7" fill="#1f5966" stroke="#000" stroke-width="1.9"/><rect x="658.67" y="1813.3" width="36.89" height="33.7" fill="#1a646c" stroke="#000" stroke-width="1.9"/><rect x="695.56" y="1813.3" width="36.89" height="33.7" fill="#177173" stroke="#000" stroke-width="1.9"/><rect x="732.44" y="1813.3" width="36.89" height="33.7" fill="#137f7a" stroke="#000" stroke-width="1.9"/><rect x="769.33" y="1813.3" width="36.89" height="33.7" fill="#1a8c82" stroke="#000" stroke-width="1.9"/><rect x="806.21" y="1813.3" width="36.89" height="33.7" fill="#2d9680" stroke="#000" stroke-width="1.9"/><rect x="843.1" y="1813.3" width="36.89" height="33.7" fill="#47a385" stroke="#000" stroke-width="1.9"/><rect x="879.98" y="1813.3" width="36.89" height="33.7" fill="#5da98a" stroke="#000" stroke-width="1.9"/><rect x="916.87" y="1813.3" width="36.89" height="33.7" fill="#72b190" stroke="#000" stroke-width="1.9"/><rect x="953.75" y="1813.3" width="36.89" height="33.7" fill="#8fbe9b" stroke="#000" stroke-width="1.9"/><rect x="990.64" y="1813.3" width="36.89" height="33.7" fill="#a3c4a4" stroke="#000" stroke-width="1.9"/><rect x="1027.52" y="1813.3" width="36.89" height="33.7" fill="#b3cdb0" stroke="#000" stroke-width="1.9"/><rect x="1064.41" y="1813.3" width="36.89" height="33.7" fill="#c8d5c0" stroke="#000" stroke-width="1.9"/><rect x="1101.29" y="1813.3" width="36.89" height="33.7" fill="#dbdecd" stroke="#000" stroke-width="1.9"/><rect x="1138.18" y="1813.3" width="36.89" height="33.7" fill="#ebe7de" stroke="#000" stroke-width="1.9"/><rect x="1175.06" y="1813.3" width="36.89" height="33.7" fill="#ffffff" stroke="#000" stroke-width="1.9"/><rect x="1211.95" y="1813.3" width="36.89" height="33.7" fill="#ffffff" stroke="#000" stroke-width="1.9"/><rect x="1248.84" y="1813.3" width="36.89" height="33.7" fill="#f7e9e5" stroke="#000" stroke-width="1.9"/><rect x="1285.72" y="1813.3" width="36.89" height="33.7" fill="#f2dcd1" stroke="#000" stroke-width="1.9"/><rect x="1322.61" y="1813.3" width="36.89" height="33.7" fill="#edcfc0" stroke="#000" stroke-width="1.9"/><rect x="1359.49" y="1813.3" width="36.89" height="33.7" fill="#e9bfaa" stroke="#000" stroke-width="1.9"/><rect x="1396.38" y="1813.3" width="36.89" height="33.7" fill="#e5b09a" stroke="#000" stroke-width="1.9"/><rect x="1433.26" y="1813.3" width="36.89" height="33.7" fill="#e0a48a" stroke="#000" stroke-width="1.9"/><rect x="1470.15" y="1813.3" width="36.89" height="33.7" fill="#dc957d" stroke="#000" stroke-width="1.9"/><rect x="1507.03" y="1813.3" width="36.89" height="33.7" fill="#d78a74" stroke="#000" stroke-width="1.9"/><rect x="1543.92" y="1813.3" width="36.89" height="33.7" fill="#d57c6c" stroke="#000" stroke-width="1.9"/><rect x="1580.8" y="1813.3" width="36.89" height="33.7" fill="#d2706a" stroke="#000" stroke-width="1.9"/><rect x="1617.69" y="1813.3" width="36.89" height="33.7" fill="#c96264" stroke="#000" stroke-width="1.9"/><rect x="1654.57" y="1813.3" width="36.89" height="33.7" fill="#c05461" stroke="#000" stroke-width="1.9"/><rect x="1691.46" y="1813.3" width="36.89" height="33.7" fill="#b84c61" stroke="#000" stroke-width="1.9"/><rect x="1728.34" y="1813.3" width="36.89" height="33.7" fill="#ab3d5f" stroke="#000" stroke-width="1.9"/><rect x="1765.23" y="1813.3" width="36.89" height="33.7" fill="#a33460" stroke="#000" stroke-width="1.9"/><rect x="1802.11" y="1813.3" width="36.89" height="33.7" fill="#932a62" stroke="#000" stroke-width="1.9"/><text x="658.67" y="1878" font-family="'Liberation Sans', Arial, Helvetica, sans-serif" font-weight="bold" font-size="28" text-anchor="middle">-0.938</text><text x="769.33" y="1878" font-family="'Liberation Sans', Arial, Helvetica, sans-serif" font-weight="bold" font-size="28" text-anchor="middle">-0.750</text><text x="879.98" y="1878" font-family="'Liberation Sans', Arial, Helvetica, sans-serif" font-weight="bold" font-size="28" text-anchor="middle">-0.562</text><text x="990.64" y="1878" font-family="'Liberation Sans', Arial, Helvetica, sans-serif" font-weight="bold" font-size="28" text-anchor="middle">-0.375</text><text x="1101.29" y="1878" font-family="'Liberation Sans', Arial, Helvetica, sans-serif" font-weight="bold" font-size="28" text-anchor="middle">-0.188</text><text x="1211.95" y="1878" font-family="'Liberation Sans', Arial, Helvetica, sans-serif" font-weight="bold" font-size="28" text-anchor="middle">0.000</text><text x="1322.61" y="1878" font-family="'Liberation Sans', Arial, Helvetica, sans-serif" font-weight="bold" font-size="28" text-anchor="middle">0.188</text><text x="1433.26" y="1878" font-family="'Liberation Sans', Arial, Helvetica, sans-serif" font-weight="bold" font-size="28" text-anchor="middle">0.375</text><text x="1543.92" y="1878" font-family="'Liberation Sans', Arial, Helvetica, sans-serif" font-weight="bold" font-size="28" text-anchor="middle">0.562</text><text x="1654.57" y="1878" font-family="'Liberation Sans', Arial, Helvetica, sans-serif" font-weight="bold" font-size="28" text-anchor="middle">0.750</text><text x="1765.23" y="1878" font-family="'Liberation Sans', Arial, Helvetica, sans-serif" font-weight="bold" font-size="28" text-anchor="middle">0.938</text><rect x="584.9" y="1932.5" width="59.72" height="34.5" fill="#fffcee" stroke="#000" stroke-width="1.9"/><rect x="644.62" y="1932.5" width="59.72" height="34.5" fill="#fff7dd" stroke="#000" stroke-width="1.9"/><rect x="704.34" y="1932.5" width="59.72" height="34.5" fill="#fef3c7" stroke="#000" stroke-width="1.9"/><rect x="764.06" y="1932.5" width="59.72" height="34.5" fill="#fdefb6" stroke="#000" stroke-width="1.9"/><rect x="823.78" y="1932.5" width="59.72" height="34.5" fill="#fde9a0" stroke="#000" stroke-width="1.9"/><rect x="883.5" y="1932.5" width="59.72" height="34.5" fill="#fde28e" stroke="#000" stroke-width="1.9"/><rect x="943.21" y="1932.5" width="59.72" height="34.5" fill="#fdd77d" stroke="#000" stroke-width="1.9"/><rect x="1002.93" y="1932.5" width="59.72" height="34.5" fill="#fdcc6c" stroke="#000" stroke-width="1.9"/><rect x="1062.65" y="1932.5" width="59.72" height="34.5" fill="#fdc05a" stroke="#000" stroke-width="1.9"/><rect x="1122.37" y="1932.5" width="59.72" height="34.5" fill="#fdb643" stroke="#000" stroke-width="1.9"/><rect x="1182.09" y="1932.5" width="59.72" height="34.5" fill="#fcaa33" stroke="#000" stroke-width="1.9"/><rect x="1241.81" y="1932.5" width="59.72" height="34.5" fill="#fb9d33" stroke="#000" stroke-width="1.9"/><rect x="1301.53" y="1932.5" width="59.72" height="34.5" fill="#fa9033" stroke="#000" stroke-width="1.9"/><rect x="1361.25" y="1932.5" width="59.72" height="34.5" fill="#f88830" stroke="#000" stroke-width="1.9"/><rect x="1420.97" y="1932.5" width="59.72" height="34.5" fill="#f67a2e" stroke="#000" stroke-width="1.9"/><rect x="1480.69" y="1932.5" width="59.72" height="34.5" fill="#f36d2e" stroke="#000" stroke-width="1.9"/><rect x="1540.4" y="1932.5" width="59.72" height="34.5" fill="#ef602d" stroke="#000" stroke-width="1.9"/><rect x="1600.12" y="1932.5" width="59.72" height="34.5" fill="#ea522c" stroke="#000" stroke-width="1.9"/><rect x="1659.84" y="1932.5" width="59.72" height="34.5" fill="#e5462c" stroke="#000" stroke-width="1.9"/><rect x="1719.56" y="1932.5" width="59.72" height="34.5" fill="#de382b" stroke="#000" stroke-width="1.9"/><rect x="1779.28" y="1932.5" width="59.72" height="34.5" fill="#d3262a" stroke="#000" stroke-width="1.9"/><text x="704.34" y="1997.5" font-family="'Liberation Sans', Arial, Helvetica, sans-serif" font-weight="bold" font-size="28" text-anchor="middle">0.100</text><text x="823.78" y="1997.5" font-family="'Liberation Sans', Arial, Helvetica, sans-serif" font-weight="bold" font-size="28" text-anchor="middle">0.200</text><text x="943.21" y="1997.5" font-family="'Liberation Sans', Arial, Helvetica, sans-serif" font-weight="bold" font-size="28" text-anchor="middle">0.300</text><text x="1062.65" y="1997.5" font-family="'Liberation Sans', Arial, Helvetica, sans-serif" font-weight="bold" font-size="28" text-anchor="middle">0.400</text><text x="1182.09" y="1997.5" font-family="'Liberation Sans', Arial, Helvetica, sans-serif" font-weight="bold" font-size="28" text-anchor="middle">0.500</text><text x="1301.53" y="1997.5" font-family="'Liberation Sans', Arial, Helvetica, sans-serif" font-weight="bold" font-size="28" text-anchor="middle">0.600</text><text x="1420.97" y="1997.5" font-family="'Liberation Sans', Arial, Helvetica, sans-serif" font-weight="bold" font-size="28" text-anchor="middle">0.700</text><text x="1540.4" y="1997.5" font-family="'Liberation Sans', Arial, Helvetica, sans-serif" font-weight="bold" font-size="28" text-anchor="middle">0.800</text><text x="1659.84" y="1997.5" font-family="'Liberation Sans', Arial, Helvetica, sans-serif" font-weight="bold" font-size="28" text-anchor="middle">0.900</text><text x="1779.28" y="1997.5" font-family="'Liberation Sans', Arial, Helvetica, sans-serif" font-weight="bold" font-size="28" text-anchor="middle">1.000</text></svg></body></html>
